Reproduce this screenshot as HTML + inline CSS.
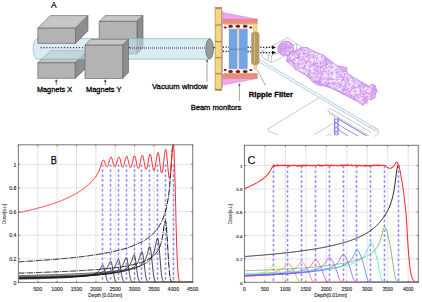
<!DOCTYPE html>
<html><head><meta charset="utf-8"><style>
html,body{margin:0;padding:0;background:#fff;}
body{width:422px;height:302px;overflow:hidden;}
svg{display:block;}
text{font-family:"Liberation Sans",sans-serif;}
</style></head><body>
<svg width="422" height="302" viewBox="0 0 422 302">
<rect x="0" y="0" width="422" height="302" fill="#fff"/>

<line x1="37.8" y1="144.8" x2="37.8" y2="282.4" stroke="#c4c4c4" stroke-width="0.9" stroke-dasharray="1,1"/>
<line x1="57.1" y1="144.8" x2="57.1" y2="282.4" stroke="#c4c4c4" stroke-width="0.9" stroke-dasharray="1,1"/>
<line x1="76.5" y1="144.8" x2="76.5" y2="282.4" stroke="#c4c4c4" stroke-width="0.9" stroke-dasharray="1,1"/>
<line x1="95.9" y1="144.8" x2="95.9" y2="282.4" stroke="#c4c4c4" stroke-width="0.9" stroke-dasharray="1,1"/>
<line x1="115.2" y1="144.8" x2="115.2" y2="282.4" stroke="#c4c4c4" stroke-width="0.9" stroke-dasharray="1,1"/>
<line x1="134.6" y1="144.8" x2="134.6" y2="282.4" stroke="#c4c4c4" stroke-width="0.9" stroke-dasharray="1,1"/>
<line x1="154" y1="144.8" x2="154" y2="282.4" stroke="#c4c4c4" stroke-width="0.9" stroke-dasharray="1,1"/>
<line x1="173.3" y1="144.8" x2="173.3" y2="282.4" stroke="#c4c4c4" stroke-width="0.9" stroke-dasharray="1,1"/>
<line x1="18.4" y1="258.8" x2="192.7" y2="258.8" stroke="#c4c4c4" stroke-width="0.9" stroke-dasharray="1,1"/>
<line x1="18.4" y1="235.2" x2="192.7" y2="235.2" stroke="#c4c4c4" stroke-width="0.9" stroke-dasharray="1,1"/>
<line x1="18.4" y1="211.6" x2="192.7" y2="211.6" stroke="#c4c4c4" stroke-width="0.9" stroke-dasharray="1,1"/>
<line x1="18.4" y1="188" x2="192.7" y2="188" stroke="#c4c4c4" stroke-width="0.9" stroke-dasharray="1,1"/>
<line x1="18.4" y1="164.4" x2="192.7" y2="164.4" stroke="#c4c4c4" stroke-width="0.9" stroke-dasharray="1,1"/>
<line x1="102.5" y1="164.4" x2="102.5" y2="282.4" stroke="#9090fc" stroke-width="1.6" stroke-dasharray="2.7,2.2"/>
<line x1="110.5" y1="164.4" x2="110.5" y2="282.4" stroke="#9090fc" stroke-width="1.6" stroke-dasharray="2.7,2.2"/>
<line x1="118.5" y1="164.4" x2="118.5" y2="282.4" stroke="#9090fc" stroke-width="1.6" stroke-dasharray="2.7,2.2"/>
<line x1="126.5" y1="164.4" x2="126.5" y2="282.4" stroke="#9090fc" stroke-width="1.6" stroke-dasharray="2.7,2.2"/>
<line x1="134.5" y1="164.4" x2="134.5" y2="282.4" stroke="#9090fc" stroke-width="1.6" stroke-dasharray="2.7,2.2"/>
<line x1="141.5" y1="164.4" x2="141.5" y2="282.4" stroke="#9090fc" stroke-width="1.6" stroke-dasharray="2.7,2.2"/>
<line x1="149.5" y1="164.4" x2="149.5" y2="282.4" stroke="#9090fc" stroke-width="1.6" stroke-dasharray="2.7,2.2"/>
<line x1="157.5" y1="164.4" x2="157.5" y2="282.4" stroke="#9090fc" stroke-width="1.6" stroke-dasharray="2.7,2.2"/>
<line x1="165.5" y1="164.4" x2="165.5" y2="282.4" stroke="#9090fc" stroke-width="1.6" stroke-dasharray="2.7,2.2"/>
<line x1="173.5" y1="164.4" x2="173.5" y2="282.4" stroke="#9090fc" stroke-width="1.6" stroke-dasharray="2.7,2.2"/>
<clipPath id="cpB"><rect x="18.4" y="144.8" width="174.3" height="137.6"/></clipPath>
<g clip-path="url(#cpB)" fill="none" stroke-linejoin="round">
<path d="M18.4,279.1 L18.8,279.1 L19.2,279.1 L19.6,279.1 L19.9,279.1 L20.3,279.1 L20.7,279.1 L21.1,279.1 L21.5,279 L21.9,279 L22.3,279 L22.7,279 L23,279 L23.4,279 L23.8,279 L24.2,279 L24.6,279 L25,279 L25.4,279 L25.8,279 L26.1,279 L26.5,279 L26.9,278.9 L27.3,278.9 L27.7,278.9 L28.1,278.9 L28.5,278.9 L28.9,278.9 L29.2,278.9 L29.6,278.9 L30,278.9 L30.4,278.9 L30.8,278.9 L31.2,278.9 L31.6,278.8 L32,278.8 L32.3,278.8 L32.7,278.8 L33.1,278.8 L33.5,278.8 L33.9,278.8 L34.3,278.8 L34.7,278.8 L35.1,278.8 L35.4,278.8 L35.8,278.8 L36.2,278.7 L36.6,278.7 L37,278.7 L37.4,278.7 L37.8,278.7 L38.2,278.7 L38.5,278.7 L38.9,278.7 L39.3,278.7 L39.7,278.7 L40.1,278.7 L40.5,278.6 L40.9,278.6 L41.3,278.6 L41.6,278.6 L42,278.6 L42.4,278.6 L42.8,278.6 L43.2,278.6 L43.6,278.6 L44,278.5 L44.4,278.5 L44.7,278.5 L45.1,278.5 L45.5,278.5 L45.9,278.5 L46.3,278.5 L46.7,278.5 L47.1,278.5 L47.4,278.4 L47.8,278.4 L48.2,278.4 L48.6,278.4 L49,278.4 L49.4,278.4 L49.8,278.4 L50.2,278.4 L50.5,278.3 L50.9,278.3 L51.3,278.3 L51.7,278.3 L52.1,278.3 L52.5,278.3 L52.9,278.3 L53.3,278.3 L53.6,278.2 L54,278.2 L54.4,278.2 L54.8,278.2 L55.2,278.2 L55.6,278.2 L56,278.2 L56.4,278.1 L56.7,278.1 L57.1,278.1 L57.5,278.1 L57.9,278.1 L58.3,278.1 L58.7,278 L59.1,278 L59.5,278 L59.8,278 L60.2,278 L60.6,278 L61,277.9 L61.4,277.9 L61.8,277.9 L62.2,277.9 L62.6,277.9 L62.9,277.9 L63.3,277.8 L63.7,277.8 L64.1,277.8 L64.5,277.8 L64.9,277.8 L65.3,277.7 L65.7,277.7 L66,277.7 L66.4,277.7 L66.8,277.7 L67.2,277.6 L67.6,277.6 L68,277.6 L68.4,277.6 L68.8,277.5 L69.1,277.5 L69.5,277.5 L69.9,277.5 L70.3,277.5 L70.7,277.4 L71.1,277.4 L71.5,277.4 L71.9,277.4 L72.2,277.3 L72.6,277.3 L73,277.3 L73.4,277.2 L73.8,277.2 L74.2,277.2 L74.6,277.2 L75,277.1 L75.3,277.1 L75.7,277.1 L76.1,277 L76.5,277 L76.9,277 L77.3,276.9 L77.7,276.9 L78,276.9 L78.4,276.8 L78.8,276.8 L79.2,276.8 L79.6,276.7 L80,276.7 L80.4,276.6 L80.8,276.6 L81.1,276.5 L81.5,276.5 L81.9,276.5 L82.3,276.4 L82.7,276.4 L83.1,276.3 L83.5,276.3 L83.9,276.2 L84.2,276.2 L84.6,276.1 L85,276.1 L85.4,276 L85.8,275.9 L86.2,275.9 L86.6,275.8 L87,275.8 L87.3,275.7 L87.7,275.6 L88.1,275.5 L88.5,275.5 L88.9,275.4 L89.3,275.3 L89.7,275.2 L90.1,275.2 L90.4,275.1 L90.8,275 L91.2,274.9 L91.6,274.8 L92,274.7 L92.4,274.6 L92.8,274.4 L93.2,274.3 L93.5,274.2 L93.9,274 L94.3,273.9 L94.7,273.7 L95.1,273.6 L95.5,273.4 L95.9,273.2 L96.3,273 L96.6,272.8 L97,272.5 L97.4,272.3 L97.8,272 L98.2,271.6 L98.6,271.3 L99,270.8 L99.4,270.4 L99.7,269.8 L100.1,269.2 L100.5,268.5 L100.9,267.7 L101.3,266.9 L101.7,266.2 L102.1,265.6 L102.5,265.2 L102.8,265.1 L103.2,265.4 L103.6,266.1 L104,267.3 L104.4,268.8 L104.8,270.6 L105.2,272.6 L105.5,274.5 L105.9,276.3 L106.3,277.9 L106.7,279.2 L107.1,280.2 L107.5,281 L107.9,281.5 L108.3,281.9 L108.6,282.1 L109,282.2 L109.4,282.3 L109.8,282.4 L110.2,282.4 L110.6,282.4 L111,282.4 L111.4,282.4 L111.7,282.4 L112.1,282.4 L112.5,282.4 L112.9,282.4 L113.3,282.4 L113.7,282.4 L114.1,282.4 L114.5,282.4 L114.8,282.4 L115.2,282.4 L115.6,282.4 L116,282.4 L116.4,282.4 L116.8,282.4 L117.2,282.4 L117.6,282.4 L117.9,282.4 L118.3,282.4 L118.7,282.4 L119.1,282.4 L119.5,282.4 L119.9,282.4 L120.3,282.4 L120.7,282.4 L121,282.4 L121.4,282.4 L121.8,282.4 L122.2,282.4 L122.6,282.4 L123,282.4 L123.4,282.4 L123.8,282.4 L124.1,282.4 L124.5,282.4 L124.9,282.4 L125.3,282.4 L125.7,282.4 L126.1,282.4 L126.5,282.4 L126.9,282.4 L127.2,282.4 L127.6,282.4 L128,282.4 L128.4,282.4 L128.8,282.4 L129.2,282.4 L129.6,282.4 L130,282.4 L130.3,282.4 L130.7,282.4 L131.1,282.4 L131.5,282.4 L131.9,282.4 L132.3,282.4 L132.7,282.4 L133.1,282.4 L133.4,282.4 L133.8,282.4 L134.2,282.4 L134.6,282.4 L135,282.4 L135.4,282.4 L135.8,282.4 L136.1,282.4 L136.5,282.4 L136.9,282.4 L137.3,282.4 L137.7,282.4 L138.1,282.4 L138.5,282.4 L138.9,282.4 L139.2,282.4 L139.6,282.4 L140,282.4 L140.4,282.4 L140.8,282.4 L141.2,282.4 L141.6,282.4 L142,282.4 L142.3,282.4 L142.7,282.4 L143.1,282.4 L143.5,282.4 L143.9,282.4 L144.3,282.4 L144.7,282.4 L145.1,282.4 L145.4,282.4 L145.8,282.4 L146.2,282.4 L146.6,282.4 L147,282.4 L147.4,282.4 L147.8,282.4 L148.2,282.4 L148.5,282.4 L148.9,282.4 L149.3,282.4 L149.7,282.4 L150.1,282.4 L150.5,282.4 L150.9,282.4 L151.3,282.4 L151.6,282.4 L152,282.4 L152.4,282.4 L152.8,282.4 L153.2,282.4 L153.6,282.4 L154,282.4 L154.4,282.4 L154.7,282.4 L155.1,282.4 L155.5,282.4 L155.9,282.4 L156.3,282.4 L156.7,282.4 L157.1,282.4 L157.5,282.4 L157.8,282.4 L158.2,282.4 L158.6,282.4 L159,282.4 L159.4,282.4 L159.8,282.4 L160.2,282.4 L160.6,282.4 L160.9,282.4 L161.3,282.4 L161.7,282.4 L162.1,282.4 L162.5,282.4 L162.9,282.4 L163.3,282.4 L163.6,282.4 L164,282.4 L164.4,282.4 L164.8,282.4 L165.2,282.4 L165.6,282.4 L166,282.4 L166.4,282.4 L166.7,282.4 L167.1,282.4 L167.5,282.4 L167.9,282.4 L168.3,282.4 L168.7,282.4 L169.1,282.4 L169.5,282.4 L169.8,282.4 L170.2,282.4 L170.6,282.4 L171,282.4 L171.4,282.4 L171.8,282.4 L172.2,282.4 L172.6,282.4 L172.9,282.4 L173.3,282.4 L173.7,282.4 L174.1,282.4 L174.5,282.4 L174.9,282.4 L175.3,282.4 L175.7,282.4 L176,282.4 L176.4,282.4 L176.8,282.4 L177.2,282.4 L177.6,282.4 L178,282.4 L178.4,282.4 L178.8,282.4 L179.1,282.4 L179.5,282.4 L179.9,282.4 L180.3,282.4 L180.7,282.4 L181.1,282.4 L181.5,282.4 L181.9,282.4 L182.2,282.4 L182.6,282.4 L183,282.4 L183.4,282.4 L183.8,282.4 L184.2,282.4 L184.6,282.4 L185,282.4 L185.3,282.4 L185.7,282.4 L186.1,282.4 L186.5,282.4 L186.9,282.4 L187.3,282.4 L187.7,282.4 L188.1,282.4 L188.4,282.4 L188.8,282.4 L189.2,282.4 L189.6,282.4 L190,282.4 L190.4,282.4 L190.8,282.4 L191.2,282.4 L191.5,282.4 L191.9,282.4 L192.3,282.4 L192.7,282.4" stroke="#1a1a1a" stroke-width="0.8" />
<path d="M18.4,278.5 L18.8,278.5 L19.2,278.5 L19.6,278.5 L19.9,278.5 L20.3,278.5 L20.7,278.5 L21.1,278.4 L21.5,278.4 L21.9,278.4 L22.3,278.4 L22.7,278.4 L23,278.4 L23.4,278.4 L23.8,278.4 L24.2,278.4 L24.6,278.4 L25,278.4 L25.4,278.4 L25.8,278.4 L26.1,278.3 L26.5,278.3 L26.9,278.3 L27.3,278.3 L27.7,278.3 L28.1,278.3 L28.5,278.3 L28.9,278.3 L29.2,278.3 L29.6,278.3 L30,278.3 L30.4,278.3 L30.8,278.2 L31.2,278.2 L31.6,278.2 L32,278.2 L32.3,278.2 L32.7,278.2 L33.1,278.2 L33.5,278.2 L33.9,278.2 L34.3,278.2 L34.7,278.2 L35.1,278.2 L35.4,278.1 L35.8,278.1 L36.2,278.1 L36.6,278.1 L37,278.1 L37.4,278.1 L37.8,278.1 L38.2,278.1 L38.5,278.1 L38.9,278.1 L39.3,278 L39.7,278 L40.1,278 L40.5,278 L40.9,278 L41.3,278 L41.6,278 L42,278 L42.4,278 L42.8,278 L43.2,277.9 L43.6,277.9 L44,277.9 L44.4,277.9 L44.7,277.9 L45.1,277.9 L45.5,277.9 L45.9,277.9 L46.3,277.8 L46.7,277.8 L47.1,277.8 L47.4,277.8 L47.8,277.8 L48.2,277.8 L48.6,277.8 L49,277.8 L49.4,277.8 L49.8,277.7 L50.2,277.7 L50.5,277.7 L50.9,277.7 L51.3,277.7 L51.7,277.7 L52.1,277.7 L52.5,277.6 L52.9,277.6 L53.3,277.6 L53.6,277.6 L54,277.6 L54.4,277.6 L54.8,277.6 L55.2,277.6 L55.6,277.5 L56,277.5 L56.4,277.5 L56.7,277.5 L57.1,277.5 L57.5,277.5 L57.9,277.4 L58.3,277.4 L58.7,277.4 L59.1,277.4 L59.5,277.4 L59.8,277.4 L60.2,277.4 L60.6,277.3 L61,277.3 L61.4,277.3 L61.8,277.3 L62.2,277.3 L62.6,277.3 L62.9,277.2 L63.3,277.2 L63.7,277.2 L64.1,277.2 L64.5,277.2 L64.9,277.1 L65.3,277.1 L65.7,277.1 L66,277.1 L66.4,277.1 L66.8,277 L67.2,277 L67.6,277 L68,277 L68.4,277 L68.8,276.9 L69.1,276.9 L69.5,276.9 L69.9,276.9 L70.3,276.9 L70.7,276.8 L71.1,276.8 L71.5,276.8 L71.9,276.8 L72.2,276.7 L72.6,276.7 L73,276.7 L73.4,276.7 L73.8,276.6 L74.2,276.6 L74.6,276.6 L75,276.6 L75.3,276.5 L75.7,276.5 L76.1,276.5 L76.5,276.5 L76.9,276.4 L77.3,276.4 L77.7,276.4 L78,276.3 L78.4,276.3 L78.8,276.3 L79.2,276.2 L79.6,276.2 L80,276.2 L80.4,276.1 L80.8,276.1 L81.1,276.1 L81.5,276 L81.9,276 L82.3,276 L82.7,275.9 L83.1,275.9 L83.5,275.9 L83.9,275.8 L84.2,275.8 L84.6,275.7 L85,275.7 L85.4,275.7 L85.8,275.6 L86.2,275.6 L86.6,275.5 L87,275.5 L87.3,275.4 L87.7,275.4 L88.1,275.3 L88.5,275.3 L88.9,275.2 L89.3,275.2 L89.7,275.1 L90.1,275.1 L90.4,275 L90.8,275 L91.2,274.9 L91.6,274.8 L92,274.8 L92.4,274.7 L92.8,274.6 L93.2,274.6 L93.5,274.5 L93.9,274.4 L94.3,274.3 L94.7,274.3 L95.1,274.2 L95.5,274.1 L95.9,274 L96.3,273.9 L96.6,273.8 L97,273.7 L97.4,273.6 L97.8,273.5 L98.2,273.4 L98.6,273.3 L99,273.2 L99.4,273.1 L99.7,272.9 L100.1,272.8 L100.5,272.7 L100.9,272.5 L101.3,272.3 L101.7,272.2 L102.1,272 L102.5,271.8 L102.8,271.6 L103.2,271.4 L103.6,271.2 L104,270.9 L104.4,270.7 L104.8,270.4 L105.2,270 L105.5,269.7 L105.9,269.3 L106.3,268.8 L106.7,268.3 L107.1,267.7 L107.5,267.1 L107.9,266.3 L108.3,265.5 L108.6,264.6 L109,263.6 L109.4,262.7 L109.8,261.9 L110.2,261.4 L110.6,261.2 L111,261.4 L111.4,262.2 L111.7,263.5 L112.1,265.3 L112.5,267.5 L112.9,269.8 L113.3,272.2 L113.7,274.5 L114.1,276.5 L114.5,278.2 L114.8,279.5 L115.2,280.5 L115.6,281.2 L116,281.7 L116.4,282 L116.8,282.2 L117.2,282.3 L117.6,282.3 L117.9,282.4 L118.3,282.4 L118.7,282.4 L119.1,282.4 L119.5,282.4 L119.9,282.4 L120.3,282.4 L120.7,282.4 L121,282.4 L121.4,282.4 L121.8,282.4 L122.2,282.4 L122.6,282.4 L123,282.4 L123.4,282.4 L123.8,282.4 L124.1,282.4 L124.5,282.4 L124.9,282.4 L125.3,282.4 L125.7,282.4 L126.1,282.4 L126.5,282.4 L126.9,282.4 L127.2,282.4 L127.6,282.4 L128,282.4 L128.4,282.4 L128.8,282.4 L129.2,282.4 L129.6,282.4 L130,282.4 L130.3,282.4 L130.7,282.4 L131.1,282.4 L131.5,282.4 L131.9,282.4 L132.3,282.4 L132.7,282.4 L133.1,282.4 L133.4,282.4 L133.8,282.4 L134.2,282.4 L134.6,282.4 L135,282.4 L135.4,282.4 L135.8,282.4 L136.1,282.4 L136.5,282.4 L136.9,282.4 L137.3,282.4 L137.7,282.4 L138.1,282.4 L138.5,282.4 L138.9,282.4 L139.2,282.4 L139.6,282.4 L140,282.4 L140.4,282.4 L140.8,282.4 L141.2,282.4 L141.6,282.4 L142,282.4 L142.3,282.4 L142.7,282.4 L143.1,282.4 L143.5,282.4 L143.9,282.4 L144.3,282.4 L144.7,282.4 L145.1,282.4 L145.4,282.4 L145.8,282.4 L146.2,282.4 L146.6,282.4 L147,282.4 L147.4,282.4 L147.8,282.4 L148.2,282.4 L148.5,282.4 L148.9,282.4 L149.3,282.4 L149.7,282.4 L150.1,282.4 L150.5,282.4 L150.9,282.4 L151.3,282.4 L151.6,282.4 L152,282.4 L152.4,282.4 L152.8,282.4 L153.2,282.4 L153.6,282.4 L154,282.4 L154.4,282.4 L154.7,282.4 L155.1,282.4 L155.5,282.4 L155.9,282.4 L156.3,282.4 L156.7,282.4 L157.1,282.4 L157.5,282.4 L157.8,282.4 L158.2,282.4 L158.6,282.4 L159,282.4 L159.4,282.4 L159.8,282.4 L160.2,282.4 L160.6,282.4 L160.9,282.4 L161.3,282.4 L161.7,282.4 L162.1,282.4 L162.5,282.4 L162.9,282.4 L163.3,282.4 L163.6,282.4 L164,282.4 L164.4,282.4 L164.8,282.4 L165.2,282.4 L165.6,282.4 L166,282.4 L166.4,282.4 L166.7,282.4 L167.1,282.4 L167.5,282.4 L167.9,282.4 L168.3,282.4 L168.7,282.4 L169.1,282.4 L169.5,282.4 L169.8,282.4 L170.2,282.4 L170.6,282.4 L171,282.4 L171.4,282.4 L171.8,282.4 L172.2,282.4 L172.6,282.4 L172.9,282.4 L173.3,282.4 L173.7,282.4 L174.1,282.4 L174.5,282.4 L174.9,282.4 L175.3,282.4 L175.7,282.4 L176,282.4 L176.4,282.4 L176.8,282.4 L177.2,282.4 L177.6,282.4 L178,282.4 L178.4,282.4 L178.8,282.4 L179.1,282.4 L179.5,282.4 L179.9,282.4 L180.3,282.4 L180.7,282.4 L181.1,282.4 L181.5,282.4 L181.9,282.4 L182.2,282.4 L182.6,282.4 L183,282.4 L183.4,282.4 L183.8,282.4 L184.2,282.4 L184.6,282.4 L185,282.4 L185.3,282.4 L185.7,282.4 L186.1,282.4 L186.5,282.4 L186.9,282.4 L187.3,282.4 L187.7,282.4 L188.1,282.4 L188.4,282.4 L188.8,282.4 L189.2,282.4 L189.6,282.4 L190,282.4 L190.4,282.4 L190.8,282.4 L191.2,282.4 L191.5,282.4 L191.9,282.4 L192.3,282.4 L192.7,282.4" stroke="#1a1a1a" stroke-width="0.8" />
<path d="M18.4,278.4 L18.8,278.4 L19.2,278.4 L19.6,278.4 L19.9,278.3 L20.3,278.3 L20.7,278.3 L21.1,278.3 L21.5,278.3 L21.9,278.3 L22.3,278.3 L22.7,278.3 L23,278.3 L23.4,278.3 L23.8,278.3 L24.2,278.3 L24.6,278.3 L25,278.3 L25.4,278.2 L25.8,278.2 L26.1,278.2 L26.5,278.2 L26.9,278.2 L27.3,278.2 L27.7,278.2 L28.1,278.2 L28.5,278.2 L28.9,278.2 L29.2,278.2 L29.6,278.2 L30,278.2 L30.4,278.1 L30.8,278.1 L31.2,278.1 L31.6,278.1 L32,278.1 L32.3,278.1 L32.7,278.1 L33.1,278.1 L33.5,278.1 L33.9,278.1 L34.3,278.1 L34.7,278.1 L35.1,278 L35.4,278 L35.8,278 L36.2,278 L36.6,278 L37,278 L37.4,278 L37.8,278 L38.2,278 L38.5,278 L38.9,278 L39.3,277.9 L39.7,277.9 L40.1,277.9 L40.5,277.9 L40.9,277.9 L41.3,277.9 L41.6,277.9 L42,277.9 L42.4,277.9 L42.8,277.9 L43.2,277.9 L43.6,277.8 L44,277.8 L44.4,277.8 L44.7,277.8 L45.1,277.8 L45.5,277.8 L45.9,277.8 L46.3,277.8 L46.7,277.8 L47.1,277.7 L47.4,277.7 L47.8,277.7 L48.2,277.7 L48.6,277.7 L49,277.7 L49.4,277.7 L49.8,277.7 L50.2,277.7 L50.5,277.6 L50.9,277.6 L51.3,277.6 L51.7,277.6 L52.1,277.6 L52.5,277.6 L52.9,277.6 L53.3,277.6 L53.6,277.6 L54,277.5 L54.4,277.5 L54.8,277.5 L55.2,277.5 L55.6,277.5 L56,277.5 L56.4,277.5 L56.7,277.4 L57.1,277.4 L57.5,277.4 L57.9,277.4 L58.3,277.4 L58.7,277.4 L59.1,277.4 L59.5,277.4 L59.8,277.3 L60.2,277.3 L60.6,277.3 L61,277.3 L61.4,277.3 L61.8,277.3 L62.2,277.3 L62.6,277.2 L62.9,277.2 L63.3,277.2 L63.7,277.2 L64.1,277.2 L64.5,277.2 L64.9,277.1 L65.3,277.1 L65.7,277.1 L66,277.1 L66.4,277.1 L66.8,277.1 L67.2,277 L67.6,277 L68,277 L68.4,277 L68.8,277 L69.1,277 L69.5,276.9 L69.9,276.9 L70.3,276.9 L70.7,276.9 L71.1,276.9 L71.5,276.8 L71.9,276.8 L72.2,276.8 L72.6,276.8 L73,276.8 L73.4,276.7 L73.8,276.7 L74.2,276.7 L74.6,276.7 L75,276.7 L75.3,276.6 L75.7,276.6 L76.1,276.6 L76.5,276.6 L76.9,276.5 L77.3,276.5 L77.7,276.5 L78,276.5 L78.4,276.5 L78.8,276.4 L79.2,276.4 L79.6,276.4 L80,276.4 L80.4,276.3 L80.8,276.3 L81.1,276.3 L81.5,276.2 L81.9,276.2 L82.3,276.2 L82.7,276.2 L83.1,276.1 L83.5,276.1 L83.9,276.1 L84.2,276 L84.6,276 L85,276 L85.4,276 L85.8,275.9 L86.2,275.9 L86.6,275.9 L87,275.8 L87.3,275.8 L87.7,275.8 L88.1,275.7 L88.5,275.7 L88.9,275.7 L89.3,275.6 L89.7,275.6 L90.1,275.5 L90.4,275.5 L90.8,275.5 L91.2,275.4 L91.6,275.4 L92,275.3 L92.4,275.3 L92.8,275.2 L93.2,275.2 L93.5,275.2 L93.9,275.1 L94.3,275.1 L94.7,275 L95.1,275 L95.5,274.9 L95.9,274.9 L96.3,274.8 L96.6,274.7 L97,274.7 L97.4,274.6 L97.8,274.6 L98.2,274.5 L98.6,274.5 L99,274.4 L99.4,274.3 L99.7,274.3 L100.1,274.2 L100.5,274.1 L100.9,274 L101.3,274 L101.7,273.9 L102.1,273.8 L102.5,273.7 L102.8,273.6 L103.2,273.5 L103.6,273.5 L104,273.4 L104.4,273.3 L104.8,273.2 L105.2,273 L105.5,272.9 L105.9,272.8 L106.3,272.7 L106.7,272.6 L107.1,272.4 L107.5,272.3 L107.9,272.2 L108.3,272 L108.6,271.9 L109,271.7 L109.4,271.5 L109.8,271.3 L110.2,271.1 L110.6,270.9 L111,270.7 L111.4,270.4 L111.7,270.2 L112.1,269.9 L112.5,269.6 L112.9,269.3 L113.3,268.9 L113.7,268.5 L114.1,268 L114.5,267.5 L114.8,266.9 L115.2,266.2 L115.6,265.4 L116,264.5 L116.4,263.5 L116.8,262.5 L117.2,261.5 L117.6,260.7 L117.9,260 L118.3,259.7 L118.7,259.9 L119.1,260.6 L119.5,261.9 L119.9,263.7 L120.3,266 L120.7,268.5 L121,271 L121.4,273.5 L121.8,275.7 L122.2,277.6 L122.6,279.1 L123,280.2 L123.4,281 L123.8,281.6 L124.1,281.9 L124.5,282.1 L124.9,282.3 L125.3,282.3 L125.7,282.4 L126.1,282.4 L126.5,282.4 L126.9,282.4 L127.2,282.4 L127.6,282.4 L128,282.4 L128.4,282.4 L128.8,282.4 L129.2,282.4 L129.6,282.4 L130,282.4 L130.3,282.4 L130.7,282.4 L131.1,282.4 L131.5,282.4 L131.9,282.4 L132.3,282.4 L132.7,282.4 L133.1,282.4 L133.4,282.4 L133.8,282.4 L134.2,282.4 L134.6,282.4 L135,282.4 L135.4,282.4 L135.8,282.4 L136.1,282.4 L136.5,282.4 L136.9,282.4 L137.3,282.4 L137.7,282.4 L138.1,282.4 L138.5,282.4 L138.9,282.4 L139.2,282.4 L139.6,282.4 L140,282.4 L140.4,282.4 L140.8,282.4 L141.2,282.4 L141.6,282.4 L142,282.4 L142.3,282.4 L142.7,282.4 L143.1,282.4 L143.5,282.4 L143.9,282.4 L144.3,282.4 L144.7,282.4 L145.1,282.4 L145.4,282.4 L145.8,282.4 L146.2,282.4 L146.6,282.4 L147,282.4 L147.4,282.4 L147.8,282.4 L148.2,282.4 L148.5,282.4 L148.9,282.4 L149.3,282.4 L149.7,282.4 L150.1,282.4 L150.5,282.4 L150.9,282.4 L151.3,282.4 L151.6,282.4 L152,282.4 L152.4,282.4 L152.8,282.4 L153.2,282.4 L153.6,282.4 L154,282.4 L154.4,282.4 L154.7,282.4 L155.1,282.4 L155.5,282.4 L155.9,282.4 L156.3,282.4 L156.7,282.4 L157.1,282.4 L157.5,282.4 L157.8,282.4 L158.2,282.4 L158.6,282.4 L159,282.4 L159.4,282.4 L159.8,282.4 L160.2,282.4 L160.6,282.4 L160.9,282.4 L161.3,282.4 L161.7,282.4 L162.1,282.4 L162.5,282.4 L162.9,282.4 L163.3,282.4 L163.6,282.4 L164,282.4 L164.4,282.4 L164.8,282.4 L165.2,282.4 L165.6,282.4 L166,282.4 L166.4,282.4 L166.7,282.4 L167.1,282.4 L167.5,282.4 L167.9,282.4 L168.3,282.4 L168.7,282.4 L169.1,282.4 L169.5,282.4 L169.8,282.4 L170.2,282.4 L170.6,282.4 L171,282.4 L171.4,282.4 L171.8,282.4 L172.2,282.4 L172.6,282.4 L172.9,282.4 L173.3,282.4 L173.7,282.4 L174.1,282.4 L174.5,282.4 L174.9,282.4 L175.3,282.4 L175.7,282.4 L176,282.4 L176.4,282.4 L176.8,282.4 L177.2,282.4 L177.6,282.4 L178,282.4 L178.4,282.4 L178.8,282.4 L179.1,282.4 L179.5,282.4 L179.9,282.4 L180.3,282.4 L180.7,282.4 L181.1,282.4 L181.5,282.4 L181.9,282.4 L182.2,282.4 L182.6,282.4 L183,282.4 L183.4,282.4 L183.8,282.4 L184.2,282.4 L184.6,282.4 L185,282.4 L185.3,282.4 L185.7,282.4 L186.1,282.4 L186.5,282.4 L186.9,282.4 L187.3,282.4 L187.7,282.4 L188.1,282.4 L188.4,282.4 L188.8,282.4 L189.2,282.4 L189.6,282.4 L190,282.4 L190.4,282.4 L190.8,282.4 L191.2,282.4 L191.5,282.4 L191.9,282.4 L192.3,282.4 L192.7,282.4" stroke="#1a1a1a" stroke-width="0.8" />
<path d="M18.4,278.1 L18.8,278.1 L19.2,278.1 L19.6,278.1 L19.9,278.1 L20.3,278.1 L20.7,278.1 L21.1,278.1 L21.5,278.1 L21.9,278.1 L22.3,278.1 L22.7,278.1 L23,278.1 L23.4,278.1 L23.8,278.1 L24.2,278 L24.6,278 L25,278 L25.4,278 L25.8,278 L26.1,278 L26.5,278 L26.9,278 L27.3,278 L27.7,278 L28.1,278 L28.5,278 L28.9,278 L29.2,278 L29.6,277.9 L30,277.9 L30.4,277.9 L30.8,277.9 L31.2,277.9 L31.6,277.9 L32,277.9 L32.3,277.9 L32.7,277.9 L33.1,277.9 L33.5,277.9 L33.9,277.9 L34.3,277.8 L34.7,277.8 L35.1,277.8 L35.4,277.8 L35.8,277.8 L36.2,277.8 L36.6,277.8 L37,277.8 L37.4,277.8 L37.8,277.8 L38.2,277.8 L38.5,277.8 L38.9,277.7 L39.3,277.7 L39.7,277.7 L40.1,277.7 L40.5,277.7 L40.9,277.7 L41.3,277.7 L41.6,277.7 L42,277.7 L42.4,277.7 L42.8,277.7 L43.2,277.6 L43.6,277.6 L44,277.6 L44.4,277.6 L44.7,277.6 L45.1,277.6 L45.5,277.6 L45.9,277.6 L46.3,277.6 L46.7,277.6 L47.1,277.5 L47.4,277.5 L47.8,277.5 L48.2,277.5 L48.6,277.5 L49,277.5 L49.4,277.5 L49.8,277.5 L50.2,277.5 L50.5,277.5 L50.9,277.4 L51.3,277.4 L51.7,277.4 L52.1,277.4 L52.5,277.4 L52.9,277.4 L53.3,277.4 L53.6,277.4 L54,277.4 L54.4,277.3 L54.8,277.3 L55.2,277.3 L55.6,277.3 L56,277.3 L56.4,277.3 L56.7,277.3 L57.1,277.3 L57.5,277.2 L57.9,277.2 L58.3,277.2 L58.7,277.2 L59.1,277.2 L59.5,277.2 L59.8,277.2 L60.2,277.2 L60.6,277.1 L61,277.1 L61.4,277.1 L61.8,277.1 L62.2,277.1 L62.6,277.1 L62.9,277.1 L63.3,277 L63.7,277 L64.1,277 L64.5,277 L64.9,277 L65.3,277 L65.7,277 L66,276.9 L66.4,276.9 L66.8,276.9 L67.2,276.9 L67.6,276.9 L68,276.9 L68.4,276.9 L68.8,276.8 L69.1,276.8 L69.5,276.8 L69.9,276.8 L70.3,276.8 L70.7,276.8 L71.1,276.7 L71.5,276.7 L71.9,276.7 L72.2,276.7 L72.6,276.7 L73,276.7 L73.4,276.6 L73.8,276.6 L74.2,276.6 L74.6,276.6 L75,276.6 L75.3,276.5 L75.7,276.5 L76.1,276.5 L76.5,276.5 L76.9,276.5 L77.3,276.4 L77.7,276.4 L78,276.4 L78.4,276.4 L78.8,276.4 L79.2,276.3 L79.6,276.3 L80,276.3 L80.4,276.3 L80.8,276.3 L81.1,276.2 L81.5,276.2 L81.9,276.2 L82.3,276.2 L82.7,276.1 L83.1,276.1 L83.5,276.1 L83.9,276.1 L84.2,276.1 L84.6,276 L85,276 L85.4,276 L85.8,276 L86.2,275.9 L86.6,275.9 L87,275.9 L87.3,275.8 L87.7,275.8 L88.1,275.8 L88.5,275.8 L88.9,275.7 L89.3,275.7 L89.7,275.7 L90.1,275.6 L90.4,275.6 L90.8,275.6 L91.2,275.5 L91.6,275.5 L92,275.5 L92.4,275.5 L92.8,275.4 L93.2,275.4 L93.5,275.4 L93.9,275.3 L94.3,275.3 L94.7,275.2 L95.1,275.2 L95.5,275.2 L95.9,275.1 L96.3,275.1 L96.6,275.1 L97,275 L97.4,275 L97.8,274.9 L98.2,274.9 L98.6,274.8 L99,274.8 L99.4,274.8 L99.7,274.7 L100.1,274.7 L100.5,274.6 L100.9,274.6 L101.3,274.5 L101.7,274.5 L102.1,274.4 L102.5,274.4 L102.8,274.3 L103.2,274.2 L103.6,274.2 L104,274.1 L104.4,274.1 L104.8,274 L105.2,273.9 L105.5,273.9 L105.9,273.8 L106.3,273.8 L106.7,273.7 L107.1,273.6 L107.5,273.5 L107.9,273.5 L108.3,273.4 L108.6,273.3 L109,273.2 L109.4,273.1 L109.8,273 L110.2,273 L110.6,272.9 L111,272.8 L111.4,272.7 L111.7,272.6 L112.1,272.5 L112.5,272.3 L112.9,272.2 L113.3,272.1 L113.7,272 L114.1,271.9 L114.5,271.7 L114.8,271.6 L115.2,271.4 L115.6,271.3 L116,271.1 L116.4,270.9 L116.8,270.8 L117.2,270.6 L117.6,270.4 L117.9,270.2 L118.3,269.9 L118.7,269.7 L119.1,269.4 L119.5,269.1 L119.9,268.8 L120.3,268.5 L120.7,268.2 L121,267.8 L121.4,267.3 L121.8,266.8 L122.2,266.3 L122.6,265.6 L123,264.9 L123.4,264 L123.8,263.1 L124.1,262.1 L124.5,261 L124.9,259.9 L125.3,258.9 L125.7,258.1 L126.1,257.7 L126.5,257.8 L126.9,258.4 L127.2,259.7 L127.6,261.6 L128,264 L128.4,266.7 L128.8,269.4 L129.2,272.2 L129.6,274.6 L130,276.8 L130.3,278.5 L130.7,279.8 L131.1,280.7 L131.5,281.4 L131.9,281.8 L132.3,282.1 L132.7,282.2 L133.1,282.3 L133.4,282.4 L133.8,282.4 L134.2,282.4 L134.6,282.4 L135,282.4 L135.4,282.4 L135.8,282.4 L136.1,282.4 L136.5,282.4 L136.9,282.4 L137.3,282.4 L137.7,282.4 L138.1,282.4 L138.5,282.4 L138.9,282.4 L139.2,282.4 L139.6,282.4 L140,282.4 L140.4,282.4 L140.8,282.4 L141.2,282.4 L141.6,282.4 L142,282.4 L142.3,282.4 L142.7,282.4 L143.1,282.4 L143.5,282.4 L143.9,282.4 L144.3,282.4 L144.7,282.4 L145.1,282.4 L145.4,282.4 L145.8,282.4 L146.2,282.4 L146.6,282.4 L147,282.4 L147.4,282.4 L147.8,282.4 L148.2,282.4 L148.5,282.4 L148.9,282.4 L149.3,282.4 L149.7,282.4 L150.1,282.4 L150.5,282.4 L150.9,282.4 L151.3,282.4 L151.6,282.4 L152,282.4 L152.4,282.4 L152.8,282.4 L153.2,282.4 L153.6,282.4 L154,282.4 L154.4,282.4 L154.7,282.4 L155.1,282.4 L155.5,282.4 L155.9,282.4 L156.3,282.4 L156.7,282.4 L157.1,282.4 L157.5,282.4 L157.8,282.4 L158.2,282.4 L158.6,282.4 L159,282.4 L159.4,282.4 L159.8,282.4 L160.2,282.4 L160.6,282.4 L160.9,282.4 L161.3,282.4 L161.7,282.4 L162.1,282.4 L162.5,282.4 L162.9,282.4 L163.3,282.4 L163.6,282.4 L164,282.4 L164.4,282.4 L164.8,282.4 L165.2,282.4 L165.6,282.4 L166,282.4 L166.4,282.4 L166.7,282.4 L167.1,282.4 L167.5,282.4 L167.9,282.4 L168.3,282.4 L168.7,282.4 L169.1,282.4 L169.5,282.4 L169.8,282.4 L170.2,282.4 L170.6,282.4 L171,282.4 L171.4,282.4 L171.8,282.4 L172.2,282.4 L172.6,282.4 L172.9,282.4 L173.3,282.4 L173.7,282.4 L174.1,282.4 L174.5,282.4 L174.9,282.4 L175.3,282.4 L175.7,282.4 L176,282.4 L176.4,282.4 L176.8,282.4 L177.2,282.4 L177.6,282.4 L178,282.4 L178.4,282.4 L178.8,282.4 L179.1,282.4 L179.5,282.4 L179.9,282.4 L180.3,282.4 L180.7,282.4 L181.1,282.4 L181.5,282.4 L181.9,282.4 L182.2,282.4 L182.6,282.4 L183,282.4 L183.4,282.4 L183.8,282.4 L184.2,282.4 L184.6,282.4 L185,282.4 L185.3,282.4 L185.7,282.4 L186.1,282.4 L186.5,282.4 L186.9,282.4 L187.3,282.4 L187.7,282.4 L188.1,282.4 L188.4,282.4 L188.8,282.4 L189.2,282.4 L189.6,282.4 L190,282.4 L190.4,282.4 L190.8,282.4 L191.2,282.4 L191.5,282.4 L191.9,282.4 L192.3,282.4 L192.7,282.4" stroke="#1a1a1a" stroke-width="0.8" />
<path d="M18.4,277.8 L18.8,277.8 L19.2,277.8 L19.6,277.8 L19.9,277.8 L20.3,277.8 L20.7,277.8 L21.1,277.8 L21.5,277.8 L21.9,277.8 L22.3,277.8 L22.7,277.8 L23,277.8 L23.4,277.8 L23.8,277.7 L24.2,277.7 L24.6,277.7 L25,277.7 L25.4,277.7 L25.8,277.7 L26.1,277.7 L26.5,277.7 L26.9,277.7 L27.3,277.7 L27.7,277.7 L28.1,277.7 L28.5,277.7 L28.9,277.7 L29.2,277.6 L29.6,277.6 L30,277.6 L30.4,277.6 L30.8,277.6 L31.2,277.6 L31.6,277.6 L32,277.6 L32.3,277.6 L32.7,277.6 L33.1,277.6 L33.5,277.6 L33.9,277.6 L34.3,277.5 L34.7,277.5 L35.1,277.5 L35.4,277.5 L35.8,277.5 L36.2,277.5 L36.6,277.5 L37,277.5 L37.4,277.5 L37.8,277.5 L38.2,277.5 L38.5,277.5 L38.9,277.4 L39.3,277.4 L39.7,277.4 L40.1,277.4 L40.5,277.4 L40.9,277.4 L41.3,277.4 L41.6,277.4 L42,277.4 L42.4,277.4 L42.8,277.4 L43.2,277.3 L43.6,277.3 L44,277.3 L44.4,277.3 L44.7,277.3 L45.1,277.3 L45.5,277.3 L45.9,277.3 L46.3,277.3 L46.7,277.3 L47.1,277.3 L47.4,277.2 L47.8,277.2 L48.2,277.2 L48.6,277.2 L49,277.2 L49.4,277.2 L49.8,277.2 L50.2,277.2 L50.5,277.2 L50.9,277.2 L51.3,277.1 L51.7,277.1 L52.1,277.1 L52.5,277.1 L52.9,277.1 L53.3,277.1 L53.6,277.1 L54,277.1 L54.4,277.1 L54.8,277 L55.2,277 L55.6,277 L56,277 L56.4,277 L56.7,277 L57.1,277 L57.5,277 L57.9,277 L58.3,276.9 L58.7,276.9 L59.1,276.9 L59.5,276.9 L59.8,276.9 L60.2,276.9 L60.6,276.9 L61,276.9 L61.4,276.8 L61.8,276.8 L62.2,276.8 L62.6,276.8 L62.9,276.8 L63.3,276.8 L63.7,276.8 L64.1,276.7 L64.5,276.7 L64.9,276.7 L65.3,276.7 L65.7,276.7 L66,276.7 L66.4,276.7 L66.8,276.7 L67.2,276.6 L67.6,276.6 L68,276.6 L68.4,276.6 L68.8,276.6 L69.1,276.6 L69.5,276.6 L69.9,276.5 L70.3,276.5 L70.7,276.5 L71.1,276.5 L71.5,276.5 L71.9,276.5 L72.2,276.4 L72.6,276.4 L73,276.4 L73.4,276.4 L73.8,276.4 L74.2,276.4 L74.6,276.3 L75,276.3 L75.3,276.3 L75.7,276.3 L76.1,276.3 L76.5,276.3 L76.9,276.2 L77.3,276.2 L77.7,276.2 L78,276.2 L78.4,276.2 L78.8,276.2 L79.2,276.1 L79.6,276.1 L80,276.1 L80.4,276.1 L80.8,276.1 L81.1,276 L81.5,276 L81.9,276 L82.3,276 L82.7,276 L83.1,275.9 L83.5,275.9 L83.9,275.9 L84.2,275.9 L84.6,275.9 L85,275.8 L85.4,275.8 L85.8,275.8 L86.2,275.8 L86.6,275.7 L87,275.7 L87.3,275.7 L87.7,275.7 L88.1,275.6 L88.5,275.6 L88.9,275.6 L89.3,275.6 L89.7,275.5 L90.1,275.5 L90.4,275.5 L90.8,275.5 L91.2,275.4 L91.6,275.4 L92,275.4 L92.4,275.4 L92.8,275.3 L93.2,275.3 L93.5,275.3 L93.9,275.3 L94.3,275.2 L94.7,275.2 L95.1,275.2 L95.5,275.1 L95.9,275.1 L96.3,275.1 L96.6,275 L97,275 L97.4,275 L97.8,274.9 L98.2,274.9 L98.6,274.9 L99,274.8 L99.4,274.8 L99.7,274.8 L100.1,274.7 L100.5,274.7 L100.9,274.7 L101.3,274.6 L101.7,274.6 L102.1,274.5 L102.5,274.5 L102.8,274.5 L103.2,274.4 L103.6,274.4 L104,274.3 L104.4,274.3 L104.8,274.2 L105.2,274.2 L105.5,274.2 L105.9,274.1 L106.3,274.1 L106.7,274 L107.1,274 L107.5,273.9 L107.9,273.9 L108.3,273.8 L108.6,273.8 L109,273.7 L109.4,273.6 L109.8,273.6 L110.2,273.5 L110.6,273.5 L111,273.4 L111.4,273.3 L111.7,273.3 L112.1,273.2 L112.5,273.1 L112.9,273.1 L113.3,273 L113.7,272.9 L114.1,272.9 L114.5,272.8 L114.8,272.7 L115.2,272.6 L115.6,272.5 L116,272.5 L116.4,272.4 L116.8,272.3 L117.2,272.2 L117.6,272.1 L117.9,272 L118.3,271.9 L118.7,271.8 L119.1,271.7 L119.5,271.6 L119.9,271.4 L120.3,271.3 L120.7,271.2 L121,271.1 L121.4,270.9 L121.8,270.8 L122.2,270.6 L122.6,270.5 L123,270.3 L123.4,270.1 L123.8,270 L124.1,269.8 L124.5,269.6 L124.9,269.4 L125.3,269.2 L125.7,268.9 L126.1,268.7 L126.5,268.4 L126.9,268.1 L127.2,267.8 L127.6,267.5 L128,267.1 L128.4,266.7 L128.8,266.3 L129.2,265.8 L129.6,265.3 L130,264.7 L130.3,264 L130.7,263.2 L131.1,262.3 L131.5,261.3 L131.9,260.2 L132.3,259 L132.7,257.8 L133.1,256.6 L133.4,255.7 L133.8,255.2 L134.2,255.1 L134.6,255.7 L135,257 L135.4,259 L135.8,261.5 L136.1,264.4 L136.5,267.5 L136.9,270.5 L137.3,273.3 L137.7,275.7 L138.1,277.7 L138.5,279.3 L138.9,280.4 L139.2,281.2 L139.6,281.7 L140,282 L140.4,282.2 L140.8,282.3 L141.2,282.3 L141.6,282.4 L142,282.4 L142.3,282.4 L142.7,282.4 L143.1,282.4 L143.5,282.4 L143.9,282.4 L144.3,282.4 L144.7,282.4 L145.1,282.4 L145.4,282.4 L145.8,282.4 L146.2,282.4 L146.6,282.4 L147,282.4 L147.4,282.4 L147.8,282.4 L148.2,282.4 L148.5,282.4 L148.9,282.4 L149.3,282.4 L149.7,282.4 L150.1,282.4 L150.5,282.4 L150.9,282.4 L151.3,282.4 L151.6,282.4 L152,282.4 L152.4,282.4 L152.8,282.4 L153.2,282.4 L153.6,282.4 L154,282.4 L154.4,282.4 L154.7,282.4 L155.1,282.4 L155.5,282.4 L155.9,282.4 L156.3,282.4 L156.7,282.4 L157.1,282.4 L157.5,282.4 L157.8,282.4 L158.2,282.4 L158.6,282.4 L159,282.4 L159.4,282.4 L159.8,282.4 L160.2,282.4 L160.6,282.4 L160.9,282.4 L161.3,282.4 L161.7,282.4 L162.1,282.4 L162.5,282.4 L162.9,282.4 L163.3,282.4 L163.6,282.4 L164,282.4 L164.4,282.4 L164.8,282.4 L165.2,282.4 L165.6,282.4 L166,282.4 L166.4,282.4 L166.7,282.4 L167.1,282.4 L167.5,282.4 L167.9,282.4 L168.3,282.4 L168.7,282.4 L169.1,282.4 L169.5,282.4 L169.8,282.4 L170.2,282.4 L170.6,282.4 L171,282.4 L171.4,282.4 L171.8,282.4 L172.2,282.4 L172.6,282.4 L172.9,282.4 L173.3,282.4 L173.7,282.4 L174.1,282.4 L174.5,282.4 L174.9,282.4 L175.3,282.4 L175.7,282.4 L176,282.4 L176.4,282.4 L176.8,282.4 L177.2,282.4 L177.6,282.4 L178,282.4 L178.4,282.4 L178.8,282.4 L179.1,282.4 L179.5,282.4 L179.9,282.4 L180.3,282.4 L180.7,282.4 L181.1,282.4 L181.5,282.4 L181.9,282.4 L182.2,282.4 L182.6,282.4 L183,282.4 L183.4,282.4 L183.8,282.4 L184.2,282.4 L184.6,282.4 L185,282.4 L185.3,282.4 L185.7,282.4 L186.1,282.4 L186.5,282.4 L186.9,282.4 L187.3,282.4 L187.7,282.4 L188.1,282.4 L188.4,282.4 L188.8,282.4 L189.2,282.4 L189.6,282.4 L190,282.4 L190.4,282.4 L190.8,282.4 L191.2,282.4 L191.5,282.4 L191.9,282.4 L192.3,282.4 L192.7,282.4" stroke="#1a1a1a" stroke-width="0.8" />
<path d="M18.4,277.4 L18.8,277.4 L19.2,277.4 L19.6,277.4 L19.9,277.4 L20.3,277.4 L20.7,277.4 L21.1,277.4 L21.5,277.3 L21.9,277.3 L22.3,277.3 L22.7,277.3 L23,277.3 L23.4,277.3 L23.8,277.3 L24.2,277.3 L24.6,277.3 L25,277.3 L25.4,277.3 L25.8,277.3 L26.1,277.3 L26.5,277.3 L26.9,277.2 L27.3,277.2 L27.7,277.2 L28.1,277.2 L28.5,277.2 L28.9,277.2 L29.2,277.2 L29.6,277.2 L30,277.2 L30.4,277.2 L30.8,277.2 L31.2,277.2 L31.6,277.2 L32,277.1 L32.3,277.1 L32.7,277.1 L33.1,277.1 L33.5,277.1 L33.9,277.1 L34.3,277.1 L34.7,277.1 L35.1,277.1 L35.4,277.1 L35.8,277.1 L36.2,277.1 L36.6,277 L37,277 L37.4,277 L37.8,277 L38.2,277 L38.5,277 L38.9,277 L39.3,277 L39.7,277 L40.1,277 L40.5,277 L40.9,277 L41.3,276.9 L41.6,276.9 L42,276.9 L42.4,276.9 L42.8,276.9 L43.2,276.9 L43.6,276.9 L44,276.9 L44.4,276.9 L44.7,276.9 L45.1,276.9 L45.5,276.8 L45.9,276.8 L46.3,276.8 L46.7,276.8 L47.1,276.8 L47.4,276.8 L47.8,276.8 L48.2,276.8 L48.6,276.8 L49,276.8 L49.4,276.7 L49.8,276.7 L50.2,276.7 L50.5,276.7 L50.9,276.7 L51.3,276.7 L51.7,276.7 L52.1,276.7 L52.5,276.7 L52.9,276.6 L53.3,276.6 L53.6,276.6 L54,276.6 L54.4,276.6 L54.8,276.6 L55.2,276.6 L55.6,276.6 L56,276.6 L56.4,276.6 L56.7,276.5 L57.1,276.5 L57.5,276.5 L57.9,276.5 L58.3,276.5 L58.7,276.5 L59.1,276.5 L59.5,276.5 L59.8,276.4 L60.2,276.4 L60.6,276.4 L61,276.4 L61.4,276.4 L61.8,276.4 L62.2,276.4 L62.6,276.4 L62.9,276.3 L63.3,276.3 L63.7,276.3 L64.1,276.3 L64.5,276.3 L64.9,276.3 L65.3,276.3 L65.7,276.3 L66,276.2 L66.4,276.2 L66.8,276.2 L67.2,276.2 L67.6,276.2 L68,276.2 L68.4,276.2 L68.8,276.1 L69.1,276.1 L69.5,276.1 L69.9,276.1 L70.3,276.1 L70.7,276.1 L71.1,276.1 L71.5,276 L71.9,276 L72.2,276 L72.6,276 L73,276 L73.4,276 L73.8,276 L74.2,275.9 L74.6,275.9 L75,275.9 L75.3,275.9 L75.7,275.9 L76.1,275.9 L76.5,275.8 L76.9,275.8 L77.3,275.8 L77.7,275.8 L78,275.8 L78.4,275.8 L78.8,275.7 L79.2,275.7 L79.6,275.7 L80,275.7 L80.4,275.7 L80.8,275.7 L81.1,275.6 L81.5,275.6 L81.9,275.6 L82.3,275.6 L82.7,275.6 L83.1,275.5 L83.5,275.5 L83.9,275.5 L84.2,275.5 L84.6,275.5 L85,275.4 L85.4,275.4 L85.8,275.4 L86.2,275.4 L86.6,275.4 L87,275.3 L87.3,275.3 L87.7,275.3 L88.1,275.3 L88.5,275.3 L88.9,275.2 L89.3,275.2 L89.7,275.2 L90.1,275.2 L90.4,275.1 L90.8,275.1 L91.2,275.1 L91.6,275.1 L92,275 L92.4,275 L92.8,275 L93.2,275 L93.5,274.9 L93.9,274.9 L94.3,274.9 L94.7,274.9 L95.1,274.8 L95.5,274.8 L95.9,274.8 L96.3,274.8 L96.6,274.7 L97,274.7 L97.4,274.7 L97.8,274.6 L98.2,274.6 L98.6,274.6 L99,274.6 L99.4,274.5 L99.7,274.5 L100.1,274.5 L100.5,274.4 L100.9,274.4 L101.3,274.4 L101.7,274.3 L102.1,274.3 L102.5,274.3 L102.8,274.2 L103.2,274.2 L103.6,274.2 L104,274.1 L104.4,274.1 L104.8,274.1 L105.2,274 L105.5,274 L105.9,274 L106.3,273.9 L106.7,273.9 L107.1,273.8 L107.5,273.8 L107.9,273.8 L108.3,273.7 L108.6,273.7 L109,273.6 L109.4,273.6 L109.8,273.5 L110.2,273.5 L110.6,273.5 L111,273.4 L111.4,273.4 L111.7,273.3 L112.1,273.3 L112.5,273.2 L112.9,273.2 L113.3,273.1 L113.7,273.1 L114.1,273 L114.5,272.9 L114.8,272.9 L115.2,272.8 L115.6,272.8 L116,272.7 L116.4,272.7 L116.8,272.6 L117.2,272.5 L117.6,272.5 L117.9,272.4 L118.3,272.3 L118.7,272.3 L119.1,272.2 L119.5,272.1 L119.9,272.1 L120.3,272 L120.7,271.9 L121,271.8 L121.4,271.7 L121.8,271.7 L122.2,271.6 L122.6,271.5 L123,271.4 L123.4,271.3 L123.8,271.2 L124.1,271.1 L124.5,271 L124.9,270.9 L125.3,270.8 L125.7,270.7 L126.1,270.6 L126.5,270.4 L126.9,270.3 L127.2,270.2 L127.6,270.1 L128,269.9 L128.4,269.8 L128.8,269.6 L129.2,269.5 L129.6,269.3 L130,269.2 L130.3,269 L130.7,268.8 L131.1,268.6 L131.5,268.4 L131.9,268.2 L132.3,268 L132.7,267.8 L133.1,267.5 L133.4,267.2 L133.8,267 L134.2,266.7 L134.6,266.4 L135,266 L135.4,265.7 L135.8,265.3 L136.1,264.8 L136.5,264.4 L136.9,263.8 L137.3,263.2 L137.7,262.6 L138.1,261.8 L138.5,260.9 L138.9,260 L139.2,258.8 L139.6,257.6 L140,256.2 L140.4,254.9 L140.8,253.6 L141.2,252.5 L141.6,251.8 L142,251.6 L142.3,252.1 L142.7,253.4 L143.1,255.5 L143.5,258.2 L143.9,261.4 L144.3,264.9 L144.7,268.3 L145.1,271.5 L145.4,274.4 L145.8,276.7 L146.2,278.6 L146.6,279.9 L147,280.9 L147.4,281.5 L147.8,281.9 L148.2,282.1 L148.5,282.3 L148.9,282.3 L149.3,282.4 L149.7,282.4 L150.1,282.4 L150.5,282.4 L150.9,282.4 L151.3,282.4 L151.6,282.4 L152,282.4 L152.4,282.4 L152.8,282.4 L153.2,282.4 L153.6,282.4 L154,282.4 L154.4,282.4 L154.7,282.4 L155.1,282.4 L155.5,282.4 L155.9,282.4 L156.3,282.4 L156.7,282.4 L157.1,282.4 L157.5,282.4 L157.8,282.4 L158.2,282.4 L158.6,282.4 L159,282.4 L159.4,282.4 L159.8,282.4 L160.2,282.4 L160.6,282.4 L160.9,282.4 L161.3,282.4 L161.7,282.4 L162.1,282.4 L162.5,282.4 L162.9,282.4 L163.3,282.4 L163.6,282.4 L164,282.4 L164.4,282.4 L164.8,282.4 L165.2,282.4 L165.6,282.4 L166,282.4 L166.4,282.4 L166.7,282.4 L167.1,282.4 L167.5,282.4 L167.9,282.4 L168.3,282.4 L168.7,282.4 L169.1,282.4 L169.5,282.4 L169.8,282.4 L170.2,282.4 L170.6,282.4 L171,282.4 L171.4,282.4 L171.8,282.4 L172.2,282.4 L172.6,282.4 L172.9,282.4 L173.3,282.4 L173.7,282.4 L174.1,282.4 L174.5,282.4 L174.9,282.4 L175.3,282.4 L175.7,282.4 L176,282.4 L176.4,282.4 L176.8,282.4 L177.2,282.4 L177.6,282.4 L178,282.4 L178.4,282.4 L178.8,282.4 L179.1,282.4 L179.5,282.4 L179.9,282.4 L180.3,282.4 L180.7,282.4 L181.1,282.4 L181.5,282.4 L181.9,282.4 L182.2,282.4 L182.6,282.4 L183,282.4 L183.4,282.4 L183.8,282.4 L184.2,282.4 L184.6,282.4 L185,282.4 L185.3,282.4 L185.7,282.4 L186.1,282.4 L186.5,282.4 L186.9,282.4 L187.3,282.4 L187.7,282.4 L188.1,282.4 L188.4,282.4 L188.8,282.4 L189.2,282.4 L189.6,282.4 L190,282.4 L190.4,282.4 L190.8,282.4 L191.2,282.4 L191.5,282.4 L191.9,282.4 L192.3,282.4 L192.7,282.4" stroke="#1a1a1a" stroke-width="0.8" />
<path d="M18.4,276.7 L18.8,276.7 L19.2,276.7 L19.6,276.7 L19.9,276.7 L20.3,276.7 L20.7,276.7 L21.1,276.7 L21.5,276.7 L21.9,276.7 L22.3,276.7 L22.7,276.6 L23,276.6 L23.4,276.6 L23.8,276.6 L24.2,276.6 L24.6,276.6 L25,276.6 L25.4,276.6 L25.8,276.6 L26.1,276.6 L26.5,276.6 L26.9,276.6 L27.3,276.6 L27.7,276.5 L28.1,276.5 L28.5,276.5 L28.9,276.5 L29.2,276.5 L29.6,276.5 L30,276.5 L30.4,276.5 L30.8,276.5 L31.2,276.5 L31.6,276.5 L32,276.5 L32.3,276.5 L32.7,276.4 L33.1,276.4 L33.5,276.4 L33.9,276.4 L34.3,276.4 L34.7,276.4 L35.1,276.4 L35.4,276.4 L35.8,276.4 L36.2,276.4 L36.6,276.4 L37,276.3 L37.4,276.3 L37.8,276.3 L38.2,276.3 L38.5,276.3 L38.9,276.3 L39.3,276.3 L39.7,276.3 L40.1,276.3 L40.5,276.3 L40.9,276.3 L41.3,276.2 L41.6,276.2 L42,276.2 L42.4,276.2 L42.8,276.2 L43.2,276.2 L43.6,276.2 L44,276.2 L44.4,276.2 L44.7,276.2 L45.1,276.1 L45.5,276.1 L45.9,276.1 L46.3,276.1 L46.7,276.1 L47.1,276.1 L47.4,276.1 L47.8,276.1 L48.2,276.1 L48.6,276.1 L49,276 L49.4,276 L49.8,276 L50.2,276 L50.5,276 L50.9,276 L51.3,276 L51.7,276 L52.1,276 L52.5,275.9 L52.9,275.9 L53.3,275.9 L53.6,275.9 L54,275.9 L54.4,275.9 L54.8,275.9 L55.2,275.9 L55.6,275.9 L56,275.8 L56.4,275.8 L56.7,275.8 L57.1,275.8 L57.5,275.8 L57.9,275.8 L58.3,275.8 L58.7,275.8 L59.1,275.8 L59.5,275.7 L59.8,275.7 L60.2,275.7 L60.6,275.7 L61,275.7 L61.4,275.7 L61.8,275.7 L62.2,275.7 L62.6,275.6 L62.9,275.6 L63.3,275.6 L63.7,275.6 L64.1,275.6 L64.5,275.6 L64.9,275.6 L65.3,275.5 L65.7,275.5 L66,275.5 L66.4,275.5 L66.8,275.5 L67.2,275.5 L67.6,275.5 L68,275.5 L68.4,275.4 L68.8,275.4 L69.1,275.4 L69.5,275.4 L69.9,275.4 L70.3,275.4 L70.7,275.4 L71.1,275.3 L71.5,275.3 L71.9,275.3 L72.2,275.3 L72.6,275.3 L73,275.3 L73.4,275.2 L73.8,275.2 L74.2,275.2 L74.6,275.2 L75,275.2 L75.3,275.2 L75.7,275.2 L76.1,275.1 L76.5,275.1 L76.9,275.1 L77.3,275.1 L77.7,275.1 L78,275.1 L78.4,275 L78.8,275 L79.2,275 L79.6,275 L80,275 L80.4,274.9 L80.8,274.9 L81.1,274.9 L81.5,274.9 L81.9,274.9 L82.3,274.9 L82.7,274.8 L83.1,274.8 L83.5,274.8 L83.9,274.8 L84.2,274.8 L84.6,274.7 L85,274.7 L85.4,274.7 L85.8,274.7 L86.2,274.7 L86.6,274.6 L87,274.6 L87.3,274.6 L87.7,274.6 L88.1,274.6 L88.5,274.5 L88.9,274.5 L89.3,274.5 L89.7,274.5 L90.1,274.5 L90.4,274.4 L90.8,274.4 L91.2,274.4 L91.6,274.4 L92,274.3 L92.4,274.3 L92.8,274.3 L93.2,274.3 L93.5,274.2 L93.9,274.2 L94.3,274.2 L94.7,274.2 L95.1,274.2 L95.5,274.1 L95.9,274.1 L96.3,274.1 L96.6,274.1 L97,274 L97.4,274 L97.8,274 L98.2,273.9 L98.6,273.9 L99,273.9 L99.4,273.9 L99.7,273.8 L100.1,273.8 L100.5,273.8 L100.9,273.8 L101.3,273.7 L101.7,273.7 L102.1,273.7 L102.5,273.6 L102.8,273.6 L103.2,273.6 L103.6,273.5 L104,273.5 L104.4,273.5 L104.8,273.4 L105.2,273.4 L105.5,273.4 L105.9,273.3 L106.3,273.3 L106.7,273.3 L107.1,273.2 L107.5,273.2 L107.9,273.2 L108.3,273.1 L108.6,273.1 L109,273.1 L109.4,273 L109.8,273 L110.2,272.9 L110.6,272.9 L111,272.9 L111.4,272.8 L111.7,272.8 L112.1,272.7 L112.5,272.7 L112.9,272.7 L113.3,272.6 L113.7,272.6 L114.1,272.5 L114.5,272.5 L114.8,272.4 L115.2,272.4 L115.6,272.3 L116,272.3 L116.4,272.2 L116.8,272.2 L117.2,272.1 L117.6,272.1 L117.9,272 L118.3,272 L118.7,271.9 L119.1,271.9 L119.5,271.8 L119.9,271.8 L120.3,271.7 L120.7,271.7 L121,271.6 L121.4,271.5 L121.8,271.5 L122.2,271.4 L122.6,271.3 L123,271.3 L123.4,271.2 L123.8,271.1 L124.1,271.1 L124.5,271 L124.9,270.9 L125.3,270.8 L125.7,270.8 L126.1,270.7 L126.5,270.6 L126.9,270.5 L127.2,270.4 L127.6,270.4 L128,270.3 L128.4,270.2 L128.8,270.1 L129.2,270 L129.6,269.9 L130,269.8 L130.3,269.7 L130.7,269.6 L131.1,269.5 L131.5,269.4 L131.9,269.3 L132.3,269.1 L132.7,269 L133.1,268.9 L133.4,268.8 L133.8,268.6 L134.2,268.5 L134.6,268.4 L135,268.2 L135.4,268.1 L135.8,267.9 L136.1,267.7 L136.5,267.6 L136.9,267.4 L137.3,267.2 L137.7,267 L138.1,266.8 L138.5,266.6 L138.9,266.4 L139.2,266.2 L139.6,265.9 L140,265.7 L140.4,265.4 L140.8,265.1 L141.2,264.8 L141.6,264.5 L142,264.2 L142.3,263.8 L142.7,263.4 L143.1,263 L143.5,262.5 L143.9,262 L144.3,261.5 L144.7,260.9 L145.1,260.2 L145.4,259.5 L145.8,258.6 L146.2,257.6 L146.6,256.5 L147,255.2 L147.4,253.8 L147.8,252.2 L148.2,250.6 L148.5,249.1 L148.9,247.8 L149.3,246.8 L149.7,246.5 L150.1,246.9 L150.5,248.3 L150.9,250.5 L151.3,253.5 L151.6,257.2 L152,261.2 L152.4,265.2 L152.8,269 L153.2,272.4 L153.6,275.3 L154,277.5 L154.4,279.2 L154.7,280.4 L155.1,281.2 L155.5,281.7 L155.9,282 L156.3,282.2 L156.7,282.3 L157.1,282.4 L157.5,282.4 L157.8,282.4 L158.2,282.4 L158.6,282.4 L159,282.4 L159.4,282.4 L159.8,282.4 L160.2,282.4 L160.6,282.4 L160.9,282.4 L161.3,282.4 L161.7,282.4 L162.1,282.4 L162.5,282.4 L162.9,282.4 L163.3,282.4 L163.6,282.4 L164,282.4 L164.4,282.4 L164.8,282.4 L165.2,282.4 L165.6,282.4 L166,282.4 L166.4,282.4 L166.7,282.4 L167.1,282.4 L167.5,282.4 L167.9,282.4 L168.3,282.4 L168.7,282.4 L169.1,282.4 L169.5,282.4 L169.8,282.4 L170.2,282.4 L170.6,282.4 L171,282.4 L171.4,282.4 L171.8,282.4 L172.2,282.4 L172.6,282.4 L172.9,282.4 L173.3,282.4 L173.7,282.4 L174.1,282.4 L174.5,282.4 L174.9,282.4 L175.3,282.4 L175.7,282.4 L176,282.4 L176.4,282.4 L176.8,282.4 L177.2,282.4 L177.6,282.4 L178,282.4 L178.4,282.4 L178.8,282.4 L179.1,282.4 L179.5,282.4 L179.9,282.4 L180.3,282.4 L180.7,282.4 L181.1,282.4 L181.5,282.4 L181.9,282.4 L182.2,282.4 L182.6,282.4 L183,282.4 L183.4,282.4 L183.8,282.4 L184.2,282.4 L184.6,282.4 L185,282.4 L185.3,282.4 L185.7,282.4 L186.1,282.4 L186.5,282.4 L186.9,282.4 L187.3,282.4 L187.7,282.4 L188.1,282.4 L188.4,282.4 L188.8,282.4 L189.2,282.4 L189.6,282.4 L190,282.4 L190.4,282.4 L190.8,282.4 L191.2,282.4 L191.5,282.4 L191.9,282.4 L192.3,282.4 L192.7,282.4" stroke="#1a1a1a" stroke-width="0.8" />
<path d="M18.4,275.6 L18.8,275.6 L19.2,275.6 L19.6,275.6 L19.9,275.6 L20.3,275.6 L20.7,275.5 L21.1,275.5 L21.5,275.5 L21.9,275.5 L22.3,275.5 L22.7,275.5 L23,275.5 L23.4,275.5 L23.8,275.5 L24.2,275.5 L24.6,275.5 L25,275.4 L25.4,275.4 L25.8,275.4 L26.1,275.4 L26.5,275.4 L26.9,275.4 L27.3,275.4 L27.7,275.4 L28.1,275.4 L28.5,275.4 L28.9,275.4 L29.2,275.3 L29.6,275.3 L30,275.3 L30.4,275.3 L30.8,275.3 L31.2,275.3 L31.6,275.3 L32,275.3 L32.3,275.3 L32.7,275.3 L33.1,275.3 L33.5,275.2 L33.9,275.2 L34.3,275.2 L34.7,275.2 L35.1,275.2 L35.4,275.2 L35.8,275.2 L36.2,275.2 L36.6,275.2 L37,275.2 L37.4,275.1 L37.8,275.1 L38.2,275.1 L38.5,275.1 L38.9,275.1 L39.3,275.1 L39.7,275.1 L40.1,275.1 L40.5,275.1 L40.9,275.1 L41.3,275 L41.6,275 L42,275 L42.4,275 L42.8,275 L43.2,275 L43.6,275 L44,275 L44.4,275 L44.7,274.9 L45.1,274.9 L45.5,274.9 L45.9,274.9 L46.3,274.9 L46.7,274.9 L47.1,274.9 L47.4,274.9 L47.8,274.9 L48.2,274.8 L48.6,274.8 L49,274.8 L49.4,274.8 L49.8,274.8 L50.2,274.8 L50.5,274.8 L50.9,274.8 L51.3,274.8 L51.7,274.7 L52.1,274.7 L52.5,274.7 L52.9,274.7 L53.3,274.7 L53.6,274.7 L54,274.7 L54.4,274.7 L54.8,274.6 L55.2,274.6 L55.6,274.6 L56,274.6 L56.4,274.6 L56.7,274.6 L57.1,274.6 L57.5,274.6 L57.9,274.5 L58.3,274.5 L58.7,274.5 L59.1,274.5 L59.5,274.5 L59.8,274.5 L60.2,274.5 L60.6,274.4 L61,274.4 L61.4,274.4 L61.8,274.4 L62.2,274.4 L62.6,274.4 L62.9,274.4 L63.3,274.4 L63.7,274.3 L64.1,274.3 L64.5,274.3 L64.9,274.3 L65.3,274.3 L65.7,274.3 L66,274.2 L66.4,274.2 L66.8,274.2 L67.2,274.2 L67.6,274.2 L68,274.2 L68.4,274.2 L68.8,274.1 L69.1,274.1 L69.5,274.1 L69.9,274.1 L70.3,274.1 L70.7,274.1 L71.1,274 L71.5,274 L71.9,274 L72.2,274 L72.6,274 L73,274 L73.4,274 L73.8,273.9 L74.2,273.9 L74.6,273.9 L75,273.9 L75.3,273.9 L75.7,273.8 L76.1,273.8 L76.5,273.8 L76.9,273.8 L77.3,273.8 L77.7,273.8 L78,273.7 L78.4,273.7 L78.8,273.7 L79.2,273.7 L79.6,273.7 L80,273.7 L80.4,273.6 L80.8,273.6 L81.1,273.6 L81.5,273.6 L81.9,273.6 L82.3,273.5 L82.7,273.5 L83.1,273.5 L83.5,273.5 L83.9,273.5 L84.2,273.4 L84.6,273.4 L85,273.4 L85.4,273.4 L85.8,273.4 L86.2,273.3 L86.6,273.3 L87,273.3 L87.3,273.3 L87.7,273.3 L88.1,273.2 L88.5,273.2 L88.9,273.2 L89.3,273.2 L89.7,273.1 L90.1,273.1 L90.4,273.1 L90.8,273.1 L91.2,273 L91.6,273 L92,273 L92.4,273 L92.8,273 L93.2,272.9 L93.5,272.9 L93.9,272.9 L94.3,272.9 L94.7,272.8 L95.1,272.8 L95.5,272.8 L95.9,272.8 L96.3,272.7 L96.6,272.7 L97,272.7 L97.4,272.7 L97.8,272.6 L98.2,272.6 L98.6,272.6 L99,272.5 L99.4,272.5 L99.7,272.5 L100.1,272.5 L100.5,272.4 L100.9,272.4 L101.3,272.4 L101.7,272.3 L102.1,272.3 L102.5,272.3 L102.8,272.3 L103.2,272.2 L103.6,272.2 L104,272.2 L104.4,272.1 L104.8,272.1 L105.2,272.1 L105.5,272 L105.9,272 L106.3,272 L106.7,271.9 L107.1,271.9 L107.5,271.9 L107.9,271.8 L108.3,271.8 L108.6,271.8 L109,271.7 L109.4,271.7 L109.8,271.6 L110.2,271.6 L110.6,271.6 L111,271.5 L111.4,271.5 L111.7,271.5 L112.1,271.4 L112.5,271.4 L112.9,271.3 L113.3,271.3 L113.7,271.3 L114.1,271.2 L114.5,271.2 L114.8,271.1 L115.2,271.1 L115.6,271 L116,271 L116.4,271 L116.8,270.9 L117.2,270.9 L117.6,270.8 L117.9,270.8 L118.3,270.7 L118.7,270.7 L119.1,270.6 L119.5,270.6 L119.9,270.5 L120.3,270.5 L120.7,270.4 L121,270.4 L121.4,270.3 L121.8,270.3 L122.2,270.2 L122.6,270.1 L123,270.1 L123.4,270 L123.8,270 L124.1,269.9 L124.5,269.8 L124.9,269.8 L125.3,269.7 L125.7,269.7 L126.1,269.6 L126.5,269.5 L126.9,269.5 L127.2,269.4 L127.6,269.3 L128,269.3 L128.4,269.2 L128.8,269.1 L129.2,269 L129.6,269 L130,268.9 L130.3,268.8 L130.7,268.7 L131.1,268.6 L131.5,268.6 L131.9,268.5 L132.3,268.4 L132.7,268.3 L133.1,268.2 L133.4,268.1 L133.8,268 L134.2,267.9 L134.6,267.8 L135,267.7 L135.4,267.6 L135.8,267.5 L136.1,267.4 L136.5,267.3 L136.9,267.2 L137.3,267 L137.7,266.9 L138.1,266.8 L138.5,266.7 L138.9,266.5 L139.2,266.4 L139.6,266.3 L140,266.1 L140.4,266 L140.8,265.8 L141.2,265.7 L141.6,265.5 L142,265.3 L142.3,265.1 L142.7,265 L143.1,264.8 L143.5,264.6 L143.9,264.4 L144.3,264.2 L144.7,264 L145.1,263.7 L145.4,263.5 L145.8,263.3 L146.2,263 L146.6,262.7 L147,262.5 L147.4,262.2 L147.8,261.9 L148.2,261.5 L148.5,261.2 L148.9,260.8 L149.3,260.4 L149.7,260 L150.1,259.6 L150.5,259.1 L150.9,258.6 L151.3,258.1 L151.6,257.5 L152,256.8 L152.4,256.1 L152.8,255.3 L153.2,254.4 L153.6,253.3 L154,252.1 L154.4,250.8 L154.7,249.3 L155.1,247.5 L155.5,245.7 L155.9,243.7 L156.3,241.8 L156.7,240.1 L157.1,238.8 L157.5,238.2 L157.8,238.6 L158.2,240 L158.6,242.5 L159,246 L159.4,250.4 L159.8,255.2 L160.2,260.2 L160.6,265 L160.9,269.4 L161.3,273 L161.7,275.9 L162.1,278.1 L162.5,279.7 L162.9,280.8 L163.3,281.5 L163.6,281.9 L164,282.1 L164.4,282.3 L164.8,282.3 L165.2,282.4 L165.6,282.4 L166,282.4 L166.4,282.4 L166.7,282.4 L167.1,282.4 L167.5,282.4 L167.9,282.4 L168.3,282.4 L168.7,282.4 L169.1,282.4 L169.5,282.4 L169.8,282.4 L170.2,282.4 L170.6,282.4 L171,282.4 L171.4,282.4 L171.8,282.4 L172.2,282.4 L172.6,282.4 L172.9,282.4 L173.3,282.4 L173.7,282.4 L174.1,282.4 L174.5,282.4 L174.9,282.4 L175.3,282.4 L175.7,282.4 L176,282.4 L176.4,282.4 L176.8,282.4 L177.2,282.4 L177.6,282.4 L178,282.4 L178.4,282.4 L178.8,282.4 L179.1,282.4 L179.5,282.4 L179.9,282.4 L180.3,282.4 L180.7,282.4 L181.1,282.4 L181.5,282.4 L181.9,282.4 L182.2,282.4 L182.6,282.4 L183,282.4 L183.4,282.4 L183.8,282.4 L184.2,282.4 L184.6,282.4 L185,282.4 L185.3,282.4 L185.7,282.4 L186.1,282.4 L186.5,282.4 L186.9,282.4 L187.3,282.4 L187.7,282.4 L188.1,282.4 L188.4,282.4 L188.8,282.4 L189.2,282.4 L189.6,282.4 L190,282.4 L190.4,282.4 L190.8,282.4 L191.2,282.4 L191.5,282.4 L191.9,282.4 L192.3,282.4 L192.7,282.4" stroke="#1a1a1a" stroke-width="0.8" />
<path d="M18.4,273.1 L18.8,273.1 L19.2,273.1 L19.6,273.1 L19.9,273.1 L20.3,273.1 L20.7,273 L21.1,273 L21.5,273 L21.9,273 L22.3,273 L22.7,273 L23,273 L23.4,273 L23.8,273 L24.2,272.9 L24.6,272.9 L25,272.9 L25.4,272.9 L25.8,272.9 L26.1,272.9 L26.5,272.9 L26.9,272.9 L27.3,272.9 L27.7,272.8 L28.1,272.8 L28.5,272.8 L28.9,272.8 L29.2,272.8 L29.6,272.8 L30,272.8 L30.4,272.8 L30.8,272.7 L31.2,272.7 L31.6,272.7 L32,272.7 L32.3,272.7 L32.7,272.7 L33.1,272.7 L33.5,272.7 L33.9,272.6 L34.3,272.6 L34.7,272.6 L35.1,272.6 L35.4,272.6 L35.8,272.6 L36.2,272.6 L36.6,272.6 L37,272.5 L37.4,272.5 L37.8,272.5 L38.2,272.5 L38.5,272.5 L38.9,272.5 L39.3,272.5 L39.7,272.5 L40.1,272.4 L40.5,272.4 L40.9,272.4 L41.3,272.4 L41.6,272.4 L42,272.4 L42.4,272.4 L42.8,272.3 L43.2,272.3 L43.6,272.3 L44,272.3 L44.4,272.3 L44.7,272.3 L45.1,272.3 L45.5,272.3 L45.9,272.2 L46.3,272.2 L46.7,272.2 L47.1,272.2 L47.4,272.2 L47.8,272.2 L48.2,272.2 L48.6,272.1 L49,272.1 L49.4,272.1 L49.8,272.1 L50.2,272.1 L50.5,272.1 L50.9,272 L51.3,272 L51.7,272 L52.1,272 L52.5,272 L52.9,272 L53.3,272 L53.6,271.9 L54,271.9 L54.4,271.9 L54.8,271.9 L55.2,271.9 L55.6,271.9 L56,271.8 L56.4,271.8 L56.7,271.8 L57.1,271.8 L57.5,271.8 L57.9,271.8 L58.3,271.7 L58.7,271.7 L59.1,271.7 L59.5,271.7 L59.8,271.7 L60.2,271.7 L60.6,271.6 L61,271.6 L61.4,271.6 L61.8,271.6 L62.2,271.6 L62.6,271.6 L62.9,271.5 L63.3,271.5 L63.7,271.5 L64.1,271.5 L64.5,271.5 L64.9,271.5 L65.3,271.4 L65.7,271.4 L66,271.4 L66.4,271.4 L66.8,271.4 L67.2,271.3 L67.6,271.3 L68,271.3 L68.4,271.3 L68.8,271.3 L69.1,271.2 L69.5,271.2 L69.9,271.2 L70.3,271.2 L70.7,271.2 L71.1,271.2 L71.5,271.1 L71.9,271.1 L72.2,271.1 L72.6,271.1 L73,271.1 L73.4,271 L73.8,271 L74.2,271 L74.6,271 L75,270.9 L75.3,270.9 L75.7,270.9 L76.1,270.9 L76.5,270.9 L76.9,270.8 L77.3,270.8 L77.7,270.8 L78,270.8 L78.4,270.8 L78.8,270.7 L79.2,270.7 L79.6,270.7 L80,270.7 L80.4,270.6 L80.8,270.6 L81.1,270.6 L81.5,270.6 L81.9,270.5 L82.3,270.5 L82.7,270.5 L83.1,270.5 L83.5,270.5 L83.9,270.4 L84.2,270.4 L84.6,270.4 L85,270.4 L85.4,270.3 L85.8,270.3 L86.2,270.3 L86.6,270.3 L87,270.2 L87.3,270.2 L87.7,270.2 L88.1,270.2 L88.5,270.1 L88.9,270.1 L89.3,270.1 L89.7,270 L90.1,270 L90.4,270 L90.8,270 L91.2,269.9 L91.6,269.9 L92,269.9 L92.4,269.9 L92.8,269.8 L93.2,269.8 L93.5,269.8 L93.9,269.7 L94.3,269.7 L94.7,269.7 L95.1,269.6 L95.5,269.6 L95.9,269.6 L96.3,269.6 L96.6,269.5 L97,269.5 L97.4,269.5 L97.8,269.4 L98.2,269.4 L98.6,269.4 L99,269.3 L99.4,269.3 L99.7,269.3 L100.1,269.2 L100.5,269.2 L100.9,269.2 L101.3,269.1 L101.7,269.1 L102.1,269.1 L102.5,269 L102.8,269 L103.2,269 L103.6,268.9 L104,268.9 L104.4,268.9 L104.8,268.8 L105.2,268.8 L105.5,268.7 L105.9,268.7 L106.3,268.7 L106.7,268.6 L107.1,268.6 L107.5,268.5 L107.9,268.5 L108.3,268.5 L108.6,268.4 L109,268.4 L109.4,268.3 L109.8,268.3 L110.2,268.3 L110.6,268.2 L111,268.2 L111.4,268.1 L111.7,268.1 L112.1,268 L112.5,268 L112.9,268 L113.3,267.9 L113.7,267.9 L114.1,267.8 L114.5,267.8 L114.8,267.7 L115.2,267.7 L115.6,267.6 L116,267.6 L116.4,267.5 L116.8,267.5 L117.2,267.4 L117.6,267.4 L117.9,267.3 L118.3,267.3 L118.7,267.2 L119.1,267.2 L119.5,267.1 L119.9,267.1 L120.3,267 L120.7,267 L121,266.9 L121.4,266.8 L121.8,266.8 L122.2,266.7 L122.6,266.7 L123,266.6 L123.4,266.5 L123.8,266.5 L124.1,266.4 L124.5,266.4 L124.9,266.3 L125.3,266.2 L125.7,266.2 L126.1,266.1 L126.5,266 L126.9,266 L127.2,265.9 L127.6,265.8 L128,265.7 L128.4,265.7 L128.8,265.6 L129.2,265.5 L129.6,265.4 L130,265.4 L130.3,265.3 L130.7,265.2 L131.1,265.1 L131.5,265 L131.9,265 L132.3,264.9 L132.7,264.8 L133.1,264.7 L133.4,264.6 L133.8,264.5 L134.2,264.4 L134.6,264.3 L135,264.2 L135.4,264.1 L135.8,264 L136.1,263.9 L136.5,263.8 L136.9,263.7 L137.3,263.6 L137.7,263.5 L138.1,263.4 L138.5,263.3 L138.9,263.2 L139.2,263.1 L139.6,262.9 L140,262.8 L140.4,262.7 L140.8,262.6 L141.2,262.4 L141.6,262.3 L142,262.2 L142.3,262 L142.7,261.9 L143.1,261.7 L143.5,261.6 L143.9,261.4 L144.3,261.3 L144.7,261.1 L145.1,261 L145.4,260.8 L145.8,260.6 L146.2,260.4 L146.6,260.3 L147,260.1 L147.4,259.9 L147.8,259.7 L148.2,259.5 L148.5,259.3 L148.9,259 L149.3,258.8 L149.7,258.6 L150.1,258.3 L150.5,258.1 L150.9,257.8 L151.3,257.6 L151.6,257.3 L152,257 L152.4,256.7 L152.8,256.4 L153.2,256.1 L153.6,255.7 L154,255.4 L154.4,255 L154.7,254.6 L155.1,254.2 L155.5,253.8 L155.9,253.3 L156.3,252.8 L156.7,252.3 L157.1,251.8 L157.5,251.2 L157.8,250.6 L158.2,250 L158.6,249.3 L159,248.5 L159.4,247.7 L159.8,246.8 L160.2,245.8 L160.6,244.7 L160.9,243.5 L161.3,242.1 L161.7,240.5 L162.1,238.6 L162.5,236.5 L162.9,234.2 L163.3,231.6 L163.6,228.9 L164,226.1 L164.4,223.7 L164.8,221.7 L165.2,220.7 L165.6,220.9 L166,222.6 L166.4,225.8 L166.7,230.5 L167.1,236.4 L167.5,243.1 L167.9,250 L168.3,256.8 L168.7,263 L169.1,268.3 L169.5,272.6 L169.8,275.9 L170.2,278.3 L170.6,279.9 L171,280.9 L171.4,281.6 L171.8,282 L172.2,282.2 L172.6,282.3 L172.9,282.4 L173.3,282.4 L173.7,282.4 L174.1,282.4 L174.5,282.4 L174.9,282.4 L175.3,282.4 L175.7,282.4 L176,282.4 L176.4,282.4 L176.8,282.4 L177.2,282.4 L177.6,282.4 L178,282.4 L178.4,282.4 L178.8,282.4 L179.1,282.4 L179.5,282.4 L179.9,282.4 L180.3,282.4 L180.7,282.4 L181.1,282.4 L181.5,282.4 L181.9,282.4 L182.2,282.4 L182.6,282.4 L183,282.4 L183.4,282.4 L183.8,282.4 L184.2,282.4 L184.6,282.4 L185,282.4 L185.3,282.4 L185.7,282.4 L186.1,282.4 L186.5,282.4 L186.9,282.4 L187.3,282.4 L187.7,282.4 L188.1,282.4 L188.4,282.4 L188.8,282.4 L189.2,282.4 L189.6,282.4 L190,282.4 L190.4,282.4 L190.8,282.4 L191.2,282.4 L191.5,282.4 L191.9,282.4 L192.3,282.4 L192.7,282.4" stroke="#000" stroke-width="0.95" stroke-dasharray="6,0.9,0.9,0.9"/>
<path d="M18.4,261.8 L18.8,261.8 L19.2,261.8 L19.6,261.8 L19.9,261.8 L20.3,261.7 L20.7,261.7 L21.1,261.7 L21.5,261.7 L21.9,261.6 L22.3,261.6 L22.7,261.6 L23,261.6 L23.4,261.5 L23.8,261.5 L24.2,261.5 L24.6,261.5 L25,261.5 L25.4,261.4 L25.8,261.4 L26.1,261.4 L26.5,261.4 L26.9,261.3 L27.3,261.3 L27.7,261.3 L28.1,261.3 L28.5,261.2 L28.9,261.2 L29.2,261.2 L29.6,261.2 L30,261.1 L30.4,261.1 L30.8,261.1 L31.2,261.1 L31.6,261 L32,261 L32.3,261 L32.7,261 L33.1,260.9 L33.5,260.9 L33.9,260.9 L34.3,260.9 L34.7,260.8 L35.1,260.8 L35.4,260.8 L35.8,260.8 L36.2,260.7 L36.6,260.7 L37,260.7 L37.4,260.7 L37.8,260.6 L38.2,260.6 L38.5,260.6 L38.9,260.5 L39.3,260.5 L39.7,260.5 L40.1,260.5 L40.5,260.4 L40.9,260.4 L41.3,260.4 L41.6,260.4 L42,260.3 L42.4,260.3 L42.8,260.3 L43.2,260.2 L43.6,260.2 L44,260.2 L44.4,260.2 L44.7,260.1 L45.1,260.1 L45.5,260.1 L45.9,260 L46.3,260 L46.7,260 L47.1,259.9 L47.4,259.9 L47.8,259.9 L48.2,259.9 L48.6,259.8 L49,259.8 L49.4,259.8 L49.8,259.7 L50.2,259.7 L50.5,259.7 L50.9,259.6 L51.3,259.6 L51.7,259.6 L52.1,259.6 L52.5,259.5 L52.9,259.5 L53.3,259.5 L53.6,259.4 L54,259.4 L54.4,259.4 L54.8,259.3 L55.2,259.3 L55.6,259.3 L56,259.2 L56.4,259.2 L56.7,259.2 L57.1,259.1 L57.5,259.1 L57.9,259.1 L58.3,259 L58.7,259 L59.1,259 L59.5,258.9 L59.8,258.9 L60.2,258.9 L60.6,258.8 L61,258.8 L61.4,258.8 L61.8,258.7 L62.2,258.7 L62.6,258.6 L62.9,258.6 L63.3,258.6 L63.7,258.5 L64.1,258.5 L64.5,258.5 L64.9,258.4 L65.3,258.4 L65.7,258.4 L66,258.3 L66.4,258.3 L66.8,258.2 L67.2,258.2 L67.6,258.2 L68,258.1 L68.4,258.1 L68.8,258.1 L69.1,258 L69.5,258 L69.9,257.9 L70.3,257.9 L70.7,257.9 L71.1,257.8 L71.5,257.8 L71.9,257.7 L72.2,257.7 L72.6,257.7 L73,257.6 L73.4,257.6 L73.8,257.5 L74.2,257.5 L74.6,257.4 L75,257.4 L75.3,257.4 L75.7,257.3 L76.1,257.3 L76.5,257.2 L76.9,257.2 L77.3,257.1 L77.7,257.1 L78,257.1 L78.4,257 L78.8,257 L79.2,256.9 L79.6,256.9 L80,256.8 L80.4,256.8 L80.8,256.7 L81.1,256.7 L81.5,256.7 L81.9,256.6 L82.3,256.6 L82.7,256.5 L83.1,256.5 L83.5,256.4 L83.9,256.4 L84.2,256.3 L84.6,256.3 L85,256.2 L85.4,256.2 L85.8,256.1 L86.2,256.1 L86.6,256 L87,256 L87.3,255.9 L87.7,255.9 L88.1,255.8 L88.5,255.8 L88.9,255.7 L89.3,255.7 L89.7,255.6 L90.1,255.6 L90.4,255.5 L90.8,255.4 L91.2,255.4 L91.6,255.3 L92,255.3 L92.4,255.2 L92.8,255.2 L93.2,255.1 L93.5,255.1 L93.9,255 L94.3,254.9 L94.7,254.9 L95.1,254.8 L95.5,254.8 L95.9,254.7 L96.3,254.7 L96.6,254.6 L97,254.5 L97.4,254.5 L97.8,254.4 L98.2,254.3 L98.6,254.3 L99,254.2 L99.4,254.2 L99.7,254.1 L100.1,254 L100.5,254 L100.9,253.9 L101.3,253.8 L101.7,253.8 L102.1,253.7 L102.5,253.6 L102.8,253.6 L103.2,253.5 L103.6,253.4 L104,253.4 L104.4,253.3 L104.8,253.2 L105.2,253.2 L105.5,253.1 L105.9,253 L106.3,252.9 L106.7,252.9 L107.1,252.8 L107.5,252.7 L107.9,252.6 L108.3,252.6 L108.6,252.5 L109,252.4 L109.4,252.3 L109.8,252.3 L110.2,252.2 L110.6,252.1 L111,252 L111.4,251.9 L111.7,251.9 L112.1,251.8 L112.5,251.7 L112.9,251.6 L113.3,251.5 L113.7,251.4 L114.1,251.4 L114.5,251.3 L114.8,251.2 L115.2,251.1 L115.6,251 L116,250.9 L116.4,250.8 L116.8,250.7 L117.2,250.6 L117.6,250.5 L117.9,250.5 L118.3,250.4 L118.7,250.3 L119.1,250.2 L119.5,250.1 L119.9,250 L120.3,249.9 L120.7,249.8 L121,249.7 L121.4,249.6 L121.8,249.5 L122.2,249.3 L122.6,249.2 L123,249.1 L123.4,249 L123.8,248.9 L124.1,248.8 L124.5,248.7 L124.9,248.6 L125.3,248.5 L125.7,248.3 L126.1,248.2 L126.5,248.1 L126.9,248 L127.2,247.9 L127.6,247.7 L128,247.6 L128.4,247.5 L128.8,247.4 L129.2,247.2 L129.6,247.1 L130,247 L130.3,246.8 L130.7,246.7 L131.1,246.6 L131.5,246.4 L131.9,246.3 L132.3,246.1 L132.7,246 L133.1,245.8 L133.4,245.7 L133.8,245.5 L134.2,245.4 L134.6,245.2 L135,245.1 L135.4,244.9 L135.8,244.8 L136.1,244.6 L136.5,244.4 L136.9,244.3 L137.3,244.1 L137.7,243.9 L138.1,243.7 L138.5,243.6 L138.9,243.4 L139.2,243.2 L139.6,243 L140,242.8 L140.4,242.6 L140.8,242.4 L141.2,242.2 L141.6,242 L142,241.8 L142.3,241.6 L142.7,241.4 L143.1,241.2 L143.5,240.9 L143.9,240.7 L144.3,240.5 L144.7,240.2 L145.1,240 L145.4,239.8 L145.8,239.5 L146.2,239.2 L146.6,239 L147,238.7 L147.4,238.5 L147.8,238.2 L148.2,237.9 L148.5,237.6 L148.9,237.3 L149.3,237 L149.7,236.7 L150.1,236.4 L150.5,236.1 L150.9,235.8 L151.3,235.4 L151.6,235.1 L152,234.7 L152.4,234.4 L152.8,234 L153.2,233.6 L153.6,233.2 L154,232.8 L154.4,232.4 L154.7,232 L155.1,231.5 L155.5,231.1 L155.9,230.6 L156.3,230.2 L156.7,229.7 L157.1,229.2 L157.5,228.6 L157.8,228.1 L158.2,227.5 L158.6,227 L159,226.4 L159.4,225.7 L159.8,225.1 L160.2,224.4 L160.6,223.7 L160.9,223 L161.3,222.2 L161.7,221.4 L162.1,220.6 L162.5,219.7 L162.9,218.8 L163.3,217.9 L163.6,216.8 L164,215.8 L164.4,214.7 L164.8,213.5 L165.2,212.2 L165.6,210.8 L166,209.4 L166.4,207.8 L166.7,206.1 L167.1,204.3 L167.5,202.3 L167.9,200.1 L168.3,197.7 L168.7,194.9 L169.1,191.8 L169.5,188.3 L169.8,184.3 L170.2,179.7 L170.6,174.5 L171,168.7 L171.4,162.6 L171.8,156.4 L172.2,150.6 L172.6,146 L172.9,143.2 L173.3,143 L173.7,146.1" stroke="#000" stroke-width="1.0" stroke-dasharray="6,0.9,0.9,0.9"/>
<path d="M18.4,212.7 L18.8,212.6 L19.2,212.5 L19.6,212.4 L19.9,212.4 L20.3,212.3 L20.7,212.2 L21.1,212.1 L21.5,212 L21.9,212 L22.3,211.9 L22.7,211.8 L23,211.7 L23.4,211.6 L23.8,211.5 L24.2,211.5 L24.6,211.4 L25,211.3 L25.4,211.2 L25.8,211.1 L26.1,211 L26.5,211 L26.9,210.9 L27.3,210.8 L27.7,210.7 L28.1,210.6 L28.5,210.5 L28.9,210.4 L29.2,210.3 L29.6,210.3 L30,210.2 L30.4,210.1 L30.8,210 L31.2,209.9 L31.6,209.8 L32,209.7 L32.3,209.6 L32.7,209.5 L33.1,209.4 L33.5,209.3 L33.9,209.2 L34.3,209.1 L34.7,209 L35.1,208.9 L35.4,208.8 L35.8,208.7 L36.2,208.6 L36.6,208.5 L37,208.4 L37.4,208.3 L37.8,208.2 L38.2,208.1 L38.5,208 L38.9,207.9 L39.3,207.8 L39.7,207.7 L40.1,207.6 L40.5,207.5 L40.9,207.4 L41.3,207.3 L41.6,207.2 L42,207.1 L42.4,207 L42.8,206.9 L43.2,206.7 L43.6,206.6 L44,206.5 L44.4,206.4 L44.7,206.3 L45.1,206.2 L45.5,206.1 L45.9,206 L46.3,205.8 L46.7,205.7 L47.1,205.6 L47.4,205.5 L47.8,205.4 L48.2,205.2 L48.6,205.1 L49,205 L49.4,204.9 L49.8,204.7 L50.2,204.6 L50.5,204.5 L50.9,204.4 L51.3,204.2 L51.7,204.1 L52.1,204 L52.5,203.9 L52.9,203.7 L53.3,203.6 L53.6,203.5 L54,203.3 L54.4,203.2 L54.8,203.1 L55.2,202.9 L55.6,202.8 L56,202.6 L56.4,202.5 L56.7,202.4 L57.1,202.2 L57.5,202.1 L57.9,201.9 L58.3,201.8 L58.7,201.6 L59.1,201.5 L59.5,201.3 L59.8,201.2 L60.2,201 L60.6,200.9 L61,200.7 L61.4,200.6 L61.8,200.4 L62.2,200.3 L62.6,200.1 L62.9,199.9 L63.3,199.8 L63.7,199.6 L64.1,199.5 L64.5,199.3 L64.9,199.1 L65.3,199 L65.7,198.8 L66,198.6 L66.4,198.4 L66.8,198.3 L67.2,198.1 L67.6,197.9 L68,197.7 L68.4,197.6 L68.8,197.4 L69.1,197.2 L69.5,197 L69.9,196.8 L70.3,196.6 L70.7,196.4 L71.1,196.2 L71.5,196 L71.9,195.8 L72.2,195.6 L72.6,195.4 L73,195.2 L73.4,195 L73.8,194.8 L74.2,194.6 L74.6,194.4 L75,194.2 L75.3,194 L75.7,193.8 L76.1,193.5 L76.5,193.3 L76.9,193.1 L77.3,192.9 L77.7,192.6 L78,192.4 L78.4,192.2 L78.8,191.9 L79.2,191.7 L79.6,191.4 L80,191.2 L80.4,190.9 L80.8,190.7 L81.1,190.4 L81.5,190.1 L81.9,189.9 L82.3,189.6 L82.7,189.3 L83.1,189.1 L83.5,188.8 L83.9,188.5 L84.2,188.2 L84.6,187.9 L85,187.6 L85.4,187.3 L85.8,187 L86.2,186.7 L86.6,186.4 L87,186.1 L87.3,185.7 L87.7,185.4 L88.1,185.1 L88.5,184.7 L88.9,184.4 L89.3,184 L89.7,183.6 L90.1,183.3 L90.4,182.9 L90.8,182.5 L91.2,182.1 L91.6,181.7 L92,181.3 L92.4,180.9 L92.8,180.4 L93.2,180 L93.5,179.5 L93.9,179 L94.3,178.6 L94.7,178.1 L95.1,177.5 L95.5,177 L95.9,176.5 L96.3,175.9 L96.6,175.3 L97,174.6 L97.4,174 L97.8,173.3 L98.2,172.5 L98.6,171.8 L99,170.9 L99.4,170 L99.7,169 L100.1,167.9 L100.5,166.7 L100.9,165.5 L101.3,164.2 L101.7,162.9 L102.1,161.8 L102.5,160.9 L102.8,160.2 L103.2,159.9 L103.6,160 L104,160.5 L104.4,161.3 L104.8,162.4 L105.2,163.6 L105.5,164.8 L105.9,165.8 L106.3,166.5 L106.7,166.8 L107.1,166.8 L107.5,166.4 L107.9,165.7 L108.3,164.7 L108.6,163.4 L109,162.1 L109.4,160.7 L109.8,159.4 L110.2,158.3 L110.6,157.5 L111,157.1 L111.4,157.2 L111.7,157.9 L112.1,159 L112.5,160.4 L112.9,161.9 L113.3,163.5 L113.7,164.9 L114.1,166 L114.5,166.6 L114.8,166.9 L115.2,166.7 L115.6,166 L116,165.1 L116.4,163.9 L116.8,162.5 L117.2,161 L117.6,159.6 L117.9,158.3 L118.3,157.4 L118.7,156.9 L119.1,156.9 L119.5,157.5 L119.9,158.6 L120.3,160 L120.7,161.7 L121,163.4 L121.4,164.9 L121.8,166.1 L122.2,166.9 L122.6,167.2 L123,167.1 L123.4,166.5 L123.8,165.5 L124.1,164.3 L124.5,162.8 L124.9,161.2 L125.3,159.6 L125.7,158.2 L126.1,157.1 L126.5,156.5 L126.9,156.4 L127.2,156.9 L127.6,158 L128,159.5 L128.4,161.3 L128.8,163.2 L129.2,164.9 L129.6,166.3 L130,167.2 L130.3,167.7 L130.7,167.6 L131.1,167.1 L131.5,166.1 L131.9,164.8 L132.3,163.2 L132.7,161.4 L133.1,159.7 L133.4,158.1 L133.8,156.8 L134.2,156 L134.6,155.8 L135,156.3 L135.4,157.3 L135.8,158.9 L136.1,160.9 L136.5,162.9 L136.9,164.9 L137.3,166.5 L137.7,167.7 L138.1,168.3 L138.5,168.3 L138.9,167.8 L139.2,166.8 L139.6,165.4 L140,163.6 L140.4,161.7 L140.8,159.8 L141.2,157.9 L141.6,156.4 L142,155.4 L142.3,155.1 L142.7,155.5 L143.1,156.5 L143.5,158.2 L143.9,160.4 L144.3,162.7 L144.7,164.9 L145.1,166.9 L145.4,168.3 L145.8,169.1 L146.2,169.3 L146.6,168.8 L147,167.7 L147.4,166.2 L147.8,164.2 L148.2,162.1 L148.5,159.8 L148.9,157.7 L149.3,155.9 L149.7,154.6 L150.1,154.1 L150.5,154.3 L150.9,155.5 L151.3,157.3 L151.6,159.8 L152,162.5 L152.4,165.1 L152.8,167.5 L153.2,169.3 L153.6,170.4 L154,170.7 L154.4,170.2 L154.7,169.1 L155.1,167.3 L155.5,165.1 L155.9,162.5 L156.3,159.8 L156.7,157.2 L157.1,154.9 L157.5,153.3 L157.8,152.5 L158.2,152.7 L158.6,153.9 L159,156.1 L159.4,159 L159.8,162.3 L160.2,165.7 L160.6,168.7 L160.9,171 L161.3,172.5 L161.7,173 L162.1,172.6 L162.5,171.2 L162.9,169 L163.3,166.1 L163.6,162.8 L164,159.2 L164.4,155.8 L164.8,152.7 L165.2,150.5 L165.6,149.3 L166,149.5 L166.4,151.2 L166.7,154.2 L167.1,158.3 L167.5,163 L167.9,167.8 L168.3,172.1 L168.7,175.6 L169.1,177.8 L169.5,178.5 L169.8,177.8 L170.2,175.5 L170.6,172 L171,167.3 L171.4,161.8 L171.8,155.9 L172.2,150.4 L172.6,145.9 L172.9,143.1 L173.3,143 L173.7,146 L174.1,152.6 L174.5,162.6 L174.9,175.4 L175.3,190.3 L175.7,206.1 L176,221.6 L176.4,235.9 L176.8,248.4 L177.2,258.5 L177.6,266.4 L178,272.1 L178.4,276.1 L178.8,278.7 L179.1,280.3 L179.5,281.3 L179.9,281.8 L180.3,282.1 L180.7,282.3 L181.1,282.3 L181.5,282.4 L181.9,282.4 L182.2,282.4 L182.6,282.4 L183,282.4 L183.4,282.4 L183.8,282.4 L184.2,282.4 L184.6,282.4 L185,282.4 L185.3,282.4 L185.7,282.4 L186.1,282.4 L186.5,282.4 L186.9,282.4 L187.3,282.4 L187.7,282.4 L188.1,282.4 L188.4,282.4 L188.8,282.4 L189.2,282.4 L189.6,282.4 L190,282.4 L190.4,282.4 L190.8,282.4 L191.2,282.4 L191.5,282.4 L191.9,282.4 L192.3,282.4 L192.7,282.4" stroke="#ff2a2a" stroke-width="1.0" />
</g>
<rect x="18.4" y="144.8" width="174.3" height="137.6" fill="none" stroke="#777" stroke-width="1"/>
<line x1="18.4" y1="282.4" x2="18.4" y2="280.8" stroke="#555" stroke-width="0.7"/>
<line x1="18.4" y1="144.8" x2="18.4" y2="146.4" stroke="#555" stroke-width="0.7"/>
<line x1="37.8" y1="282.4" x2="37.8" y2="280.8" stroke="#555" stroke-width="0.7"/>
<line x1="37.8" y1="144.8" x2="37.8" y2="146.4" stroke="#555" stroke-width="0.7"/>
<line x1="57.1" y1="282.4" x2="57.1" y2="280.8" stroke="#555" stroke-width="0.7"/>
<line x1="57.1" y1="144.8" x2="57.1" y2="146.4" stroke="#555" stroke-width="0.7"/>
<line x1="76.5" y1="282.4" x2="76.5" y2="280.8" stroke="#555" stroke-width="0.7"/>
<line x1="76.5" y1="144.8" x2="76.5" y2="146.4" stroke="#555" stroke-width="0.7"/>
<line x1="95.9" y1="282.4" x2="95.9" y2="280.8" stroke="#555" stroke-width="0.7"/>
<line x1="95.9" y1="144.8" x2="95.9" y2="146.4" stroke="#555" stroke-width="0.7"/>
<line x1="115.2" y1="282.4" x2="115.2" y2="280.8" stroke="#555" stroke-width="0.7"/>
<line x1="115.2" y1="144.8" x2="115.2" y2="146.4" stroke="#555" stroke-width="0.7"/>
<line x1="134.6" y1="282.4" x2="134.6" y2="280.8" stroke="#555" stroke-width="0.7"/>
<line x1="134.6" y1="144.8" x2="134.6" y2="146.4" stroke="#555" stroke-width="0.7"/>
<line x1="154" y1="282.4" x2="154" y2="280.8" stroke="#555" stroke-width="0.7"/>
<line x1="154" y1="144.8" x2="154" y2="146.4" stroke="#555" stroke-width="0.7"/>
<line x1="173.3" y1="282.4" x2="173.3" y2="280.8" stroke="#555" stroke-width="0.7"/>
<line x1="173.3" y1="144.8" x2="173.3" y2="146.4" stroke="#555" stroke-width="0.7"/>
<line x1="192.7" y1="282.4" x2="192.7" y2="280.8" stroke="#555" stroke-width="0.7"/>
<line x1="192.7" y1="144.8" x2="192.7" y2="146.4" stroke="#555" stroke-width="0.7"/>
<line x1="18.4" y1="282.4" x2="20" y2="282.4" stroke="#555" stroke-width="0.7"/>
<line x1="192.7" y1="282.4" x2="191.1" y2="282.4" stroke="#555" stroke-width="0.7"/>
<line x1="18.4" y1="258.8" x2="20" y2="258.8" stroke="#555" stroke-width="0.7"/>
<line x1="192.7" y1="258.8" x2="191.1" y2="258.8" stroke="#555" stroke-width="0.7"/>
<line x1="18.4" y1="235.2" x2="20" y2="235.2" stroke="#555" stroke-width="0.7"/>
<line x1="192.7" y1="235.2" x2="191.1" y2="235.2" stroke="#555" stroke-width="0.7"/>
<line x1="18.4" y1="211.6" x2="20" y2="211.6" stroke="#555" stroke-width="0.7"/>
<line x1="192.7" y1="211.6" x2="191.1" y2="211.6" stroke="#555" stroke-width="0.7"/>
<line x1="18.4" y1="188" x2="20" y2="188" stroke="#555" stroke-width="0.7"/>
<line x1="192.7" y1="188" x2="191.1" y2="188" stroke="#555" stroke-width="0.7"/>
<line x1="18.4" y1="164.4" x2="20" y2="164.4" stroke="#555" stroke-width="0.7"/>
<line x1="192.7" y1="164.4" x2="191.1" y2="164.4" stroke="#555" stroke-width="0.7"/>
<text x="37.8" y="290.6" font-size="5.2" text-anchor="middle" fill="#222" stroke="#222" stroke-width="0.12">500</text>
<text x="57.1" y="290.6" font-size="5.2" text-anchor="middle" fill="#222" stroke="#222" stroke-width="0.12">1000</text>
<text x="76.5" y="290.6" font-size="5.2" text-anchor="middle" fill="#222" stroke="#222" stroke-width="0.12">1500</text>
<text x="95.9" y="290.6" font-size="5.2" text-anchor="middle" fill="#222" stroke="#222" stroke-width="0.12">2000</text>
<text x="115.2" y="290.6" font-size="5.2" text-anchor="middle" fill="#222" stroke="#222" stroke-width="0.12">2500</text>
<text x="134.6" y="290.6" font-size="5.2" text-anchor="middle" fill="#222" stroke="#222" stroke-width="0.12">3000</text>
<text x="154" y="290.6" font-size="5.2" text-anchor="middle" fill="#222" stroke="#222" stroke-width="0.12">3500</text>
<text x="173.3" y="290.6" font-size="5.2" text-anchor="middle" fill="#222" stroke="#222" stroke-width="0.12">4000</text>
<text x="192.7" y="290.6" font-size="5.2" text-anchor="middle" fill="#222" stroke="#222" stroke-width="0.12">4500</text>
<text x="16.4" y="284.6" font-size="5.2" text-anchor="end" fill="#222" stroke="#222" stroke-width="0.12">0</text>
<text x="16.4" y="261" font-size="5.2" text-anchor="end" fill="#222" stroke="#222" stroke-width="0.12">0.2</text>
<text x="16.4" y="237.4" font-size="5.2" text-anchor="end" fill="#222" stroke="#222" stroke-width="0.12">0.4</text>
<text x="16.4" y="213.8" font-size="5.2" text-anchor="end" fill="#222" stroke="#222" stroke-width="0.12">0.6</text>
<text x="16.4" y="190.2" font-size="5.2" text-anchor="end" fill="#222" stroke="#222" stroke-width="0.12">0.8</text>
<text x="16.4" y="166.6" font-size="5.2" text-anchor="end" fill="#222" stroke="#222" stroke-width="0.12">1</text>
<text x="105.2" y="297.3" font-size="5.2" text-anchor="middle" fill="#222" stroke="#222" stroke-width="0.1" textLength="33.7" lengthAdjust="spacingAndGlyphs">Depth [0.01mm]</text>
<text transform="translate(5.9,214) rotate(-90)" font-size="5.2" text-anchor="middle" fill="#222" textLength="20.6" lengthAdjust="spacingAndGlyphs">Dose[a.u]</text>
<text x="50.8" y="164.3" font-size="11" fill="#000" stroke="#000" stroke-width="0.25" textLength="6.1" lengthAdjust="spacingAndGlyphs">B</text>
<line x1="264.9" y1="145.3" x2="264.9" y2="282.3" stroke="#c4c4c4" stroke-width="0.9" stroke-dasharray="1,1"/>
<line x1="285.4" y1="145.3" x2="285.4" y2="282.3" stroke="#c4c4c4" stroke-width="0.9" stroke-dasharray="1,1"/>
<line x1="305.8" y1="145.3" x2="305.8" y2="282.3" stroke="#c4c4c4" stroke-width="0.9" stroke-dasharray="1,1"/>
<line x1="326.3" y1="145.3" x2="326.3" y2="282.3" stroke="#c4c4c4" stroke-width="0.9" stroke-dasharray="1,1"/>
<line x1="346.8" y1="145.3" x2="346.8" y2="282.3" stroke="#c4c4c4" stroke-width="0.9" stroke-dasharray="1,1"/>
<line x1="367.2" y1="145.3" x2="367.2" y2="282.3" stroke="#c4c4c4" stroke-width="0.9" stroke-dasharray="1,1"/>
<line x1="387.7" y1="145.3" x2="387.7" y2="282.3" stroke="#c4c4c4" stroke-width="0.9" stroke-dasharray="1,1"/>
<line x1="408.2" y1="145.3" x2="408.2" y2="282.3" stroke="#c4c4c4" stroke-width="0.9" stroke-dasharray="1,1"/>
<line x1="244.4" y1="258.9" x2="418.3" y2="258.9" stroke="#c4c4c4" stroke-width="0.9" stroke-dasharray="1,1"/>
<line x1="244.4" y1="235.6" x2="418.3" y2="235.6" stroke="#c4c4c4" stroke-width="0.9" stroke-dasharray="1,1"/>
<line x1="244.4" y1="212.2" x2="418.3" y2="212.2" stroke="#c4c4c4" stroke-width="0.9" stroke-dasharray="1,1"/>
<line x1="244.4" y1="188.9" x2="418.3" y2="188.9" stroke="#c4c4c4" stroke-width="0.9" stroke-dasharray="1,1"/>
<line x1="244.4" y1="165.5" x2="418.3" y2="165.5" stroke="#c4c4c4" stroke-width="0.9" stroke-dasharray="1,1"/>
<line x1="273.5" y1="165.5" x2="273.5" y2="282.3" stroke="#9090fc" stroke-width="1.6" stroke-dasharray="2.7,2.2"/>
<line x1="287.5" y1="165.5" x2="287.5" y2="282.3" stroke="#9090fc" stroke-width="1.6" stroke-dasharray="2.7,2.2"/>
<line x1="301.5" y1="165.5" x2="301.5" y2="282.3" stroke="#9090fc" stroke-width="1.6" stroke-dasharray="2.7,2.2"/>
<line x1="315.5" y1="165.5" x2="315.5" y2="282.3" stroke="#9090fc" stroke-width="1.6" stroke-dasharray="2.7,2.2"/>
<line x1="329.5" y1="165.5" x2="329.5" y2="282.3" stroke="#9090fc" stroke-width="1.6" stroke-dasharray="2.7,2.2"/>
<line x1="343.5" y1="165.5" x2="343.5" y2="282.3" stroke="#9090fc" stroke-width="1.6" stroke-dasharray="2.7,2.2"/>
<line x1="356.5" y1="165.5" x2="356.5" y2="282.3" stroke="#9090fc" stroke-width="1.6" stroke-dasharray="2.7,2.2"/>
<line x1="370.5" y1="165.5" x2="370.5" y2="282.3" stroke="#9090fc" stroke-width="1.6" stroke-dasharray="2.7,2.2"/>
<line x1="384.5" y1="165.5" x2="384.5" y2="282.3" stroke="#9090fc" stroke-width="1.6" stroke-dasharray="2.7,2.2"/>
<line x1="398.5" y1="165.5" x2="398.5" y2="282.3" stroke="#9090fc" stroke-width="1.6" stroke-dasharray="2.7,2.2"/>
<clipPath id="cpC"><rect x="244.4" y="145.3" width="173.9" height="137"/></clipPath>
<g clip-path="url(#cpC)" fill="none" stroke-linejoin="round">
<path d="M244.4,275.7 L244.8,275.7 L245.2,275.6 L245.6,275.6 L246,275.6 L246.4,275.5 L246.9,275.5 L247.3,275.4 L247.7,275.4 L248.1,275.4 L248.5,275.3 L248.9,275.3 L249.3,275.2 L249.7,275.2 L250.1,275.1 L250.5,275.1 L251,275 L251.4,275 L251.8,274.9 L252.2,274.9 L252.6,274.8 L253,274.8 L253.4,274.7 L253.8,274.7 L254.2,274.6 L254.6,274.6 L255,274.5 L255.5,274.4 L255.9,274.4 L256.3,274.3 L256.7,274.2 L257.1,274.2 L257.5,274.1 L257.9,274 L258.3,273.9 L258.7,273.9 L259.1,273.8 L259.6,273.7 L260,273.6 L260.4,273.5 L260.8,273.4 L261.2,273.3 L261.6,273.2 L262,273.1 L262.4,273 L262.8,272.9 L263.2,272.8 L263.6,272.6 L264.1,272.5 L264.5,272.4 L264.9,272.2 L265.3,272.1 L265.7,271.9 L266.1,271.7 L266.5,271.5 L266.9,271.3 L267.3,271.1 L267.7,270.9 L268.2,270.6 L268.6,270.4 L269,270 L269.4,269.7 L269.8,269.3 L270.2,268.9 L270.6,268.5 L271,268 L271.4,267.5 L271.8,267 L272.2,266.6 L272.7,266.2 L273.1,265.9 L273.5,265.6 L273.9,265.5 L274.3,265.6 L274.7,265.7 L275.1,265.9 L275.5,266.2 L275.9,266.6 L276.3,267 L276.8,267.5 L277.2,268 L277.6,268.5 L278,269.1 L278.4,269.6 L278.8,270.2 L279.2,270.9 L279.6,271.5 L280,272.2 L280.4,273 L280.8,273.7 L281.3,274.6 L281.7,275.4 L282.1,276.3 L282.5,277.2 L282.9,278 L283.3,278.8 L283.7,279.6 L284.1,280.2 L284.5,280.8 L284.9,281.2 L285.4,281.6 L285.8,281.8 L286.2,282 L286.6,282.1 L287,282.2 L287.4,282.2 L287.8,282.3 L288.2,282.3 L288.6,282.3 L289,282.3 L289.4,282.3 L289.9,282.3 L290.3,282.3 L290.7,282.3 L291.1,282.3 L291.5,282.3 L291.9,282.3 L292.3,282.3 L292.7,282.3 L293.1,282.3 L293.5,282.3 L293.9,282.3 L294.4,282.3 L294.8,282.3 L295.2,282.3 L295.6,282.3 L296,282.3 L296.4,282.3 L296.8,282.3 L297.2,282.3 L297.6,282.3 L298,282.3 L298.5,282.3 L298.9,282.3 L299.3,282.3 L299.7,282.3 L300.1,282.3 L300.5,282.3 L300.9,282.3 L301.3,282.3 L301.7,282.3 L302.1,282.3 L302.5,282.3 L303,282.3 L303.4,282.3 L303.8,282.3 L304.2,282.3 L304.6,282.3 L305,282.3 L305.4,282.3 L305.8,282.3 L306.2,282.3 L306.6,282.3 L307.1,282.3 L307.5,282.3 L307.9,282.3 L308.3,282.3 L308.7,282.3 L309.1,282.3 L309.5,282.3 L309.9,282.3 L310.3,282.3 L310.7,282.3 L311.1,282.3 L311.6,282.3 L312,282.3 L312.4,282.3 L312.8,282.3 L313.2,282.3 L313.6,282.3 L314,282.3 L314.4,282.3 L314.8,282.3 L315.2,282.3 L315.7,282.3 L316.1,282.3 L316.5,282.3 L316.9,282.3 L317.3,282.3 L317.7,282.3 L318.1,282.3 L318.5,282.3 L318.9,282.3 L319.3,282.3 L319.7,282.3 L320.2,282.3 L320.6,282.3 L321,282.3 L321.4,282.3 L321.8,282.3 L322.2,282.3 L322.6,282.3 L323,282.3 L323.4,282.3 L323.8,282.3 L324.3,282.3 L324.7,282.3 L325.1,282.3 L325.5,282.3 L325.9,282.3 L326.3,282.3 L326.7,282.3 L327.1,282.3 L327.5,282.3 L327.9,282.3 L328.3,282.3 L328.8,282.3 L329.2,282.3 L329.6,282.3 L330,282.3 L330.4,282.3 L330.8,282.3 L331.2,282.3 L331.6,282.3 L332,282.3 L332.4,282.3 L332.9,282.3 L333.3,282.3 L333.7,282.3 L334.1,282.3 L334.5,282.3 L334.9,282.3 L335.3,282.3 L335.7,282.3 L336.1,282.3 L336.5,282.3 L336.9,282.3 L337.4,282.3 L337.8,282.3 L338.2,282.3 L338.6,282.3 L339,282.3 L339.4,282.3 L339.8,282.3 L340.2,282.3 L340.6,282.3 L341,282.3 L341.5,282.3 L341.9,282.3 L342.3,282.3 L342.7,282.3 L343.1,282.3 L343.5,282.3 L343.9,282.3 L344.3,282.3 L344.7,282.3 L345.1,282.3 L345.5,282.3 L346,282.3 L346.4,282.3 L346.8,282.3 L347.2,282.3 L347.6,282.3 L348,282.3 L348.4,282.3 L348.8,282.3 L349.2,282.3 L349.6,282.3 L350.1,282.3 L350.5,282.3 L350.9,282.3 L351.3,282.3 L351.7,282.3 L352.1,282.3 L352.5,282.3 L352.9,282.3 L353.3,282.3 L353.7,282.3 L354.1,282.3 L354.6,282.3 L355,282.3 L355.4,282.3 L355.8,282.3 L356.2,282.3 L356.6,282.3 L357,282.3 L357.4,282.3 L357.8,282.3 L358.2,282.3 L358.7,282.3 L359.1,282.3 L359.5,282.3 L359.9,282.3 L360.3,282.3 L360.7,282.3 L361.1,282.3 L361.5,282.3 L361.9,282.3 L362.3,282.3 L362.7,282.3 L363.2,282.3 L363.6,282.3 L364,282.3 L364.4,282.3 L364.8,282.3 L365.2,282.3 L365.6,282.3 L366,282.3 L366.4,282.3 L366.8,282.3 L367.2,282.3 L367.7,282.3 L368.1,282.3 L368.5,282.3 L368.9,282.3 L369.3,282.3 L369.7,282.3 L370.1,282.3 L370.5,282.3 L370.9,282.3 L371.3,282.3 L371.8,282.3 L372.2,282.3 L372.6,282.3 L373,282.3 L373.4,282.3 L373.8,282.3 L374.2,282.3 L374.6,282.3 L375,282.3 L375.4,282.3 L375.8,282.3 L376.3,282.3 L376.7,282.3 L377.1,282.3 L377.5,282.3 L377.9,282.3 L378.3,282.3 L378.7,282.3 L379.1,282.3 L379.5,282.3 L379.9,282.3 L380.4,282.3 L380.8,282.3 L381.2,282.3 L381.6,282.3 L382,282.3 L382.4,282.3 L382.8,282.3 L383.2,282.3 L383.6,282.3 L384,282.3 L384.4,282.3 L384.9,282.3 L385.3,282.3 L385.7,282.3 L386.1,282.3 L386.5,282.3 L386.9,282.3 L387.3,282.3 L387.7,282.3 L388.1,282.3 L388.5,282.3 L389,282.3 L389.4,282.3 L389.8,282.3 L390.2,282.3 L390.6,282.3 L391,282.3 L391.4,282.3 L391.8,282.3 L392.2,282.3 L392.6,282.3 L393,282.3 L393.5,282.3 L393.9,282.3 L394.3,282.3 L394.7,282.3 L395.1,282.3 L395.5,282.3 L395.9,282.3 L396.3,282.3 L396.7,282.3 L397.1,282.3 L397.6,282.3 L398,282.3 L398.4,282.3 L398.8,282.3 L399.2,282.3 L399.6,282.3 L400,282.3 L400.4,282.3 L400.8,282.3 L401.2,282.3 L401.6,282.3 L402.1,282.3 L402.5,282.3 L402.9,282.3 L403.3,282.3 L403.7,282.3 L404.1,282.3 L404.5,282.3 L404.9,282.3 L405.3,282.3 L405.7,282.3 L406.2,282.3 L406.6,282.3 L407,282.3 L407.4,282.3 L407.8,282.3 L408.2,282.3 L408.6,282.3 L409,282.3 L409.4,282.3 L409.8,282.3 L410.2,282.3 L410.7,282.3 L411.1,282.3 L411.5,282.3 L411.9,282.3 L412.3,282.3 L412.7,282.3 L413.1,282.3 L413.5,282.3 L413.9,282.3 L414.3,282.3 L414.8,282.3 L415.2,282.3 L415.6,282.3 L416,282.3 L416.4,282.3 L416.8,282.3 L417.2,282.3 L417.6,282.3 L418,282.3 L418.4,282.3" stroke="#e8d020" stroke-width="0.8" />
<path d="M244.4,275.8 L244.8,275.8 L245.2,275.7 L245.6,275.7 L246,275.7 L246.4,275.7 L246.9,275.6 L247.3,275.6 L247.7,275.6 L248.1,275.6 L248.5,275.5 L248.9,275.5 L249.3,275.5 L249.7,275.4 L250.1,275.4 L250.5,275.4 L251,275.4 L251.4,275.3 L251.8,275.3 L252.2,275.3 L252.6,275.2 L253,275.2 L253.4,275.2 L253.8,275.1 L254.2,275.1 L254.6,275.1 L255,275 L255.5,275 L255.9,275 L256.3,274.9 L256.7,274.9 L257.1,274.8 L257.5,274.8 L257.9,274.8 L258.3,274.7 L258.7,274.7 L259.1,274.6 L259.6,274.6 L260,274.6 L260.4,274.5 L260.8,274.5 L261.2,274.4 L261.6,274.4 L262,274.3 L262.4,274.3 L262.8,274.2 L263.2,274.2 L263.6,274.1 L264.1,274.1 L264.5,274 L264.9,274 L265.3,273.9 L265.7,273.8 L266.1,273.8 L266.5,273.7 L266.9,273.7 L267.3,273.6 L267.7,273.5 L268.2,273.5 L268.6,273.4 L269,273.3 L269.4,273.3 L269.8,273.2 L270.2,273.1 L270.6,273 L271,272.9 L271.4,272.9 L271.8,272.8 L272.2,272.7 L272.7,272.6 L273.1,272.5 L273.5,272.4 L273.9,272.3 L274.3,272.2 L274.7,272.1 L275.1,272 L275.5,271.9 L275.9,271.7 L276.3,271.6 L276.8,271.5 L277.2,271.3 L277.6,271.2 L278,271 L278.4,270.9 L278.8,270.7 L279.2,270.5 L279.6,270.3 L280,270.1 L280.4,269.9 L280.8,269.7 L281.3,269.4 L281.7,269.2 L282.1,268.9 L282.5,268.5 L282.9,268.2 L283.3,267.8 L283.7,267.3 L284.1,266.8 L284.5,266.3 L284.9,265.7 L285.4,265.2 L285.8,264.6 L286.2,264.1 L286.6,263.7 L287,263.4 L287.4,263.2 L287.8,263.1 L288.2,263.1 L288.6,263.3 L289,263.6 L289.4,263.9 L289.9,264.4 L290.3,264.9 L290.7,265.4 L291.1,266 L291.5,266.6 L291.9,267.2 L292.3,267.9 L292.7,268.6 L293.1,269.3 L293.5,270.1 L293.9,270.9 L294.4,271.8 L294.8,272.7 L295.2,273.6 L295.6,274.6 L296,275.6 L296.4,276.6 L296.8,277.6 L297.2,278.5 L297.6,279.4 L298,280.1 L298.5,280.7 L298.9,281.2 L299.3,281.5 L299.7,281.8 L300.1,282 L300.5,282.1 L300.9,282.2 L301.3,282.2 L301.7,282.3 L302.1,282.3 L302.5,282.3 L303,282.3 L303.4,282.3 L303.8,282.3 L304.2,282.3 L304.6,282.3 L305,282.3 L305.4,282.3 L305.8,282.3 L306.2,282.3 L306.6,282.3 L307.1,282.3 L307.5,282.3 L307.9,282.3 L308.3,282.3 L308.7,282.3 L309.1,282.3 L309.5,282.3 L309.9,282.3 L310.3,282.3 L310.7,282.3 L311.1,282.3 L311.6,282.3 L312,282.3 L312.4,282.3 L312.8,282.3 L313.2,282.3 L313.6,282.3 L314,282.3 L314.4,282.3 L314.8,282.3 L315.2,282.3 L315.7,282.3 L316.1,282.3 L316.5,282.3 L316.9,282.3 L317.3,282.3 L317.7,282.3 L318.1,282.3 L318.5,282.3 L318.9,282.3 L319.3,282.3 L319.7,282.3 L320.2,282.3 L320.6,282.3 L321,282.3 L321.4,282.3 L321.8,282.3 L322.2,282.3 L322.6,282.3 L323,282.3 L323.4,282.3 L323.8,282.3 L324.3,282.3 L324.7,282.3 L325.1,282.3 L325.5,282.3 L325.9,282.3 L326.3,282.3 L326.7,282.3 L327.1,282.3 L327.5,282.3 L327.9,282.3 L328.3,282.3 L328.8,282.3 L329.2,282.3 L329.6,282.3 L330,282.3 L330.4,282.3 L330.8,282.3 L331.2,282.3 L331.6,282.3 L332,282.3 L332.4,282.3 L332.9,282.3 L333.3,282.3 L333.7,282.3 L334.1,282.3 L334.5,282.3 L334.9,282.3 L335.3,282.3 L335.7,282.3 L336.1,282.3 L336.5,282.3 L336.9,282.3 L337.4,282.3 L337.8,282.3 L338.2,282.3 L338.6,282.3 L339,282.3 L339.4,282.3 L339.8,282.3 L340.2,282.3 L340.6,282.3 L341,282.3 L341.5,282.3 L341.9,282.3 L342.3,282.3 L342.7,282.3 L343.1,282.3 L343.5,282.3 L343.9,282.3 L344.3,282.3 L344.7,282.3 L345.1,282.3 L345.5,282.3 L346,282.3 L346.4,282.3 L346.8,282.3 L347.2,282.3 L347.6,282.3 L348,282.3 L348.4,282.3 L348.8,282.3 L349.2,282.3 L349.6,282.3 L350.1,282.3 L350.5,282.3 L350.9,282.3 L351.3,282.3 L351.7,282.3 L352.1,282.3 L352.5,282.3 L352.9,282.3 L353.3,282.3 L353.7,282.3 L354.1,282.3 L354.6,282.3 L355,282.3 L355.4,282.3 L355.8,282.3 L356.2,282.3 L356.6,282.3 L357,282.3 L357.4,282.3 L357.8,282.3 L358.2,282.3 L358.7,282.3 L359.1,282.3 L359.5,282.3 L359.9,282.3 L360.3,282.3 L360.7,282.3 L361.1,282.3 L361.5,282.3 L361.9,282.3 L362.3,282.3 L362.7,282.3 L363.2,282.3 L363.6,282.3 L364,282.3 L364.4,282.3 L364.8,282.3 L365.2,282.3 L365.6,282.3 L366,282.3 L366.4,282.3 L366.8,282.3 L367.2,282.3 L367.7,282.3 L368.1,282.3 L368.5,282.3 L368.9,282.3 L369.3,282.3 L369.7,282.3 L370.1,282.3 L370.5,282.3 L370.9,282.3 L371.3,282.3 L371.8,282.3 L372.2,282.3 L372.6,282.3 L373,282.3 L373.4,282.3 L373.8,282.3 L374.2,282.3 L374.6,282.3 L375,282.3 L375.4,282.3 L375.8,282.3 L376.3,282.3 L376.7,282.3 L377.1,282.3 L377.5,282.3 L377.9,282.3 L378.3,282.3 L378.7,282.3 L379.1,282.3 L379.5,282.3 L379.9,282.3 L380.4,282.3 L380.8,282.3 L381.2,282.3 L381.6,282.3 L382,282.3 L382.4,282.3 L382.8,282.3 L383.2,282.3 L383.6,282.3 L384,282.3 L384.4,282.3 L384.9,282.3 L385.3,282.3 L385.7,282.3 L386.1,282.3 L386.5,282.3 L386.9,282.3 L387.3,282.3 L387.7,282.3 L388.1,282.3 L388.5,282.3 L389,282.3 L389.4,282.3 L389.8,282.3 L390.2,282.3 L390.6,282.3 L391,282.3 L391.4,282.3 L391.8,282.3 L392.2,282.3 L392.6,282.3 L393,282.3 L393.5,282.3 L393.9,282.3 L394.3,282.3 L394.7,282.3 L395.1,282.3 L395.5,282.3 L395.9,282.3 L396.3,282.3 L396.7,282.3 L397.1,282.3 L397.6,282.3 L398,282.3 L398.4,282.3 L398.8,282.3 L399.2,282.3 L399.6,282.3 L400,282.3 L400.4,282.3 L400.8,282.3 L401.2,282.3 L401.6,282.3 L402.1,282.3 L402.5,282.3 L402.9,282.3 L403.3,282.3 L403.7,282.3 L404.1,282.3 L404.5,282.3 L404.9,282.3 L405.3,282.3 L405.7,282.3 L406.2,282.3 L406.6,282.3 L407,282.3 L407.4,282.3 L407.8,282.3 L408.2,282.3 L408.6,282.3 L409,282.3 L409.4,282.3 L409.8,282.3 L410.2,282.3 L410.7,282.3 L411.1,282.3 L411.5,282.3 L411.9,282.3 L412.3,282.3 L412.7,282.3 L413.1,282.3 L413.5,282.3 L413.9,282.3 L414.3,282.3 L414.8,282.3 L415.2,282.3 L415.6,282.3 L416,282.3 L416.4,282.3 L416.8,282.3 L417.2,282.3 L417.6,282.3 L418,282.3 L418.4,282.3" stroke="#f09030" stroke-width="0.8" />
<path d="M244.4,276.1 L244.8,276.1 L245.2,276 L245.6,276 L246,276 L246.4,276 L246.9,276 L247.3,276 L247.7,275.9 L248.1,275.9 L248.5,275.9 L248.9,275.9 L249.3,275.9 L249.7,275.8 L250.1,275.8 L250.5,275.8 L251,275.8 L251.4,275.7 L251.8,275.7 L252.2,275.7 L252.6,275.7 L253,275.7 L253.4,275.6 L253.8,275.6 L254.2,275.6 L254.6,275.6 L255,275.5 L255.5,275.5 L255.9,275.5 L256.3,275.5 L256.7,275.4 L257.1,275.4 L257.5,275.4 L257.9,275.4 L258.3,275.3 L258.7,275.3 L259.1,275.3 L259.6,275.3 L260,275.2 L260.4,275.2 L260.8,275.2 L261.2,275.2 L261.6,275.1 L262,275.1 L262.4,275.1 L262.8,275 L263.2,275 L263.6,275 L264.1,274.9 L264.5,274.9 L264.9,274.9 L265.3,274.8 L265.7,274.8 L266.1,274.8 L266.5,274.7 L266.9,274.7 L267.3,274.7 L267.7,274.6 L268.2,274.6 L268.6,274.6 L269,274.5 L269.4,274.5 L269.8,274.4 L270.2,274.4 L270.6,274.4 L271,274.3 L271.4,274.3 L271.8,274.2 L272.2,274.2 L272.7,274.2 L273.1,274.1 L273.5,274.1 L273.9,274 L274.3,274 L274.7,273.9 L275.1,273.9 L275.5,273.8 L275.9,273.8 L276.3,273.7 L276.8,273.7 L277.2,273.6 L277.6,273.6 L278,273.5 L278.4,273.4 L278.8,273.4 L279.2,273.3 L279.6,273.3 L280,273.2 L280.4,273.1 L280.8,273.1 L281.3,273 L281.7,272.9 L282.1,272.9 L282.5,272.8 L282.9,272.7 L283.3,272.6 L283.7,272.6 L284.1,272.5 L284.5,272.4 L284.9,272.3 L285.4,272.2 L285.8,272.1 L286.2,272 L286.6,271.9 L287,271.8 L287.4,271.7 L287.8,271.6 L288.2,271.5 L288.6,271.4 L289,271.3 L289.4,271.1 L289.9,271 L290.3,270.9 L290.7,270.7 L291.1,270.6 L291.5,270.4 L291.9,270.2 L292.3,270.1 L292.7,269.9 L293.1,269.7 L293.5,269.5 L293.9,269.3 L294.4,269 L294.8,268.8 L295.2,268.5 L295.6,268.2 L296,267.9 L296.4,267.5 L296.8,267.1 L297.2,266.7 L297.6,266.2 L298,265.7 L298.5,265.1 L298.9,264.5 L299.3,263.9 L299.7,263.3 L300.1,262.8 L300.5,262.4 L300.9,262 L301.3,261.8 L301.7,261.8 L302.1,261.9 L302.5,262.1 L303,262.4 L303.4,262.8 L303.8,263.3 L304.2,263.8 L304.6,264.4 L305,265 L305.4,265.7 L305.8,266.4 L306.2,267.1 L306.6,267.8 L307.1,268.6 L307.5,269.4 L307.9,270.3 L308.3,271.2 L308.7,272.2 L309.1,273.2 L309.5,274.3 L309.9,275.4 L310.3,276.4 L310.7,277.5 L311.1,278.4 L311.6,279.3 L312,280.1 L312.4,280.7 L312.8,281.2 L313.2,281.6 L313.6,281.8 L314,282 L314.4,282.1 L314.8,282.2 L315.2,282.3 L315.7,282.3 L316.1,282.3 L316.5,282.3 L316.9,282.3 L317.3,282.3 L317.7,282.3 L318.1,282.3 L318.5,282.3 L318.9,282.3 L319.3,282.3 L319.7,282.3 L320.2,282.3 L320.6,282.3 L321,282.3 L321.4,282.3 L321.8,282.3 L322.2,282.3 L322.6,282.3 L323,282.3 L323.4,282.3 L323.8,282.3 L324.3,282.3 L324.7,282.3 L325.1,282.3 L325.5,282.3 L325.9,282.3 L326.3,282.3 L326.7,282.3 L327.1,282.3 L327.5,282.3 L327.9,282.3 L328.3,282.3 L328.8,282.3 L329.2,282.3 L329.6,282.3 L330,282.3 L330.4,282.3 L330.8,282.3 L331.2,282.3 L331.6,282.3 L332,282.3 L332.4,282.3 L332.9,282.3 L333.3,282.3 L333.7,282.3 L334.1,282.3 L334.5,282.3 L334.9,282.3 L335.3,282.3 L335.7,282.3 L336.1,282.3 L336.5,282.3 L336.9,282.3 L337.4,282.3 L337.8,282.3 L338.2,282.3 L338.6,282.3 L339,282.3 L339.4,282.3 L339.8,282.3 L340.2,282.3 L340.6,282.3 L341,282.3 L341.5,282.3 L341.9,282.3 L342.3,282.3 L342.7,282.3 L343.1,282.3 L343.5,282.3 L343.9,282.3 L344.3,282.3 L344.7,282.3 L345.1,282.3 L345.5,282.3 L346,282.3 L346.4,282.3 L346.8,282.3 L347.2,282.3 L347.6,282.3 L348,282.3 L348.4,282.3 L348.8,282.3 L349.2,282.3 L349.6,282.3 L350.1,282.3 L350.5,282.3 L350.9,282.3 L351.3,282.3 L351.7,282.3 L352.1,282.3 L352.5,282.3 L352.9,282.3 L353.3,282.3 L353.7,282.3 L354.1,282.3 L354.6,282.3 L355,282.3 L355.4,282.3 L355.8,282.3 L356.2,282.3 L356.6,282.3 L357,282.3 L357.4,282.3 L357.8,282.3 L358.2,282.3 L358.7,282.3 L359.1,282.3 L359.5,282.3 L359.9,282.3 L360.3,282.3 L360.7,282.3 L361.1,282.3 L361.5,282.3 L361.9,282.3 L362.3,282.3 L362.7,282.3 L363.2,282.3 L363.6,282.3 L364,282.3 L364.4,282.3 L364.8,282.3 L365.2,282.3 L365.6,282.3 L366,282.3 L366.4,282.3 L366.8,282.3 L367.2,282.3 L367.7,282.3 L368.1,282.3 L368.5,282.3 L368.9,282.3 L369.3,282.3 L369.7,282.3 L370.1,282.3 L370.5,282.3 L370.9,282.3 L371.3,282.3 L371.8,282.3 L372.2,282.3 L372.6,282.3 L373,282.3 L373.4,282.3 L373.8,282.3 L374.2,282.3 L374.6,282.3 L375,282.3 L375.4,282.3 L375.8,282.3 L376.3,282.3 L376.7,282.3 L377.1,282.3 L377.5,282.3 L377.9,282.3 L378.3,282.3 L378.7,282.3 L379.1,282.3 L379.5,282.3 L379.9,282.3 L380.4,282.3 L380.8,282.3 L381.2,282.3 L381.6,282.3 L382,282.3 L382.4,282.3 L382.8,282.3 L383.2,282.3 L383.6,282.3 L384,282.3 L384.4,282.3 L384.9,282.3 L385.3,282.3 L385.7,282.3 L386.1,282.3 L386.5,282.3 L386.9,282.3 L387.3,282.3 L387.7,282.3 L388.1,282.3 L388.5,282.3 L389,282.3 L389.4,282.3 L389.8,282.3 L390.2,282.3 L390.6,282.3 L391,282.3 L391.4,282.3 L391.8,282.3 L392.2,282.3 L392.6,282.3 L393,282.3 L393.5,282.3 L393.9,282.3 L394.3,282.3 L394.7,282.3 L395.1,282.3 L395.5,282.3 L395.9,282.3 L396.3,282.3 L396.7,282.3 L397.1,282.3 L397.6,282.3 L398,282.3 L398.4,282.3 L398.8,282.3 L399.2,282.3 L399.6,282.3 L400,282.3 L400.4,282.3 L400.8,282.3 L401.2,282.3 L401.6,282.3 L402.1,282.3 L402.5,282.3 L402.9,282.3 L403.3,282.3 L403.7,282.3 L404.1,282.3 L404.5,282.3 L404.9,282.3 L405.3,282.3 L405.7,282.3 L406.2,282.3 L406.6,282.3 L407,282.3 L407.4,282.3 L407.8,282.3 L408.2,282.3 L408.6,282.3 L409,282.3 L409.4,282.3 L409.8,282.3 L410.2,282.3 L410.7,282.3 L411.1,282.3 L411.5,282.3 L411.9,282.3 L412.3,282.3 L412.7,282.3 L413.1,282.3 L413.5,282.3 L413.9,282.3 L414.3,282.3 L414.8,282.3 L415.2,282.3 L415.6,282.3 L416,282.3 L416.4,282.3 L416.8,282.3 L417.2,282.3 L417.6,282.3 L418,282.3 L418.4,282.3" stroke="#f060a0" stroke-width="0.8" />
<path d="M244.4,276.1 L244.8,276.1 L245.2,276.1 L245.6,276.1 L246,276 L246.4,276 L246.9,276 L247.3,276 L247.7,276 L248.1,276 L248.5,275.9 L248.9,275.9 L249.3,275.9 L249.7,275.9 L250.1,275.9 L250.5,275.9 L251,275.9 L251.4,275.8 L251.8,275.8 L252.2,275.8 L252.6,275.8 L253,275.8 L253.4,275.7 L253.8,275.7 L254.2,275.7 L254.6,275.7 L255,275.7 L255.5,275.7 L255.9,275.6 L256.3,275.6 L256.7,275.6 L257.1,275.6 L257.5,275.6 L257.9,275.5 L258.3,275.5 L258.7,275.5 L259.1,275.5 L259.6,275.5 L260,275.4 L260.4,275.4 L260.8,275.4 L261.2,275.4 L261.6,275.4 L262,275.3 L262.4,275.3 L262.8,275.3 L263.2,275.3 L263.6,275.3 L264.1,275.2 L264.5,275.2 L264.9,275.2 L265.3,275.2 L265.7,275.1 L266.1,275.1 L266.5,275.1 L266.9,275.1 L267.3,275 L267.7,275 L268.2,275 L268.6,275 L269,274.9 L269.4,274.9 L269.8,274.9 L270.2,274.9 L270.6,274.8 L271,274.8 L271.4,274.8 L271.8,274.7 L272.2,274.7 L272.7,274.7 L273.1,274.7 L273.5,274.6 L273.9,274.6 L274.3,274.6 L274.7,274.5 L275.1,274.5 L275.5,274.5 L275.9,274.4 L276.3,274.4 L276.8,274.4 L277.2,274.3 L277.6,274.3 L278,274.3 L278.4,274.2 L278.8,274.2 L279.2,274.2 L279.6,274.1 L280,274.1 L280.4,274.1 L280.8,274 L281.3,274 L281.7,273.9 L282.1,273.9 L282.5,273.9 L282.9,273.8 L283.3,273.8 L283.7,273.7 L284.1,273.7 L284.5,273.7 L284.9,273.6 L285.4,273.6 L285.8,273.5 L286.2,273.5 L286.6,273.4 L287,273.4 L287.4,273.3 L287.8,273.3 L288.2,273.2 L288.6,273.2 L289,273.1 L289.4,273.1 L289.9,273 L290.3,272.9 L290.7,272.9 L291.1,272.8 L291.5,272.8 L291.9,272.7 L292.3,272.6 L292.7,272.6 L293.1,272.5 L293.5,272.4 L293.9,272.4 L294.4,272.3 L294.8,272.2 L295.2,272.2 L295.6,272.1 L296,272 L296.4,271.9 L296.8,271.8 L297.2,271.8 L297.6,271.7 L298,271.6 L298.5,271.5 L298.9,271.4 L299.3,271.3 L299.7,271.2 L300.1,271.1 L300.5,271 L300.9,270.9 L301.3,270.7 L301.7,270.6 L302.1,270.5 L302.5,270.4 L303,270.2 L303.4,270.1 L303.8,270 L304.2,269.8 L304.6,269.6 L305,269.5 L305.4,269.3 L305.8,269.1 L306.2,268.9 L306.6,268.7 L307.1,268.5 L307.5,268.3 L307.9,268 L308.3,267.8 L308.7,267.5 L309.1,267.2 L309.5,266.9 L309.9,266.5 L310.3,266.1 L310.7,265.7 L311.1,265.2 L311.6,264.7 L312,264.1 L312.4,263.4 L312.8,262.8 L313.2,262.1 L313.6,261.5 L314,261 L314.4,260.5 L314.8,260.2 L315.2,260 L315.7,260 L316.1,260.1 L316.5,260.3 L316.9,260.7 L317.3,261.2 L317.7,261.7 L318.1,262.3 L318.5,262.9 L318.9,263.6 L319.3,264.3 L319.7,265.1 L320.2,265.9 L320.6,266.7 L321,267.6 L321.4,268.5 L321.8,269.4 L322.2,270.5 L322.6,271.5 L323,272.7 L323.4,273.8 L323.8,275 L324.3,276.2 L324.7,277.3 L325.1,278.3 L325.5,279.2 L325.9,280 L326.3,280.7 L326.7,281.2 L327.1,281.6 L327.5,281.8 L327.9,282 L328.3,282.1 L328.8,282.2 L329.2,282.3 L329.6,282.3 L330,282.3 L330.4,282.3 L330.8,282.3 L331.2,282.3 L331.6,282.3 L332,282.3 L332.4,282.3 L332.9,282.3 L333.3,282.3 L333.7,282.3 L334.1,282.3 L334.5,282.3 L334.9,282.3 L335.3,282.3 L335.7,282.3 L336.1,282.3 L336.5,282.3 L336.9,282.3 L337.4,282.3 L337.8,282.3 L338.2,282.3 L338.6,282.3 L339,282.3 L339.4,282.3 L339.8,282.3 L340.2,282.3 L340.6,282.3 L341,282.3 L341.5,282.3 L341.9,282.3 L342.3,282.3 L342.7,282.3 L343.1,282.3 L343.5,282.3 L343.9,282.3 L344.3,282.3 L344.7,282.3 L345.1,282.3 L345.5,282.3 L346,282.3 L346.4,282.3 L346.8,282.3 L347.2,282.3 L347.6,282.3 L348,282.3 L348.4,282.3 L348.8,282.3 L349.2,282.3 L349.6,282.3 L350.1,282.3 L350.5,282.3 L350.9,282.3 L351.3,282.3 L351.7,282.3 L352.1,282.3 L352.5,282.3 L352.9,282.3 L353.3,282.3 L353.7,282.3 L354.1,282.3 L354.6,282.3 L355,282.3 L355.4,282.3 L355.8,282.3 L356.2,282.3 L356.6,282.3 L357,282.3 L357.4,282.3 L357.8,282.3 L358.2,282.3 L358.7,282.3 L359.1,282.3 L359.5,282.3 L359.9,282.3 L360.3,282.3 L360.7,282.3 L361.1,282.3 L361.5,282.3 L361.9,282.3 L362.3,282.3 L362.7,282.3 L363.2,282.3 L363.6,282.3 L364,282.3 L364.4,282.3 L364.8,282.3 L365.2,282.3 L365.6,282.3 L366,282.3 L366.4,282.3 L366.8,282.3 L367.2,282.3 L367.7,282.3 L368.1,282.3 L368.5,282.3 L368.9,282.3 L369.3,282.3 L369.7,282.3 L370.1,282.3 L370.5,282.3 L370.9,282.3 L371.3,282.3 L371.8,282.3 L372.2,282.3 L372.6,282.3 L373,282.3 L373.4,282.3 L373.8,282.3 L374.2,282.3 L374.6,282.3 L375,282.3 L375.4,282.3 L375.8,282.3 L376.3,282.3 L376.7,282.3 L377.1,282.3 L377.5,282.3 L377.9,282.3 L378.3,282.3 L378.7,282.3 L379.1,282.3 L379.5,282.3 L379.9,282.3 L380.4,282.3 L380.8,282.3 L381.2,282.3 L381.6,282.3 L382,282.3 L382.4,282.3 L382.8,282.3 L383.2,282.3 L383.6,282.3 L384,282.3 L384.4,282.3 L384.9,282.3 L385.3,282.3 L385.7,282.3 L386.1,282.3 L386.5,282.3 L386.9,282.3 L387.3,282.3 L387.7,282.3 L388.1,282.3 L388.5,282.3 L389,282.3 L389.4,282.3 L389.8,282.3 L390.2,282.3 L390.6,282.3 L391,282.3 L391.4,282.3 L391.8,282.3 L392.2,282.3 L392.6,282.3 L393,282.3 L393.5,282.3 L393.9,282.3 L394.3,282.3 L394.7,282.3 L395.1,282.3 L395.5,282.3 L395.9,282.3 L396.3,282.3 L396.7,282.3 L397.1,282.3 L397.6,282.3 L398,282.3 L398.4,282.3 L398.8,282.3 L399.2,282.3 L399.6,282.3 L400,282.3 L400.4,282.3 L400.8,282.3 L401.2,282.3 L401.6,282.3 L402.1,282.3 L402.5,282.3 L402.9,282.3 L403.3,282.3 L403.7,282.3 L404.1,282.3 L404.5,282.3 L404.9,282.3 L405.3,282.3 L405.7,282.3 L406.2,282.3 L406.6,282.3 L407,282.3 L407.4,282.3 L407.8,282.3 L408.2,282.3 L408.6,282.3 L409,282.3 L409.4,282.3 L409.8,282.3 L410.2,282.3 L410.7,282.3 L411.1,282.3 L411.5,282.3 L411.9,282.3 L412.3,282.3 L412.7,282.3 L413.1,282.3 L413.5,282.3 L413.9,282.3 L414.3,282.3 L414.8,282.3 L415.2,282.3 L415.6,282.3 L416,282.3 L416.4,282.3 L416.8,282.3 L417.2,282.3 L417.6,282.3 L418,282.3 L418.4,282.3" stroke="#e040e0" stroke-width="0.8" />
<path d="M244.4,275.9 L244.8,275.9 L245.2,275.9 L245.6,275.9 L246,275.9 L246.4,275.9 L246.9,275.9 L247.3,275.9 L247.7,275.8 L248.1,275.8 L248.5,275.8 L248.9,275.8 L249.3,275.8 L249.7,275.8 L250.1,275.8 L250.5,275.7 L251,275.7 L251.4,275.7 L251.8,275.7 L252.2,275.7 L252.6,275.7 L253,275.7 L253.4,275.6 L253.8,275.6 L254.2,275.6 L254.6,275.6 L255,275.6 L255.5,275.6 L255.9,275.6 L256.3,275.5 L256.7,275.5 L257.1,275.5 L257.5,275.5 L257.9,275.5 L258.3,275.5 L258.7,275.4 L259.1,275.4 L259.6,275.4 L260,275.4 L260.4,275.4 L260.8,275.4 L261.2,275.3 L261.6,275.3 L262,275.3 L262.4,275.3 L262.8,275.3 L263.2,275.3 L263.6,275.2 L264.1,275.2 L264.5,275.2 L264.9,275.2 L265.3,275.2 L265.7,275.1 L266.1,275.1 L266.5,275.1 L266.9,275.1 L267.3,275.1 L267.7,275 L268.2,275 L268.6,275 L269,275 L269.4,275 L269.8,274.9 L270.2,274.9 L270.6,274.9 L271,274.9 L271.4,274.9 L271.8,274.8 L272.2,274.8 L272.7,274.8 L273.1,274.8 L273.5,274.8 L273.9,274.7 L274.3,274.7 L274.7,274.7 L275.1,274.7 L275.5,274.6 L275.9,274.6 L276.3,274.6 L276.8,274.6 L277.2,274.5 L277.6,274.5 L278,274.5 L278.4,274.5 L278.8,274.4 L279.2,274.4 L279.6,274.4 L280,274.4 L280.4,274.3 L280.8,274.3 L281.3,274.3 L281.7,274.3 L282.1,274.2 L282.5,274.2 L282.9,274.2 L283.3,274.1 L283.7,274.1 L284.1,274.1 L284.5,274 L284.9,274 L285.4,274 L285.8,274 L286.2,273.9 L286.6,273.9 L287,273.9 L287.4,273.8 L287.8,273.8 L288.2,273.8 L288.6,273.7 L289,273.7 L289.4,273.7 L289.9,273.6 L290.3,273.6 L290.7,273.6 L291.1,273.5 L291.5,273.5 L291.9,273.4 L292.3,273.4 L292.7,273.4 L293.1,273.3 L293.5,273.3 L293.9,273.2 L294.4,273.2 L294.8,273.2 L295.2,273.1 L295.6,273.1 L296,273 L296.4,273 L296.8,272.9 L297.2,272.9 L297.6,272.8 L298,272.8 L298.5,272.7 L298.9,272.7 L299.3,272.6 L299.7,272.6 L300.1,272.5 L300.5,272.5 L300.9,272.4 L301.3,272.4 L301.7,272.3 L302.1,272.3 L302.5,272.2 L303,272.2 L303.4,272.1 L303.8,272 L304.2,272 L304.6,271.9 L305,271.8 L305.4,271.8 L305.8,271.7 L306.2,271.6 L306.6,271.6 L307.1,271.5 L307.5,271.4 L307.9,271.3 L308.3,271.3 L308.7,271.2 L309.1,271.1 L309.5,271 L309.9,270.9 L310.3,270.8 L310.7,270.7 L311.1,270.6 L311.6,270.5 L312,270.4 L312.4,270.3 L312.8,270.2 L313.2,270.1 L313.6,270 L314,269.9 L314.4,269.8 L314.8,269.7 L315.2,269.5 L315.7,269.4 L316.1,269.3 L316.5,269.1 L316.9,269 L317.3,268.8 L317.7,268.6 L318.1,268.5 L318.5,268.3 L318.9,268.1 L319.3,267.9 L319.7,267.7 L320.2,267.5 L320.6,267.3 L321,267 L321.4,266.8 L321.8,266.5 L322.2,266.2 L322.6,265.9 L323,265.6 L323.4,265.2 L323.8,264.8 L324.3,264.3 L324.7,263.9 L325.1,263.3 L325.5,262.7 L325.9,262 L326.3,261.3 L326.7,260.6 L327.1,259.9 L327.5,259.2 L327.9,258.6 L328.3,258.2 L328.8,257.8 L329.2,257.6 L329.6,257.6 L330,257.8 L330.4,258.1 L330.8,258.5 L331.2,259.1 L331.6,259.7 L332,260.4 L332.4,261.1 L332.9,261.8 L333.3,262.6 L333.7,263.5 L334.1,264.4 L334.5,265.3 L334.9,266.2 L335.3,267.2 L335.7,268.3 L336.1,269.5 L336.5,270.7 L336.9,271.9 L337.4,273.2 L337.8,274.5 L338.2,275.8 L338.6,277 L339,278.1 L339.4,279.1 L339.8,279.9 L340.2,280.6 L340.6,281.2 L341,281.6 L341.5,281.8 L341.9,282 L342.3,282.1 L342.7,282.2 L343.1,282.3 L343.5,282.3 L343.9,282.3 L344.3,282.3 L344.7,282.3 L345.1,282.3 L345.5,282.3 L346,282.3 L346.4,282.3 L346.8,282.3 L347.2,282.3 L347.6,282.3 L348,282.3 L348.4,282.3 L348.8,282.3 L349.2,282.3 L349.6,282.3 L350.1,282.3 L350.5,282.3 L350.9,282.3 L351.3,282.3 L351.7,282.3 L352.1,282.3 L352.5,282.3 L352.9,282.3 L353.3,282.3 L353.7,282.3 L354.1,282.3 L354.6,282.3 L355,282.3 L355.4,282.3 L355.8,282.3 L356.2,282.3 L356.6,282.3 L357,282.3 L357.4,282.3 L357.8,282.3 L358.2,282.3 L358.7,282.3 L359.1,282.3 L359.5,282.3 L359.9,282.3 L360.3,282.3 L360.7,282.3 L361.1,282.3 L361.5,282.3 L361.9,282.3 L362.3,282.3 L362.7,282.3 L363.2,282.3 L363.6,282.3 L364,282.3 L364.4,282.3 L364.8,282.3 L365.2,282.3 L365.6,282.3 L366,282.3 L366.4,282.3 L366.8,282.3 L367.2,282.3 L367.7,282.3 L368.1,282.3 L368.5,282.3 L368.9,282.3 L369.3,282.3 L369.7,282.3 L370.1,282.3 L370.5,282.3 L370.9,282.3 L371.3,282.3 L371.8,282.3 L372.2,282.3 L372.6,282.3 L373,282.3 L373.4,282.3 L373.8,282.3 L374.2,282.3 L374.6,282.3 L375,282.3 L375.4,282.3 L375.8,282.3 L376.3,282.3 L376.7,282.3 L377.1,282.3 L377.5,282.3 L377.9,282.3 L378.3,282.3 L378.7,282.3 L379.1,282.3 L379.5,282.3 L379.9,282.3 L380.4,282.3 L380.8,282.3 L381.2,282.3 L381.6,282.3 L382,282.3 L382.4,282.3 L382.8,282.3 L383.2,282.3 L383.6,282.3 L384,282.3 L384.4,282.3 L384.9,282.3 L385.3,282.3 L385.7,282.3 L386.1,282.3 L386.5,282.3 L386.9,282.3 L387.3,282.3 L387.7,282.3 L388.1,282.3 L388.5,282.3 L389,282.3 L389.4,282.3 L389.8,282.3 L390.2,282.3 L390.6,282.3 L391,282.3 L391.4,282.3 L391.8,282.3 L392.2,282.3 L392.6,282.3 L393,282.3 L393.5,282.3 L393.9,282.3 L394.3,282.3 L394.7,282.3 L395.1,282.3 L395.5,282.3 L395.9,282.3 L396.3,282.3 L396.7,282.3 L397.1,282.3 L397.6,282.3 L398,282.3 L398.4,282.3 L398.8,282.3 L399.2,282.3 L399.6,282.3 L400,282.3 L400.4,282.3 L400.8,282.3 L401.2,282.3 L401.6,282.3 L402.1,282.3 L402.5,282.3 L402.9,282.3 L403.3,282.3 L403.7,282.3 L404.1,282.3 L404.5,282.3 L404.9,282.3 L405.3,282.3 L405.7,282.3 L406.2,282.3 L406.6,282.3 L407,282.3 L407.4,282.3 L407.8,282.3 L408.2,282.3 L408.6,282.3 L409,282.3 L409.4,282.3 L409.8,282.3 L410.2,282.3 L410.7,282.3 L411.1,282.3 L411.5,282.3 L411.9,282.3 L412.3,282.3 L412.7,282.3 L413.1,282.3 L413.5,282.3 L413.9,282.3 L414.3,282.3 L414.8,282.3 L415.2,282.3 L415.6,282.3 L416,282.3 L416.4,282.3 L416.8,282.3 L417.2,282.3 L417.6,282.3 L418,282.3 L418.4,282.3" stroke="#b040f0" stroke-width="0.8" />
<path d="M244.4,275.6 L244.8,275.6 L245.2,275.5 L245.6,275.5 L246,275.5 L246.4,275.5 L246.9,275.5 L247.3,275.5 L247.7,275.5 L248.1,275.5 L248.5,275.5 L248.9,275.4 L249.3,275.4 L249.7,275.4 L250.1,275.4 L250.5,275.4 L251,275.4 L251.4,275.4 L251.8,275.4 L252.2,275.3 L252.6,275.3 L253,275.3 L253.4,275.3 L253.8,275.3 L254.2,275.3 L254.6,275.3 L255,275.2 L255.5,275.2 L255.9,275.2 L256.3,275.2 L256.7,275.2 L257.1,275.2 L257.5,275.2 L257.9,275.1 L258.3,275.1 L258.7,275.1 L259.1,275.1 L259.6,275.1 L260,275.1 L260.4,275.1 L260.8,275 L261.2,275 L261.6,275 L262,275 L262.4,275 L262.8,275 L263.2,275 L263.6,274.9 L264.1,274.9 L264.5,274.9 L264.9,274.9 L265.3,274.9 L265.7,274.9 L266.1,274.8 L266.5,274.8 L266.9,274.8 L267.3,274.8 L267.7,274.8 L268.2,274.8 L268.6,274.7 L269,274.7 L269.4,274.7 L269.8,274.7 L270.2,274.7 L270.6,274.7 L271,274.6 L271.4,274.6 L271.8,274.6 L272.2,274.6 L272.7,274.6 L273.1,274.5 L273.5,274.5 L273.9,274.5 L274.3,274.5 L274.7,274.5 L275.1,274.4 L275.5,274.4 L275.9,274.4 L276.3,274.4 L276.8,274.4 L277.2,274.4 L277.6,274.3 L278,274.3 L278.4,274.3 L278.8,274.3 L279.2,274.2 L279.6,274.2 L280,274.2 L280.4,274.2 L280.8,274.2 L281.3,274.1 L281.7,274.1 L282.1,274.1 L282.5,274.1 L282.9,274 L283.3,274 L283.7,274 L284.1,274 L284.5,274 L284.9,273.9 L285.4,273.9 L285.8,273.9 L286.2,273.9 L286.6,273.8 L287,273.8 L287.4,273.8 L287.8,273.8 L288.2,273.7 L288.6,273.7 L289,273.7 L289.4,273.7 L289.9,273.6 L290.3,273.6 L290.7,273.6 L291.1,273.5 L291.5,273.5 L291.9,273.5 L292.3,273.5 L292.7,273.4 L293.1,273.4 L293.5,273.4 L293.9,273.3 L294.4,273.3 L294.8,273.3 L295.2,273.3 L295.6,273.2 L296,273.2 L296.4,273.2 L296.8,273.1 L297.2,273.1 L297.6,273.1 L298,273 L298.5,273 L298.9,273 L299.3,272.9 L299.7,272.9 L300.1,272.9 L300.5,272.8 L300.9,272.8 L301.3,272.7 L301.7,272.7 L302.1,272.7 L302.5,272.6 L303,272.6 L303.4,272.6 L303.8,272.5 L304.2,272.5 L304.6,272.4 L305,272.4 L305.4,272.3 L305.8,272.3 L306.2,272.3 L306.6,272.2 L307.1,272.2 L307.5,272.1 L307.9,272.1 L308.3,272 L308.7,272 L309.1,271.9 L309.5,271.9 L309.9,271.8 L310.3,271.8 L310.7,271.7 L311.1,271.7 L311.6,271.6 L312,271.6 L312.4,271.5 L312.8,271.5 L313.2,271.4 L313.6,271.4 L314,271.3 L314.4,271.2 L314.8,271.2 L315.2,271.1 L315.7,271 L316.1,271 L316.5,270.9 L316.9,270.8 L317.3,270.8 L317.7,270.7 L318.1,270.6 L318.5,270.6 L318.9,270.5 L319.3,270.4 L319.7,270.3 L320.2,270.3 L320.6,270.2 L321,270.1 L321.4,270 L321.8,269.9 L322.2,269.8 L322.6,269.7 L323,269.6 L323.4,269.5 L323.8,269.4 L324.3,269.3 L324.7,269.2 L325.1,269.1 L325.5,269 L325.9,268.9 L326.3,268.8 L326.7,268.7 L327.1,268.6 L327.5,268.4 L327.9,268.3 L328.3,268.2 L328.8,268 L329.2,267.9 L329.6,267.7 L330,267.6 L330.4,267.4 L330.8,267.2 L331.2,267.1 L331.6,266.9 L332,266.7 L332.4,266.5 L332.9,266.3 L333.3,266 L333.7,265.8 L334.1,265.6 L334.5,265.3 L334.9,265 L335.3,264.8 L335.7,264.4 L336.1,264.1 L336.5,263.8 L336.9,263.4 L337.4,262.9 L337.8,262.5 L338.2,262 L338.6,261.4 L339,260.8 L339.4,260.1 L339.8,259.3 L340.2,258.5 L340.6,257.7 L341,256.9 L341.5,256.2 L341.9,255.5 L342.3,255 L342.7,254.7 L343.1,254.5 L343.5,254.5 L343.9,254.7 L344.3,255.1 L344.7,255.6 L345.1,256.2 L345.5,257 L346,257.7 L346.4,258.6 L346.8,259.4 L347.2,260.3 L347.6,261.3 L348,262.3 L348.4,263.3 L348.8,264.4 L349.2,265.6 L349.6,266.8 L350.1,268.1 L350.5,269.5 L350.9,270.9 L351.3,272.3 L351.7,273.8 L352.1,275.2 L352.5,276.6 L352.9,277.8 L353.3,278.9 L353.7,279.8 L354.1,280.5 L354.6,281.1 L355,281.5 L355.4,281.8 L355.8,282 L356.2,282.1 L356.6,282.2 L357,282.3 L357.4,282.3 L357.8,282.3 L358.2,282.3 L358.7,282.3 L359.1,282.3 L359.5,282.3 L359.9,282.3 L360.3,282.3 L360.7,282.3 L361.1,282.3 L361.5,282.3 L361.9,282.3 L362.3,282.3 L362.7,282.3 L363.2,282.3 L363.6,282.3 L364,282.3 L364.4,282.3 L364.8,282.3 L365.2,282.3 L365.6,282.3 L366,282.3 L366.4,282.3 L366.8,282.3 L367.2,282.3 L367.7,282.3 L368.1,282.3 L368.5,282.3 L368.9,282.3 L369.3,282.3 L369.7,282.3 L370.1,282.3 L370.5,282.3 L370.9,282.3 L371.3,282.3 L371.8,282.3 L372.2,282.3 L372.6,282.3 L373,282.3 L373.4,282.3 L373.8,282.3 L374.2,282.3 L374.6,282.3 L375,282.3 L375.4,282.3 L375.8,282.3 L376.3,282.3 L376.7,282.3 L377.1,282.3 L377.5,282.3 L377.9,282.3 L378.3,282.3 L378.7,282.3 L379.1,282.3 L379.5,282.3 L379.9,282.3 L380.4,282.3 L380.8,282.3 L381.2,282.3 L381.6,282.3 L382,282.3 L382.4,282.3 L382.8,282.3 L383.2,282.3 L383.6,282.3 L384,282.3 L384.4,282.3 L384.9,282.3 L385.3,282.3 L385.7,282.3 L386.1,282.3 L386.5,282.3 L386.9,282.3 L387.3,282.3 L387.7,282.3 L388.1,282.3 L388.5,282.3 L389,282.3 L389.4,282.3 L389.8,282.3 L390.2,282.3 L390.6,282.3 L391,282.3 L391.4,282.3 L391.8,282.3 L392.2,282.3 L392.6,282.3 L393,282.3 L393.5,282.3 L393.9,282.3 L394.3,282.3 L394.7,282.3 L395.1,282.3 L395.5,282.3 L395.9,282.3 L396.3,282.3 L396.7,282.3 L397.1,282.3 L397.6,282.3 L398,282.3 L398.4,282.3 L398.8,282.3 L399.2,282.3 L399.6,282.3 L400,282.3 L400.4,282.3 L400.8,282.3 L401.2,282.3 L401.6,282.3 L402.1,282.3 L402.5,282.3 L402.9,282.3 L403.3,282.3 L403.7,282.3 L404.1,282.3 L404.5,282.3 L404.9,282.3 L405.3,282.3 L405.7,282.3 L406.2,282.3 L406.6,282.3 L407,282.3 L407.4,282.3 L407.8,282.3 L408.2,282.3 L408.6,282.3 L409,282.3 L409.4,282.3 L409.8,282.3 L410.2,282.3 L410.7,282.3 L411.1,282.3 L411.5,282.3 L411.9,282.3 L412.3,282.3 L412.7,282.3 L413.1,282.3 L413.5,282.3 L413.9,282.3 L414.3,282.3 L414.8,282.3 L415.2,282.3 L415.6,282.3 L416,282.3 L416.4,282.3 L416.8,282.3 L417.2,282.3 L417.6,282.3 L418,282.3 L418.4,282.3" stroke="#8050f0" stroke-width="0.8" />
<path d="M244.4,274.9 L244.8,274.9 L245.2,274.9 L245.6,274.9 L246,274.8 L246.4,274.8 L246.9,274.8 L247.3,274.8 L247.7,274.8 L248.1,274.8 L248.5,274.8 L248.9,274.8 L249.3,274.7 L249.7,274.7 L250.1,274.7 L250.5,274.7 L251,274.7 L251.4,274.7 L251.8,274.7 L252.2,274.7 L252.6,274.6 L253,274.6 L253.4,274.6 L253.8,274.6 L254.2,274.6 L254.6,274.6 L255,274.6 L255.5,274.6 L255.9,274.5 L256.3,274.5 L256.7,274.5 L257.1,274.5 L257.5,274.5 L257.9,274.5 L258.3,274.5 L258.7,274.5 L259.1,274.4 L259.6,274.4 L260,274.4 L260.4,274.4 L260.8,274.4 L261.2,274.4 L261.6,274.4 L262,274.3 L262.4,274.3 L262.8,274.3 L263.2,274.3 L263.6,274.3 L264.1,274.3 L264.5,274.3 L264.9,274.2 L265.3,274.2 L265.7,274.2 L266.1,274.2 L266.5,274.2 L266.9,274.2 L267.3,274.1 L267.7,274.1 L268.2,274.1 L268.6,274.1 L269,274.1 L269.4,274.1 L269.8,274.1 L270.2,274 L270.6,274 L271,274 L271.4,274 L271.8,274 L272.2,274 L272.7,273.9 L273.1,273.9 L273.5,273.9 L273.9,273.9 L274.3,273.9 L274.7,273.9 L275.1,273.8 L275.5,273.8 L275.9,273.8 L276.3,273.8 L276.8,273.8 L277.2,273.7 L277.6,273.7 L278,273.7 L278.4,273.7 L278.8,273.7 L279.2,273.7 L279.6,273.6 L280,273.6 L280.4,273.6 L280.8,273.6 L281.3,273.6 L281.7,273.5 L282.1,273.5 L282.5,273.5 L282.9,273.5 L283.3,273.5 L283.7,273.4 L284.1,273.4 L284.5,273.4 L284.9,273.4 L285.4,273.4 L285.8,273.3 L286.2,273.3 L286.6,273.3 L287,273.3 L287.4,273.2 L287.8,273.2 L288.2,273.2 L288.6,273.2 L289,273.2 L289.4,273.1 L289.9,273.1 L290.3,273.1 L290.7,273.1 L291.1,273 L291.5,273 L291.9,273 L292.3,273 L292.7,272.9 L293.1,272.9 L293.5,272.9 L293.9,272.9 L294.4,272.8 L294.8,272.8 L295.2,272.8 L295.6,272.8 L296,272.7 L296.4,272.7 L296.8,272.7 L297.2,272.7 L297.6,272.6 L298,272.6 L298.5,272.6 L298.9,272.6 L299.3,272.5 L299.7,272.5 L300.1,272.5 L300.5,272.4 L300.9,272.4 L301.3,272.4 L301.7,272.4 L302.1,272.3 L302.5,272.3 L303,272.3 L303.4,272.2 L303.8,272.2 L304.2,272.2 L304.6,272.1 L305,272.1 L305.4,272.1 L305.8,272 L306.2,272 L306.6,272 L307.1,271.9 L307.5,271.9 L307.9,271.9 L308.3,271.8 L308.7,271.8 L309.1,271.8 L309.5,271.7 L309.9,271.7 L310.3,271.7 L310.7,271.6 L311.1,271.6 L311.6,271.5 L312,271.5 L312.4,271.5 L312.8,271.4 L313.2,271.4 L313.6,271.3 L314,271.3 L314.4,271.3 L314.8,271.2 L315.2,271.2 L315.7,271.1 L316.1,271.1 L316.5,271 L316.9,271 L317.3,270.9 L317.7,270.9 L318.1,270.9 L318.5,270.8 L318.9,270.8 L319.3,270.7 L319.7,270.7 L320.2,270.6 L320.6,270.6 L321,270.5 L321.4,270.4 L321.8,270.4 L322.2,270.3 L322.6,270.3 L323,270.2 L323.4,270.2 L323.8,270.1 L324.3,270.1 L324.7,270 L325.1,269.9 L325.5,269.9 L325.9,269.8 L326.3,269.7 L326.7,269.7 L327.1,269.6 L327.5,269.5 L327.9,269.5 L328.3,269.4 L328.8,269.3 L329.2,269.3 L329.6,269.2 L330,269.1 L330.4,269 L330.8,269 L331.2,268.9 L331.6,268.8 L332,268.7 L332.4,268.6 L332.9,268.5 L333.3,268.4 L333.7,268.4 L334.1,268.3 L334.5,268.2 L334.9,268.1 L335.3,268 L335.7,267.9 L336.1,267.8 L336.5,267.7 L336.9,267.5 L337.4,267.4 L337.8,267.3 L338.2,267.2 L338.6,267.1 L339,267 L339.4,266.8 L339.8,266.7 L340.2,266.6 L340.6,266.4 L341,266.3 L341.5,266.1 L341.9,266 L342.3,265.8 L342.7,265.6 L343.1,265.5 L343.5,265.3 L343.9,265.1 L344.3,264.9 L344.7,264.7 L345.1,264.5 L345.5,264.3 L346,264.1 L346.4,263.8 L346.8,263.6 L347.2,263.3 L347.6,263.1 L348,262.8 L348.4,262.5 L348.8,262.1 L349.2,261.8 L349.6,261.4 L350.1,261 L350.5,260.6 L350.9,260.2 L351.3,259.7 L351.7,259.1 L352.1,258.5 L352.5,257.8 L352.9,257.1 L353.3,256.3 L353.7,255.4 L354.1,254.4 L354.6,253.5 L355,252.6 L355.4,251.7 L355.8,251 L356.2,250.4 L356.6,250.1 L357,249.9 L357.4,250 L357.8,250.3 L358.2,250.8 L358.7,251.4 L359.1,252.1 L359.5,253 L359.9,253.9 L360.3,254.9 L360.7,255.9 L361.1,257 L361.5,258.1 L361.9,259.2 L362.3,260.5 L362.7,261.7 L363.2,263.1 L363.6,264.6 L364,266.1 L364.4,267.7 L364.8,269.3 L365.2,271 L365.6,272.7 L366,274.4 L366.4,275.9 L366.8,277.3 L367.2,278.6 L367.7,279.6 L368.1,280.4 L368.5,281 L368.9,281.5 L369.3,281.8 L369.7,282 L370.1,282.1 L370.5,282.2 L370.9,282.3 L371.3,282.3 L371.8,282.3 L372.2,282.3 L372.6,282.3 L373,282.3 L373.4,282.3 L373.8,282.3 L374.2,282.3 L374.6,282.3 L375,282.3 L375.4,282.3 L375.8,282.3 L376.3,282.3 L376.7,282.3 L377.1,282.3 L377.5,282.3 L377.9,282.3 L378.3,282.3 L378.7,282.3 L379.1,282.3 L379.5,282.3 L379.9,282.3 L380.4,282.3 L380.8,282.3 L381.2,282.3 L381.6,282.3 L382,282.3 L382.4,282.3 L382.8,282.3 L383.2,282.3 L383.6,282.3 L384,282.3 L384.4,282.3 L384.9,282.3 L385.3,282.3 L385.7,282.3 L386.1,282.3 L386.5,282.3 L386.9,282.3 L387.3,282.3 L387.7,282.3 L388.1,282.3 L388.5,282.3 L389,282.3 L389.4,282.3 L389.8,282.3 L390.2,282.3 L390.6,282.3 L391,282.3 L391.4,282.3 L391.8,282.3 L392.2,282.3 L392.6,282.3 L393,282.3 L393.5,282.3 L393.9,282.3 L394.3,282.3 L394.7,282.3 L395.1,282.3 L395.5,282.3 L395.9,282.3 L396.3,282.3 L396.7,282.3 L397.1,282.3 L397.6,282.3 L398,282.3 L398.4,282.3 L398.8,282.3 L399.2,282.3 L399.6,282.3 L400,282.3 L400.4,282.3 L400.8,282.3 L401.2,282.3 L401.6,282.3 L402.1,282.3 L402.5,282.3 L402.9,282.3 L403.3,282.3 L403.7,282.3 L404.1,282.3 L404.5,282.3 L404.9,282.3 L405.3,282.3 L405.7,282.3 L406.2,282.3 L406.6,282.3 L407,282.3 L407.4,282.3 L407.8,282.3 L408.2,282.3 L408.6,282.3 L409,282.3 L409.4,282.3 L409.8,282.3 L410.2,282.3 L410.7,282.3 L411.1,282.3 L411.5,282.3 L411.9,282.3 L412.3,282.3 L412.7,282.3 L413.1,282.3 L413.5,282.3 L413.9,282.3 L414.3,282.3 L414.8,282.3 L415.2,282.3 L415.6,282.3 L416,282.3 L416.4,282.3 L416.8,282.3 L417.2,282.3 L417.6,282.3 L418,282.3 L418.4,282.3" stroke="#4080f0" stroke-width="0.8" />
<path d="M244.4,273.6 L244.8,273.6 L245.2,273.6 L245.6,273.6 L246,273.6 L246.4,273.5 L246.9,273.5 L247.3,273.5 L247.7,273.5 L248.1,273.5 L248.5,273.5 L248.9,273.5 L249.3,273.5 L249.7,273.4 L250.1,273.4 L250.5,273.4 L251,273.4 L251.4,273.4 L251.8,273.4 L252.2,273.4 L252.6,273.4 L253,273.3 L253.4,273.3 L253.8,273.3 L254.2,273.3 L254.6,273.3 L255,273.3 L255.5,273.3 L255.9,273.3 L256.3,273.2 L256.7,273.2 L257.1,273.2 L257.5,273.2 L257.9,273.2 L258.3,273.2 L258.7,273.2 L259.1,273.1 L259.6,273.1 L260,273.1 L260.4,273.1 L260.8,273.1 L261.2,273.1 L261.6,273.1 L262,273 L262.4,273 L262.8,273 L263.2,273 L263.6,273 L264.1,273 L264.5,273 L264.9,272.9 L265.3,272.9 L265.7,272.9 L266.1,272.9 L266.5,272.9 L266.9,272.9 L267.3,272.8 L267.7,272.8 L268.2,272.8 L268.6,272.8 L269,272.8 L269.4,272.8 L269.8,272.8 L270.2,272.7 L270.6,272.7 L271,272.7 L271.4,272.7 L271.8,272.7 L272.2,272.7 L272.7,272.6 L273.1,272.6 L273.5,272.6 L273.9,272.6 L274.3,272.6 L274.7,272.6 L275.1,272.5 L275.5,272.5 L275.9,272.5 L276.3,272.5 L276.8,272.5 L277.2,272.4 L277.6,272.4 L278,272.4 L278.4,272.4 L278.8,272.4 L279.2,272.4 L279.6,272.3 L280,272.3 L280.4,272.3 L280.8,272.3 L281.3,272.3 L281.7,272.2 L282.1,272.2 L282.5,272.2 L282.9,272.2 L283.3,272.2 L283.7,272.1 L284.1,272.1 L284.5,272.1 L284.9,272.1 L285.4,272.1 L285.8,272 L286.2,272 L286.6,272 L287,272 L287.4,272 L287.8,271.9 L288.2,271.9 L288.6,271.9 L289,271.9 L289.4,271.9 L289.9,271.8 L290.3,271.8 L290.7,271.8 L291.1,271.8 L291.5,271.7 L291.9,271.7 L292.3,271.7 L292.7,271.7 L293.1,271.7 L293.5,271.6 L293.9,271.6 L294.4,271.6 L294.8,271.6 L295.2,271.5 L295.6,271.5 L296,271.5 L296.4,271.5 L296.8,271.4 L297.2,271.4 L297.6,271.4 L298,271.4 L298.5,271.3 L298.9,271.3 L299.3,271.3 L299.7,271.3 L300.1,271.2 L300.5,271.2 L300.9,271.2 L301.3,271.2 L301.7,271.1 L302.1,271.1 L302.5,271.1 L303,271 L303.4,271 L303.8,271 L304.2,271 L304.6,270.9 L305,270.9 L305.4,270.9 L305.8,270.8 L306.2,270.8 L306.6,270.8 L307.1,270.8 L307.5,270.7 L307.9,270.7 L308.3,270.7 L308.7,270.6 L309.1,270.6 L309.5,270.6 L309.9,270.5 L310.3,270.5 L310.7,270.5 L311.1,270.4 L311.6,270.4 L312,270.4 L312.4,270.3 L312.8,270.3 L313.2,270.3 L313.6,270.2 L314,270.2 L314.4,270.2 L314.8,270.1 L315.2,270.1 L315.7,270 L316.1,270 L316.5,270 L316.9,269.9 L317.3,269.9 L317.7,269.9 L318.1,269.8 L318.5,269.8 L318.9,269.7 L319.3,269.7 L319.7,269.7 L320.2,269.6 L320.6,269.6 L321,269.5 L321.4,269.5 L321.8,269.5 L322.2,269.4 L322.6,269.4 L323,269.3 L323.4,269.3 L323.8,269.2 L324.3,269.2 L324.7,269.1 L325.1,269.1 L325.5,269 L325.9,269 L326.3,268.9 L326.7,268.9 L327.1,268.8 L327.5,268.8 L327.9,268.7 L328.3,268.7 L328.8,268.6 L329.2,268.6 L329.6,268.5 L330,268.5 L330.4,268.4 L330.8,268.4 L331.2,268.3 L331.6,268.3 L332,268.2 L332.4,268.1 L332.9,268.1 L333.3,268 L333.7,268 L334.1,267.9 L334.5,267.8 L334.9,267.8 L335.3,267.7 L335.7,267.6 L336.1,267.6 L336.5,267.5 L336.9,267.4 L337.4,267.4 L337.8,267.3 L338.2,267.2 L338.6,267.1 L339,267.1 L339.4,267 L339.8,266.9 L340.2,266.8 L340.6,266.7 L341,266.7 L341.5,266.6 L341.9,266.5 L342.3,266.4 L342.7,266.3 L343.1,266.2 L343.5,266.1 L343.9,266 L344.3,265.9 L344.7,265.9 L345.1,265.8 L345.5,265.7 L346,265.5 L346.4,265.4 L346.8,265.3 L347.2,265.2 L347.6,265.1 L348,265 L348.4,264.9 L348.8,264.8 L349.2,264.6 L349.6,264.5 L350.1,264.4 L350.5,264.2 L350.9,264.1 L351.3,264 L351.7,263.8 L352.1,263.7 L352.5,263.5 L352.9,263.4 L353.3,263.2 L353.7,263.1 L354.1,262.9 L354.6,262.7 L355,262.5 L355.4,262.3 L355.8,262.2 L356.2,262 L356.6,261.8 L357,261.5 L357.4,261.3 L357.8,261.1 L358.2,260.9 L358.7,260.6 L359.1,260.4 L359.5,260.1 L359.9,259.8 L360.3,259.5 L360.7,259.2 L361.1,258.9 L361.5,258.5 L361.9,258.2 L362.3,257.8 L362.7,257.4 L363.2,257 L363.6,256.5 L364,256 L364.4,255.5 L364.8,254.9 L365.2,254.3 L365.6,253.6 L366,252.8 L366.4,252 L366.8,251 L367.2,250 L367.7,248.9 L368.1,247.8 L368.5,246.6 L368.9,245.5 L369.3,244.5 L369.7,243.6 L370.1,243 L370.5,242.6 L370.9,242.5 L371.3,242.6 L371.8,243 L372.2,243.6 L372.6,244.4 L373,245.4 L373.4,246.4 L373.8,247.6 L374.2,248.8 L374.6,250 L375,251.4 L375.4,252.7 L375.8,254.2 L376.3,255.7 L376.7,257.3 L377.1,259 L377.5,260.8 L377.9,262.7 L378.3,264.7 L378.7,266.8 L379.1,268.9 L379.5,270.9 L379.9,272.9 L380.4,274.8 L380.8,276.5 L381.2,278 L381.6,279.2 L382,280.1 L382.4,280.9 L382.8,281.4 L383.2,281.7 L383.6,282 L384,282.1 L384.4,282.2 L384.9,282.3 L385.3,282.3 L385.7,282.3 L386.1,282.3 L386.5,282.3 L386.9,282.3 L387.3,282.3 L387.7,282.3 L388.1,282.3 L388.5,282.3 L389,282.3 L389.4,282.3 L389.8,282.3 L390.2,282.3 L390.6,282.3 L391,282.3 L391.4,282.3 L391.8,282.3 L392.2,282.3 L392.6,282.3 L393,282.3 L393.5,282.3 L393.9,282.3 L394.3,282.3 L394.7,282.3 L395.1,282.3 L395.5,282.3 L395.9,282.3 L396.3,282.3 L396.7,282.3 L397.1,282.3 L397.6,282.3 L398,282.3 L398.4,282.3 L398.8,282.3 L399.2,282.3 L399.6,282.3 L400,282.3 L400.4,282.3 L400.8,282.3 L401.2,282.3 L401.6,282.3 L402.1,282.3 L402.5,282.3 L402.9,282.3 L403.3,282.3 L403.7,282.3 L404.1,282.3 L404.5,282.3 L404.9,282.3 L405.3,282.3 L405.7,282.3 L406.2,282.3 L406.6,282.3 L407,282.3 L407.4,282.3 L407.8,282.3 L408.2,282.3 L408.6,282.3 L409,282.3 L409.4,282.3 L409.8,282.3 L410.2,282.3 L410.7,282.3 L411.1,282.3 L411.5,282.3 L411.9,282.3 L412.3,282.3 L412.7,282.3 L413.1,282.3 L413.5,282.3 L413.9,282.3 L414.3,282.3 L414.8,282.3 L415.2,282.3 L415.6,282.3 L416,282.3 L416.4,282.3 L416.8,282.3 L417.2,282.3 L417.6,282.3 L418,282.3 L418.4,282.3" stroke="#40e0d0" stroke-width="0.8" />
<path d="M244.4,270.8 L244.8,270.8 L245.2,270.8 L245.6,270.7 L246,270.7 L246.4,270.7 L246.9,270.7 L247.3,270.7 L247.7,270.7 L248.1,270.7 L248.5,270.6 L248.9,270.6 L249.3,270.6 L249.7,270.6 L250.1,270.6 L250.5,270.6 L251,270.5 L251.4,270.5 L251.8,270.5 L252.2,270.5 L252.6,270.5 L253,270.5 L253.4,270.5 L253.8,270.4 L254.2,270.4 L254.6,270.4 L255,270.4 L255.5,270.4 L255.9,270.4 L256.3,270.3 L256.7,270.3 L257.1,270.3 L257.5,270.3 L257.9,270.3 L258.3,270.3 L258.7,270.2 L259.1,270.2 L259.6,270.2 L260,270.2 L260.4,270.2 L260.8,270.2 L261.2,270.1 L261.6,270.1 L262,270.1 L262.4,270.1 L262.8,270.1 L263.2,270.1 L263.6,270 L264.1,270 L264.5,270 L264.9,270 L265.3,270 L265.7,270 L266.1,269.9 L266.5,269.9 L266.9,269.9 L267.3,269.9 L267.7,269.9 L268.2,269.8 L268.6,269.8 L269,269.8 L269.4,269.8 L269.8,269.8 L270.2,269.8 L270.6,269.7 L271,269.7 L271.4,269.7 L271.8,269.7 L272.2,269.7 L272.7,269.6 L273.1,269.6 L273.5,269.6 L273.9,269.6 L274.3,269.6 L274.7,269.5 L275.1,269.5 L275.5,269.5 L275.9,269.5 L276.3,269.5 L276.8,269.4 L277.2,269.4 L277.6,269.4 L278,269.4 L278.4,269.4 L278.8,269.3 L279.2,269.3 L279.6,269.3 L280,269.3 L280.4,269.3 L280.8,269.2 L281.3,269.2 L281.7,269.2 L282.1,269.2 L282.5,269.1 L282.9,269.1 L283.3,269.1 L283.7,269.1 L284.1,269.1 L284.5,269 L284.9,269 L285.4,269 L285.8,269 L286.2,268.9 L286.6,268.9 L287,268.9 L287.4,268.9 L287.8,268.8 L288.2,268.8 L288.6,268.8 L289,268.8 L289.4,268.8 L289.9,268.7 L290.3,268.7 L290.7,268.7 L291.1,268.7 L291.5,268.6 L291.9,268.6 L292.3,268.6 L292.7,268.6 L293.1,268.5 L293.5,268.5 L293.9,268.5 L294.4,268.4 L294.8,268.4 L295.2,268.4 L295.6,268.4 L296,268.3 L296.4,268.3 L296.8,268.3 L297.2,268.3 L297.6,268.2 L298,268.2 L298.5,268.2 L298.9,268.2 L299.3,268.1 L299.7,268.1 L300.1,268.1 L300.5,268 L300.9,268 L301.3,268 L301.7,268 L302.1,267.9 L302.5,267.9 L303,267.9 L303.4,267.8 L303.8,267.8 L304.2,267.8 L304.6,267.7 L305,267.7 L305.4,267.7 L305.8,267.6 L306.2,267.6 L306.6,267.6 L307.1,267.6 L307.5,267.5 L307.9,267.5 L308.3,267.5 L308.7,267.4 L309.1,267.4 L309.5,267.4 L309.9,267.3 L310.3,267.3 L310.7,267.3 L311.1,267.2 L311.6,267.2 L312,267.1 L312.4,267.1 L312.8,267.1 L313.2,267 L313.6,267 L314,267 L314.4,266.9 L314.8,266.9 L315.2,266.9 L315.7,266.8 L316.1,266.8 L316.5,266.7 L316.9,266.7 L317.3,266.7 L317.7,266.6 L318.1,266.6 L318.5,266.5 L318.9,266.5 L319.3,266.5 L319.7,266.4 L320.2,266.4 L320.6,266.3 L321,266.3 L321.4,266.3 L321.8,266.2 L322.2,266.2 L322.6,266.1 L323,266.1 L323.4,266 L323.8,266 L324.3,266 L324.7,265.9 L325.1,265.9 L325.5,265.8 L325.9,265.8 L326.3,265.7 L326.7,265.7 L327.1,265.6 L327.5,265.6 L327.9,265.5 L328.3,265.5 L328.8,265.4 L329.2,265.4 L329.6,265.3 L330,265.3 L330.4,265.2 L330.8,265.2 L331.2,265.1 L331.6,265.1 L332,265 L332.4,265 L332.9,264.9 L333.3,264.8 L333.7,264.8 L334.1,264.7 L334.5,264.7 L334.9,264.6 L335.3,264.6 L335.7,264.5 L336.1,264.4 L336.5,264.4 L336.9,264.3 L337.4,264.3 L337.8,264.2 L338.2,264.1 L338.6,264.1 L339,264 L339.4,263.9 L339.8,263.9 L340.2,263.8 L340.6,263.7 L341,263.7 L341.5,263.6 L341.9,263.5 L342.3,263.4 L342.7,263.4 L343.1,263.3 L343.5,263.2 L343.9,263.2 L344.3,263.1 L344.7,263 L345.1,262.9 L345.5,262.8 L346,262.8 L346.4,262.7 L346.8,262.6 L347.2,262.5 L347.6,262.4 L348,262.3 L348.4,262.2 L348.8,262.2 L349.2,262.1 L349.6,262 L350.1,261.9 L350.5,261.8 L350.9,261.7 L351.3,261.6 L351.7,261.5 L352.1,261.4 L352.5,261.3 L352.9,261.2 L353.3,261.1 L353.7,261 L354.1,260.9 L354.6,260.7 L355,260.6 L355.4,260.5 L355.8,260.4 L356.2,260.3 L356.6,260.2 L357,260 L357.4,259.9 L357.8,259.8 L358.2,259.6 L358.7,259.5 L359.1,259.4 L359.5,259.2 L359.9,259.1 L360.3,258.9 L360.7,258.8 L361.1,258.6 L361.5,258.5 L361.9,258.3 L362.3,258.2 L362.7,258 L363.2,257.8 L363.6,257.6 L364,257.5 L364.4,257.3 L364.8,257.1 L365.2,256.9 L365.6,256.7 L366,256.5 L366.4,256.3 L366.8,256.1 L367.2,255.8 L367.7,255.6 L368.1,255.4 L368.5,255.1 L368.9,254.9 L369.3,254.6 L369.7,254.4 L370.1,254.1 L370.5,253.8 L370.9,253.5 L371.3,253.2 L371.8,252.9 L372.2,252.5 L372.6,252.2 L373,251.8 L373.4,251.5 L373.8,251.1 L374.2,250.7 L374.6,250.2 L375,249.8 L375.4,249.3 L375.8,248.8 L376.3,248.3 L376.7,247.7 L377.1,247.1 L377.5,246.5 L377.9,245.8 L378.3,245.1 L378.7,244.2 L379.1,243.4 L379.5,242.4 L379.9,241.3 L380.4,240.1 L380.8,238.8 L381.2,237.3 L381.6,235.8 L382,234.2 L382.4,232.6 L382.8,231 L383.2,229.7 L383.6,228.5 L384,227.7 L384.4,227.2 L384.9,227.2 L385.3,227.4 L385.7,228.1 L386.1,229 L386.5,230.1 L386.9,231.5 L387.3,232.9 L387.7,234.5 L388.1,236.2 L388.5,238 L389,239.8 L389.4,241.8 L389.8,243.8 L390.2,245.9 L390.6,248.2 L391,250.6 L391.4,253.1 L391.8,255.7 L392.2,258.5 L392.6,261.4 L393,264.3 L393.5,267.1 L393.9,269.9 L394.3,272.4 L394.7,274.7 L395.1,276.7 L395.5,278.3 L395.9,279.5 L396.3,280.5 L396.7,281.2 L397.1,281.6 L397.6,281.9 L398,282.1 L398.4,282.2 L398.8,282.2 L399.2,282.3 L399.6,282.3 L400,282.3 L400.4,282.3 L400.8,282.3 L401.2,282.3 L401.6,282.3 L402.1,282.3 L402.5,282.3 L402.9,282.3 L403.3,282.3 L403.7,282.3 L404.1,282.3 L404.5,282.3 L404.9,282.3 L405.3,282.3 L405.7,282.3 L406.2,282.3 L406.6,282.3 L407,282.3 L407.4,282.3 L407.8,282.3 L408.2,282.3 L408.6,282.3 L409,282.3 L409.4,282.3 L409.8,282.3 L410.2,282.3 L410.7,282.3 L411.1,282.3 L411.5,282.3 L411.9,282.3 L412.3,282.3 L412.7,282.3 L413.1,282.3 L413.5,282.3 L413.9,282.3 L414.3,282.3 L414.8,282.3 L415.2,282.3 L415.6,282.3 L416,282.3 L416.4,282.3 L416.8,282.3 L417.2,282.3 L417.6,282.3 L418,282.3 L418.4,282.3" stroke="#60b050" stroke-width="0.8" />
<path d="M244.4,256.5 L244.8,256.5 L245.2,256.4 L245.6,256.4 L246,256.4 L246.4,256.4 L246.9,256.3 L247.3,256.3 L247.7,256.3 L248.1,256.2 L248.5,256.2 L248.9,256.2 L249.3,256.1 L249.7,256.1 L250.1,256.1 L250.5,256.1 L251,256 L251.4,256 L251.8,256 L252.2,255.9 L252.6,255.9 L253,255.9 L253.4,255.8 L253.8,255.8 L254.2,255.8 L254.6,255.7 L255,255.7 L255.5,255.7 L255.9,255.6 L256.3,255.6 L256.7,255.6 L257.1,255.5 L257.5,255.5 L257.9,255.5 L258.3,255.4 L258.7,255.4 L259.1,255.4 L259.6,255.3 L260,255.3 L260.4,255.3 L260.8,255.2 L261.2,255.2 L261.6,255.2 L262,255.1 L262.4,255.1 L262.8,255.1 L263.2,255 L263.6,255 L264.1,255 L264.5,254.9 L264.9,254.9 L265.3,254.9 L265.7,254.8 L266.1,254.8 L266.5,254.8 L266.9,254.7 L267.3,254.7 L267.7,254.6 L268.2,254.6 L268.6,254.6 L269,254.5 L269.4,254.5 L269.8,254.5 L270.2,254.4 L270.6,254.4 L271,254.3 L271.4,254.3 L271.8,254.3 L272.2,254.2 L272.7,254.2 L273.1,254.2 L273.5,254.1 L273.9,254.1 L274.3,254 L274.7,254 L275.1,254 L275.5,253.9 L275.9,253.9 L276.3,253.8 L276.8,253.8 L277.2,253.8 L277.6,253.7 L278,253.7 L278.4,253.6 L278.8,253.6 L279.2,253.6 L279.6,253.5 L280,253.5 L280.4,253.4 L280.8,253.4 L281.3,253.3 L281.7,253.3 L282.1,253.3 L282.5,253.2 L282.9,253.2 L283.3,253.1 L283.7,253.1 L284.1,253 L284.5,253 L284.9,253 L285.4,252.9 L285.8,252.9 L286.2,252.8 L286.6,252.8 L287,252.7 L287.4,252.7 L287.8,252.6 L288.2,252.6 L288.6,252.5 L289,252.5 L289.4,252.5 L289.9,252.4 L290.3,252.4 L290.7,252.3 L291.1,252.3 L291.5,252.2 L291.9,252.2 L292.3,252.1 L292.7,252.1 L293.1,252 L293.5,252 L293.9,251.9 L294.4,251.9 L294.8,251.8 L295.2,251.8 L295.6,251.7 L296,251.7 L296.4,251.6 L296.8,251.6 L297.2,251.5 L297.6,251.5 L298,251.4 L298.5,251.4 L298.9,251.3 L299.3,251.3 L299.7,251.2 L300.1,251.1 L300.5,251.1 L300.9,251 L301.3,251 L301.7,250.9 L302.1,250.9 L302.5,250.8 L303,250.8 L303.4,250.7 L303.8,250.6 L304.2,250.6 L304.6,250.5 L305,250.5 L305.4,250.4 L305.8,250.4 L306.2,250.3 L306.6,250.2 L307.1,250.2 L307.5,250.1 L307.9,250.1 L308.3,250 L308.7,249.9 L309.1,249.9 L309.5,249.8 L309.9,249.7 L310.3,249.7 L310.7,249.6 L311.1,249.6 L311.6,249.5 L312,249.4 L312.4,249.4 L312.8,249.3 L313.2,249.2 L313.6,249.2 L314,249.1 L314.4,249 L314.8,249 L315.2,248.9 L315.7,248.8 L316.1,248.8 L316.5,248.7 L316.9,248.6 L317.3,248.6 L317.7,248.5 L318.1,248.4 L318.5,248.3 L318.9,248.3 L319.3,248.2 L319.7,248.1 L320.2,248 L320.6,248 L321,247.9 L321.4,247.8 L321.8,247.7 L322.2,247.7 L322.6,247.6 L323,247.5 L323.4,247.4 L323.8,247.4 L324.3,247.3 L324.7,247.2 L325.1,247.1 L325.5,247 L325.9,247 L326.3,246.9 L326.7,246.8 L327.1,246.7 L327.5,246.6 L327.9,246.5 L328.3,246.5 L328.8,246.4 L329.2,246.3 L329.6,246.2 L330,246.1 L330.4,246 L330.8,245.9 L331.2,245.8 L331.6,245.7 L332,245.7 L332.4,245.6 L332.9,245.5 L333.3,245.4 L333.7,245.3 L334.1,245.2 L334.5,245.1 L334.9,245 L335.3,244.9 L335.7,244.8 L336.1,244.7 L336.5,244.6 L336.9,244.5 L337.4,244.4 L337.8,244.3 L338.2,244.2 L338.6,244.1 L339,244 L339.4,243.9 L339.8,243.7 L340.2,243.6 L340.6,243.5 L341,243.4 L341.5,243.3 L341.9,243.2 L342.3,243.1 L342.7,243 L343.1,242.8 L343.5,242.7 L343.9,242.6 L344.3,242.5 L344.7,242.4 L345.1,242.2 L345.5,242.1 L346,242 L346.4,241.8 L346.8,241.7 L347.2,241.6 L347.6,241.5 L348,241.3 L348.4,241.2 L348.8,241.1 L349.2,240.9 L349.6,240.8 L350.1,240.6 L350.5,240.5 L350.9,240.4 L351.3,240.2 L351.7,240.1 L352.1,239.9 L352.5,239.8 L352.9,239.6 L353.3,239.5 L353.7,239.3 L354.1,239.1 L354.6,239 L355,238.8 L355.4,238.7 L355.8,238.5 L356.2,238.3 L356.6,238.1 L357,238 L357.4,237.8 L357.8,237.6 L358.2,237.4 L358.7,237.3 L359.1,237.1 L359.5,236.9 L359.9,236.7 L360.3,236.5 L360.7,236.3 L361.1,236.1 L361.5,235.9 L361.9,235.7 L362.3,235.5 L362.7,235.3 L363.2,235.1 L363.6,234.9 L364,234.6 L364.4,234.4 L364.8,234.2 L365.2,234 L365.6,233.7 L366,233.5 L366.4,233.3 L366.8,233 L367.2,232.8 L367.7,232.5 L368.1,232.3 L368.5,232 L368.9,231.7 L369.3,231.5 L369.7,231.2 L370.1,230.9 L370.5,230.6 L370.9,230.3 L371.3,230 L371.8,229.7 L372.2,229.4 L372.6,229.1 L373,228.8 L373.4,228.4 L373.8,228.1 L374.2,227.8 L374.6,227.4 L375,227 L375.4,226.7 L375.8,226.3 L376.3,225.9 L376.7,225.5 L377.1,225.1 L377.5,224.7 L377.9,224.3 L378.3,223.9 L378.7,223.4 L379.1,223 L379.5,222.5 L379.9,222 L380.4,221.5 L380.8,221 L381.2,220.5 L381.6,220 L382,219.5 L382.4,219 L382.8,218.4 L383.2,217.9 L383.6,217.3 L384,216.7 L384.4,216.1 L384.9,215.5 L385.3,214.8 L385.7,214.2 L386.1,213.5 L386.5,212.8 L386.9,212.1 L387.3,211.3 L387.7,210.5 L388.1,209.7 L388.5,208.8 L389,207.9 L389.4,207 L389.8,206 L390.2,205 L390.6,203.9 L391,202.7 L391.4,201.4 L391.8,200 L392.2,198.6 L392.6,196.9 L393,195.2 L393.5,193.2 L393.9,191 L394.3,188.6 L394.7,185.9 L395.1,183 L395.5,179.9 L395.9,176.8 L396.3,173.7 L396.7,170.9 L397.1,168.4 L397.6,166.5 L398,165.4 L398.4,165 L398.8,165.5 L399.2,166.3" stroke="#000" stroke-width="0.85" />
<path d="M244.4,188.6 L244.8,188.5 L245.2,188.3 L245.6,188.1 L246,188 L246.4,187.8 L246.9,187.6 L247.3,187.5 L247.7,187.3 L248.1,187.1 L248.5,186.9 L248.9,186.8 L249.3,186.6 L249.7,186.4 L250.1,186.2 L250.5,186 L251,185.8 L251.4,185.6 L251.8,185.4 L252.2,185.2 L252.6,185 L253,184.8 L253.4,184.6 L253.8,184.4 L254.2,184.2 L254.6,184 L255,183.8 L255.5,183.6 L255.9,183.3 L256.3,183.1 L256.7,182.9 L257.1,182.6 L257.5,182.4 L257.9,182.2 L258.3,181.9 L258.7,181.7 L259.1,181.4 L259.6,181.1 L260,180.9 L260.4,180.6 L260.8,180.3 L261.2,180 L261.6,179.8 L262,179.5 L262.4,179.2 L262.8,178.8 L263.2,178.5 L263.6,178.2 L264.1,177.9 L264.5,177.5 L264.9,177.2 L265.3,176.8 L265.7,176.4 L266.1,176.1 L266.5,175.7 L266.9,175.2 L267.3,174.8 L267.7,174.3 L268.2,173.9 L268.6,173.3 L269,172.8 L269.4,172.2 L269.8,171.6 L270.2,170.9 L270.6,170.2 L271,169.5 L271.4,168.7 L271.8,168 L272.2,167.3 L272.7,166.6 L273.1,166 L273.5,165.5 L273.9,164.8 L274.3,166.4 L274.7,165.4 L275.1,165.7 L275.5,165.7 L275.9,165.6 L276.3,166.2 L276.8,165.6 L277.2,165.8 L277.6,164.3 L278,165.4 L278.4,165.6 L278.8,165.6 L279.2,165.7 L279.6,165.9 L280,165.6 L280.4,165.3 L280.8,165.6 L281.3,165.2 L281.7,165.6 L282.1,165.5 L282.5,165 L282.9,165.3 L283.3,165.7 L283.7,165.6 L284.1,165.3 L284.5,164.8 L284.9,165.6 L285.4,165.6 L285.8,165.2 L286.2,165.8 L286.6,165.6 L287,165.2 L287.4,165.3 L287.8,165.5 L288.2,165.3 L288.6,166.5 L289,165.1 L289.4,165.8 L289.9,166.1 L290.3,165.4 L290.7,165.3 L291.1,165.7 L291.5,165.9 L291.9,165.5 L292.3,165.5 L292.7,165 L293.1,165.2 L293.5,165.4 L293.9,165.1 L294.4,165.6 L294.8,165.8 L295.2,165.3 L295.6,165.3 L296,165.6 L296.4,165.8 L296.8,165.4 L297.2,166.4 L297.6,165.3 L298,165.3 L298.5,166.1 L298.9,165.5 L299.3,165.8 L299.7,165.2 L300.1,166.2 L300.5,165.8 L300.9,165.3 L301.3,165.1 L301.7,166.3 L302.1,165.7 L302.5,165.4 L303,165.7 L303.4,164.9 L303.8,165.9 L304.2,165.4 L304.6,165.9 L305,165 L305.4,165.5 L305.8,165.6 L306.2,166.1 L306.6,164.9 L307.1,165.2 L307.5,165.2 L307.9,165.1 L308.3,165.4 L308.7,165.7 L309.1,165.8 L309.5,165.8 L309.9,165 L310.3,166 L310.7,165.7 L311.1,165.6 L311.6,165.4 L312,165.3 L312.4,165.9 L312.8,166.1 L313.2,165.5 L313.6,165.1 L314,165.2 L314.4,165.4 L314.8,165.6 L315.2,165.4 L315.7,165.6 L316.1,165.2 L316.5,165.8 L316.9,165.5 L317.3,165.5 L317.7,165.3 L318.1,165.4 L318.5,164.6 L318.9,165 L319.3,165 L319.7,166.2 L320.2,165.6 L320.6,165.7 L321,165.3 L321.4,166.3 L321.8,165.1 L322.2,165.1 L322.6,166 L323,165.8 L323.4,165.8 L323.8,165.5 L324.3,165.3 L324.7,164.8 L325.1,165.6 L325.5,165.2 L325.9,165.5 L326.3,164.9 L326.7,165.2 L327.1,165 L327.5,165.9 L327.9,165.6 L328.3,165.8 L328.8,165 L329.2,165.3 L329.6,165.6 L330,165.7 L330.4,165.3 L330.8,165.8 L331.2,165.8 L331.6,165.3 L332,164.6 L332.4,165.6 L332.9,165.7 L333.3,165.9 L333.7,166 L334.1,165.3 L334.5,165.2 L334.9,165.5 L335.3,165.4 L335.7,165.5 L336.1,165.5 L336.5,166 L336.9,165.7 L337.4,165.5 L337.8,165.8 L338.2,165.7 L338.6,165.8 L339,165.6 L339.4,165.2 L339.8,165.6 L340.2,165.6 L340.6,165.2 L341,165.3 L341.5,164.9 L341.9,166.2 L342.3,165.2 L342.7,165.7 L343.1,165.5 L343.5,165.2 L343.9,165.1 L344.3,165.1 L344.7,165.5 L345.1,164.9 L345.5,165.6 L346,165.6 L346.4,165.2 L346.8,165.7 L347.2,164.7 L347.6,165.1 L348,164.7 L348.4,165.5 L348.8,165.6 L349.2,165.4 L349.6,165.2 L350.1,165.7 L350.5,165.4 L350.9,165.5 L351.3,164.9 L351.7,165.7 L352.1,165.1 L352.5,165.7 L352.9,165.8 L353.3,165.8 L353.7,165.9 L354.1,165.5 L354.6,165.1 L355,165.4 L355.4,165.3 L355.8,164.9 L356.2,165.4 L356.6,165.4 L357,165.6 L357.4,166.1 L357.8,165.2 L358.2,166.1 L358.7,165.3 L359.1,165.5 L359.5,165.1 L359.9,165.5 L360.3,165.8 L360.7,165.4 L361.1,165.7 L361.5,165.6 L361.9,165.5 L362.3,165.6 L362.7,165.6 L363.2,165.8 L363.6,165.6 L364,166.3 L364.4,165.6 L364.8,165.9 L365.2,165.1 L365.6,165.1 L366,166.2 L366.4,165.5 L366.8,165.5 L367.2,165.9 L367.7,165.3 L368.1,165.7 L368.5,166.1 L368.9,165.6 L369.3,165.6 L369.7,165.5 L370.1,165.9 L370.5,165.3 L370.9,165.2 L371.3,165.9 L371.8,165.7 L372.2,165.5 L372.6,165.7 L373,164.9 L373.4,165.4 L373.8,165.9 L374.2,165.8 L374.6,165.5 L375,164.7 L375.4,165.6 L375.8,165.5 L376.3,165.3 L376.7,165.5 L377.1,164.7 L377.5,165.7 L377.9,165.2 L378.3,165.4 L378.7,165.3 L379.1,165.9 L379.5,164.9 L379.9,165.5 L380.4,165.5 L380.8,165.8 L381.2,165.8 L381.6,165.3 L382,165.2 L382.4,165.2 L382.8,165.1 L383.2,165.3 L383.6,165.5 L384,165.2 L384.4,165.3 L384.9,165.5 L385.3,165.5 L385.7,166 L386.1,166.4 L386.5,166.8 L386.9,167.1 L387.3,167.4 L387.7,167.7 L388.1,167.9 L388.5,168 L389,168.1 L389.4,168.2 L389.8,168.3 L390.2,168.3 L390.6,168.3 L391,168.2 L391.4,168 L391.8,167.8 L392.2,167.5 L392.6,167.1 L393,166.7 L393.5,166.3 L393.9,165.9 L394.3,165.5 L394.7,165 L395.1,164.3 L395.5,163.6 L395.9,162.9 L396.3,162.4 L396.7,162.2 L397.1,162.5 L397.6,163.1 L398,164 L398.4,165 L398.8,166 L399.2,167.3 L399.6,168.9 L400,170.7 L400.4,172.7 L400.8,174.8 L401.2,177.1 L401.6,179.4 L402.1,181.9 L402.5,184.4 L402.9,187 L403.3,189.8 L403.7,192.8 L404.1,196.1 L404.5,199.5 L404.9,203.1 L405.3,207.1 L405.7,211.3 L406.2,215.7 L406.6,221.3 L407,228.3 L407.4,235.7 L407.8,242.7 L408.2,248.4 L408.6,253.1 L409,257.7 L409.4,262.1 L409.8,266 L410.2,269.5 L410.7,272.4 L411.1,274.5 L411.5,275.9 L411.9,277.1 L412.3,278.1 L412.7,279 L413.1,279.7 L413.5,280.3 L413.9,280.8 L414.3,281.1 L414.8,281.4 L415.2,281.6 L415.6,281.9 L416,282 L416.4,282.2 L416.8,282.3 L417.2,282.3 L417.6,282.3 L418,282.3 L418.4,282.3" stroke="#ff2a2a" stroke-width="1.05" />
</g>
<rect x="244.4" y="145.3" width="173.9" height="137" fill="none" stroke="#777" stroke-width="1"/>
<line x1="244.4" y1="282.3" x2="244.4" y2="280.7" stroke="#555" stroke-width="0.7"/>
<line x1="244.4" y1="145.3" x2="244.4" y2="146.9" stroke="#555" stroke-width="0.7"/>
<line x1="264.9" y1="282.3" x2="264.9" y2="280.7" stroke="#555" stroke-width="0.7"/>
<line x1="264.9" y1="145.3" x2="264.9" y2="146.9" stroke="#555" stroke-width="0.7"/>
<line x1="285.4" y1="282.3" x2="285.4" y2="280.7" stroke="#555" stroke-width="0.7"/>
<line x1="285.4" y1="145.3" x2="285.4" y2="146.9" stroke="#555" stroke-width="0.7"/>
<line x1="305.8" y1="282.3" x2="305.8" y2="280.7" stroke="#555" stroke-width="0.7"/>
<line x1="305.8" y1="145.3" x2="305.8" y2="146.9" stroke="#555" stroke-width="0.7"/>
<line x1="326.3" y1="282.3" x2="326.3" y2="280.7" stroke="#555" stroke-width="0.7"/>
<line x1="326.3" y1="145.3" x2="326.3" y2="146.9" stroke="#555" stroke-width="0.7"/>
<line x1="346.8" y1="282.3" x2="346.8" y2="280.7" stroke="#555" stroke-width="0.7"/>
<line x1="346.8" y1="145.3" x2="346.8" y2="146.9" stroke="#555" stroke-width="0.7"/>
<line x1="367.2" y1="282.3" x2="367.2" y2="280.7" stroke="#555" stroke-width="0.7"/>
<line x1="367.2" y1="145.3" x2="367.2" y2="146.9" stroke="#555" stroke-width="0.7"/>
<line x1="387.7" y1="282.3" x2="387.7" y2="280.7" stroke="#555" stroke-width="0.7"/>
<line x1="387.7" y1="145.3" x2="387.7" y2="146.9" stroke="#555" stroke-width="0.7"/>
<line x1="408.2" y1="282.3" x2="408.2" y2="280.7" stroke="#555" stroke-width="0.7"/>
<line x1="408.2" y1="145.3" x2="408.2" y2="146.9" stroke="#555" stroke-width="0.7"/>
<line x1="244.4" y1="282.3" x2="246" y2="282.3" stroke="#555" stroke-width="0.7"/>
<line x1="418.3" y1="282.3" x2="416.7" y2="282.3" stroke="#555" stroke-width="0.7"/>
<line x1="244.4" y1="258.9" x2="246" y2="258.9" stroke="#555" stroke-width="0.7"/>
<line x1="418.3" y1="258.9" x2="416.7" y2="258.9" stroke="#555" stroke-width="0.7"/>
<line x1="244.4" y1="235.6" x2="246" y2="235.6" stroke="#555" stroke-width="0.7"/>
<line x1="418.3" y1="235.6" x2="416.7" y2="235.6" stroke="#555" stroke-width="0.7"/>
<line x1="244.4" y1="212.2" x2="246" y2="212.2" stroke="#555" stroke-width="0.7"/>
<line x1="418.3" y1="212.2" x2="416.7" y2="212.2" stroke="#555" stroke-width="0.7"/>
<line x1="244.4" y1="188.9" x2="246" y2="188.9" stroke="#555" stroke-width="0.7"/>
<line x1="418.3" y1="188.9" x2="416.7" y2="188.9" stroke="#555" stroke-width="0.7"/>
<line x1="244.4" y1="165.5" x2="246" y2="165.5" stroke="#555" stroke-width="0.7"/>
<line x1="418.3" y1="165.5" x2="416.7" y2="165.5" stroke="#555" stroke-width="0.7"/>
<text x="244.4" y="290.5" font-size="4.75" text-anchor="middle" fill="#222" stroke="#222" stroke-width="0.12">0</text>
<text x="264.9" y="290.5" font-size="4.75" text-anchor="middle" fill="#222" stroke="#222" stroke-width="0.12">500</text>
<text x="285.4" y="290.5" font-size="4.75" text-anchor="middle" fill="#222" stroke="#222" stroke-width="0.12">1000</text>
<text x="305.8" y="290.5" font-size="4.75" text-anchor="middle" fill="#222" stroke="#222" stroke-width="0.12">1500</text>
<text x="326.3" y="290.5" font-size="4.75" text-anchor="middle" fill="#222" stroke="#222" stroke-width="0.12">2000</text>
<text x="346.8" y="290.5" font-size="4.75" text-anchor="middle" fill="#222" stroke="#222" stroke-width="0.12">2500</text>
<text x="367.2" y="290.5" font-size="4.75" text-anchor="middle" fill="#222" stroke="#222" stroke-width="0.12">3000</text>
<text x="387.7" y="290.5" font-size="4.75" text-anchor="middle" fill="#222" stroke="#222" stroke-width="0.12">3500</text>
<text x="408.2" y="290.5" font-size="4.75" text-anchor="middle" fill="#222" stroke="#222" stroke-width="0.12">4000</text>
<text x="242.4" y="284.5" font-size="4.4" text-anchor="end" fill="#222" stroke="#222" stroke-width="0.12">0</text>
<text x="242.4" y="261.1" font-size="4.4" text-anchor="end" fill="#222" stroke="#222" stroke-width="0.12">0.2</text>
<text x="242.4" y="237.8" font-size="4.4" text-anchor="end" fill="#222" stroke="#222" stroke-width="0.12">0.4</text>
<text x="242.4" y="214.4" font-size="4.4" text-anchor="end" fill="#222" stroke="#222" stroke-width="0.12">0.6</text>
<text x="242.4" y="191.1" font-size="4.4" text-anchor="end" fill="#222" stroke="#222" stroke-width="0.12">0.8</text>
<text x="242.4" y="167.7" font-size="4.4" text-anchor="end" fill="#222" stroke="#222" stroke-width="0.12">1</text>
<text x="330.6" y="297.3" font-size="4.75" text-anchor="middle" fill="#222" stroke="#222" stroke-width="0.1" textLength="32.7" lengthAdjust="spacingAndGlyphs">Depth[0.01mm]</text>
<text transform="translate(231.8,214.3) rotate(-90)" font-size="4.75" text-anchor="middle" fill="#222" textLength="20.6" lengthAdjust="spacingAndGlyphs">Dose[a.u]</text>
<text x="247.6" y="164.3" font-size="11" fill="#000" stroke="#000" stroke-width="0.08">C</text>
<g id="partA">
<!-- label A -->
<text x="51" y="7.6" font-size="8.4" fill="#000" stroke="#000" stroke-width="0.2">A</text>
<!-- back Y magnet (upper) -->
<g stroke="#5a5a5a" stroke-width="0.6" stroke-linejoin="round">
  <polygon points="99.2,21.4 105.2,15.6 143,15.6 137,21.4" fill="#c6c6c6"/>
  <polygon points="137,21.4 143,15.6 143,48 137,54" fill="#8e8e8e"/>
  <rect x="99.2" y="21.4" width="37.8" height="32.6" fill="#b3b3b3"/>
</g>
<!-- bottom X magnet -->
<g stroke="#5a5a5a" stroke-width="0.6" stroke-linejoin="round">
  <polygon points="37.8,62.8 50.8,50.5 88.2,50.5 75.2,62.8" fill="#c4c4c4"/>
  <polygon points="75.2,62.8 88.2,50.5 88.2,66.1 75.2,78.4" fill="#8e8e8e"/>
  <rect x="37.8" y="62.8" width="37.4" height="15.6" fill="#b3b3b3"/>
</g>
<!-- cylinder -->
<path d="M38,38.6 L209.6,38.6 L209.6,59.2 L38,59.2 A5,10.3 0 0 1 38,38.6 Z" fill="rgba(190,226,234,0.62)" stroke="#7fa6ae" stroke-width="0.6"/>
<!-- beam dotted line -->
<line x1="40.5" y1="47.6" x2="130" y2="47.6" stroke="#3a3a3a" stroke-width="1.25" stroke-dasharray="1.1,1.85" stroke-linecap="butt"/>
<line x1="130" y1="48" x2="205" y2="48" stroke="#3a3a3a" stroke-width="1.5" stroke-dasharray="1,1" stroke-linecap="butt" opacity="0.7"/>
<!-- upper X magnet -->
<g stroke="#5a5a5a" stroke-width="0.6" stroke-linejoin="round">
  <polygon points="37.8,28.2 50.3,15.6 88,15.6 75.5,28.2" fill="#c6c6c6"/>
  <polygon points="75.5,28.2 88,15.6 88,30.8 75.5,43.4" fill="#8e8e8e"/>
  <rect x="37.8" y="28.2" width="37.7" height="15.2" fill="#b3b3b3"/>
</g>
<!-- front Y magnet -->
<g stroke="#5a5a5a" stroke-width="0.6" stroke-linejoin="round">
  <polygon points="85,45.2 90.8,39.3 128.5,39.3 122.7,45.2" fill="#c6c6c6"/>
  <polygon points="122.7,45.2 128.5,39.3 128.5,72.6 122.7,78.5" fill="#8e8e8e"/>
  <rect x="85" y="45.2" width="37.7" height="33.3" fill="#b3b3b3"/>
</g>
<!-- vacuum window ellipse -->
<ellipse cx="209.6" cy="48.9" rx="3.9" ry="10.2" fill="#9a9a9a" stroke="#5e5e5e" stroke-width="0.6"/>
<!-- arrows magnets -->
<g stroke="#333" stroke-width="0.6" fill="#333">
  <line x1="56.3" y1="81" x2="56.3" y2="85"/>
  <polygon points="55.4,81.5 56.3,79.8 57.2,81.5"/>
  <line x1="105.3" y1="81" x2="105.3" y2="85"/>
  <polygon points="104.4,81.5 105.3,79.8 106.2,81.5"/>
</g>
<!-- vacuum window arrow -->
<g stroke="#666" stroke-width="0.6" fill="#333">
  <line x1="207" y1="61" x2="207" y2="82"/>
  <polygon points="206.1,61.5 207,59.5 207.9,61.5"/>
</g>
<!-- labels -->
<text x="36.9" y="92.3" font-size="7.4" fill="#000" stroke="#000" stroke-width="0.28" textLength="35.2" lengthAdjust="spacingAndGlyphs">Magnets X</text>
<text x="86" y="92.3" font-size="7.4" fill="#000" stroke="#000" stroke-width="0.28" textLength="35.5" lengthAdjust="spacingAndGlyphs">Magnets Y</text>
<text x="152" y="89.1" font-size="7.9" fill="#000" stroke="#000" stroke-width="0.28" textLength="55.7" lengthAdjust="spacingAndGlyphs">Vacuum window</text>
<text x="190.7" y="110" font-size="8" fill="#000" stroke="#000" stroke-width="0.28" textLength="50.7" lengthAdjust="spacingAndGlyphs">Beam monitors</text>
<text x="248.8" y="96.6" font-size="7.5" font-weight="bold" fill="#000" stroke="#000" stroke-width="0.28" textLength="44.1" lengthAdjust="spacingAndGlyphs">Ripple Filter</text>
</g>

<g id="patient">
<defs>
<pattern id="mesh" width="4" height="4" patternUnits="userSpaceOnUse" patternTransform="rotate(25)">
  <rect width="4" height="4" fill="#f4e4fb"/>
  <path d="M0,0 L4,4 M4,0 L0,4 M0,2 L4,2 M2,0 L2,4" stroke="#c684ee" stroke-width="0.45"/>
</pattern>
</defs>
<!-- support structure -->
<g fill="none" stroke="#9a9a9a" stroke-width="0.55">
  <polyline points="318.8,97.8 267.6,129.1 268.6,131 278,134.8"/>
  <line x1="314" y1="134.8" x2="333" y2="123.4"/>
  <polyline points="369,135.5 327.6,111 330.5,108.5 371,132.3"/>
  <line x1="329" y1="113.2" x2="366" y2="135.5"/>
  <polyline points="367.5,128 372,126 378.5,130 378.5,134.5 373.5,136.5" stroke="#b8b8b8"/>
  <polyline points="327,136 329.2,133.9 331.5,136" />
</g>
<g fill="none" stroke="#5a60f0" stroke-width="0.7">
  <line x1="334.4" y1="117.5" x2="334.4" y2="135"/><line x1="338.2" y1="117.5" x2="338.2" y2="135"/>
  <ellipse cx="336.2" cy="121" rx="1.6" ry="2"/>
  <ellipse cx="336.2" cy="125.3" rx="1.6" ry="2"/>
  <ellipse cx="336.2" cy="129.6" rx="1.6" ry="2"/>
  <ellipse cx="336.2" cy="133.5" rx="1.6" ry="1.5"/>
  <line x1="338" y1="119" x2="367" y2="136"/>
  <line x1="338" y1="124.5" x2="358" y2="136"/>
  <line x1="338" y1="129.5" x2="348" y2="136"/>
</g>
<!-- table edges (blue) -->
<g stroke="#8cbcd6" stroke-width="0.7" fill="none">
  <line x1="259" y1="59.2" x2="378.5" y2="130"/>
  <line x1="259" y1="61.8" x2="378.5" y2="132.6"/>
  <line x1="296.5" y1="44" x2="379" y2="92"/>
</g>
<!-- headrest -->
<g fill="none" stroke="#a0aaa8" stroke-width="0.6">
  <polygon points="262,50.5 287.7,37.8 296.5,43.5 296.5,50 271.5,62.7 262,57"/>
  <polyline points="262,50.5 271.5,56 296.5,43.5"/>
  <line x1="271.5" y1="56" x2="271.5" y2="62.7"/>
  <line x1="268.5" y1="54.3" x2="268.5" y2="60.8"/>
</g>
<!-- body -->
<path d="M286.7,61 L288,55 L295.8,50.8 L301.6,47.5 L306.6,47.5 L318.2,53.3 L323.1,54.9 L333.1,63 L338,66 L346.7,67.5 L347,72.3 L348.2,74.2 L366.5,85.1 L369.2,86.9 L371,84.2 L374.7,85.1 L376.5,90.6 L374.7,97.9 L370.1,99.7 L366.5,97.9 L364.7,103.4 L362.8,105.2 L357.4,101.5 L354,99.4 L342,93.4 L331.5,88.1 L323.5,85.5 L313,82 L306.6,75.7 L295,69 Z" fill="#faf2fe" stroke="#c98ef0" stroke-width="0.55"/>
<path d="M294.3,63.3L293.8,65.7 M357.0,99.0L357.4,101.5 M363.0,100.0L360.5,101.5 M310.6,77.9L312.1,77.3 M317.2,63.2L320.6,62.9 M350.3,96.5L342.0,93.4 M328.5,59.9L326.5,59.0 M299.0,66.0L299.2,63.9 M354.7,97.4L354.0,99.4 M364.6,99.0L364.7,99.2 M328.7,79.1L330.6,78.4 M297.0,65.7L295.0,66.6 M324.8,71.4L328.8,74.3 M308.8,70.2L309.7,70.8 M304.8,65.8L305.8,62.9 M307.1,54.7L308.7,55.7 M301.2,59.8L301.2,60.0 M366.5,92.9L368.9,93.7 M294.3,63.3L295.1,65.9 M297.0,65.7L295.1,65.9 M326.2,61.3L323.6,61.3 M359.3,85.9L359.5,86.1 M338.3,73.2L336.5,73.1 M369.2,86.9L371.0,84.2 M303.2,57.0L299.4,57.0 M338.0,90.9L342.7,89.6 M372.9,90.5L373.5,89.6 M364.8,85.1L366.5,85.1 M304.8,65.8L304.1,68.4 M287.8,58.6L288.0,55.0 M344.2,77.4L345.3,74.1 M328.8,71.1L324.8,71.4 M313.9,63.6L314.4,63.8 M355.3,94.5L350.7,95.1 M326.2,64.4L324.0,66.1 M339.7,86.9L338.0,90.9 M364.6,99.0L364.4,97.5 M341.0,84.3L343.2,79.8 M312.1,77.3L315.6,75.7 M375.6,93.5L372.9,90.5 M303.7,52.7L307.7,53.4 M355.3,94.5L354.2,96.5 M347.9,89.9L352.9,86.7 M309.4,55.6L308.4,56.1 M322.5,74.2L321.2,74.2 M323.6,61.3L326.1,62.9 M303.4,48.0L301.6,47.5 M314.0,73.3L317.1,71.0 M309.4,61.8L306.4,63.1 M364.7,103.4L362.8,105.2 M312.7,65.2L310.6,66.2 M320.7,67.7L323.8,68.6 M309.6,73.2L309.8,72.8 M334.3,87.6L331.5,88.1 M338.2,84.4L333.8,83.9 M332.0,72.6L328.8,74.3 M306.0,56.7L309.1,57.5 M315.7,56.2L313.8,57.2 M349.3,91.1L353.8,87.7 M357.0,99.0L360.5,101.5 M302.8,67.5L304.1,68.4 M362.8,105.2L357.4,101.5 M306.0,56.7L307.4,61.0 M372.2,94.6L375.6,93.5 M318.4,73.3L318.1,71.0 M373.5,85.5L374.7,85.1 M353.9,99.2L354.7,97.4 M328.5,83.3L328.0,80.0 M287.8,58.6L287.2,60.8 M344.2,77.4L347.1,77.3 M303.7,53.4L307.7,53.4 M364.2,96.1L367.2,96.8 M297.0,65.7L298.7,64.4 M297.9,56.3L296.2,53.5 M328.5,83.7L327.4,83.9 M309.9,75.0L314.0,73.3 M317.1,65.8L315.1,63.7 M325.8,59.3L326.8,60.5 M310.6,78.4L312.1,77.3 M307.1,54.7L308.4,56.1 M347.0,89.8L344.7,89.3 M375.7,89.1L376.5,90.6 M299.0,66.0L302.3,63.8 M287.8,58.6L289.2,60.1 M297.8,57.7L299.4,57.0 M313.0,82.0L306.6,75.7 M365.2,85.7L366.5,85.1 M291.4,60.0L289.9,58.7 M360.2,86.6L359.5,86.1 M303.7,52.7L303.7,53.4 M306.0,56.7L303.7,53.4 M298.8,58.4L299.4,57.0 M363.1,83.5L366.5,85.1 M354.7,97.4L354.2,96.5 M337.9,69.2L336.8,70.4 M316.6,70.5L317.1,71.0 M345.9,86.3L344.7,89.3 M311.7,65.0L310.6,66.2 M331.9,67.0L333.1,63.0 M344.1,89.0L344.0,86.6 M306.6,75.7L295.0,69.0 M312.1,77.3L309.9,75.0 M304.9,50.4L308.0,51.1 M302.3,63.8L301.2,60.0 M343.8,90.2L342.7,89.6 M288.0,55.0L295.8,50.8 M326.9,64.1L326.1,62.9 M343.8,90.2L344.1,89.0 M320.6,62.9L322.8,65.5 M371.0,96.1L372.2,94.6 M301.2,49.0L301.6,47.5 M351.4,77.7L348.4,79.8 M328.8,71.1L332.0,72.6 M375.8,89.0L376.5,90.6 M295.8,50.8L301.6,47.5 M292.7,54.9L289.9,58.7 M304.5,68.5L306.5,69.8 M355.3,94.5L356.4,95.1 M327.6,85.7L327.8,86.5 M354.9,91.2L358.6,94.7 M318.6,77.5L318.4,73.3 M347.1,77.3L348.2,74.2 M312.7,65.2L311.7,65.0 M369.7,99.1L370.1,99.7 M328.5,83.7L333.8,83.9 M327.6,85.7L329.7,86.5 M355.4,100.0L357.0,99.0 M302.8,67.5L304.8,65.8 M291.8,62.1L293.5,63.5 M299.2,63.9L298.7,64.4 M323.6,61.3L325.1,58.9 M309.6,73.2L307.9,74.3 M337.2,79.7L341.4,76.9 M293.8,65.7L286.7,61.0 M326.3,67.9L326.3,64.4 M326.0,82.3L322.7,84.3 M295.1,65.9L293.8,65.7 M337.9,69.2L338.0,66.0 M308.7,55.7L308.4,56.1 M342.5,91.8L342.0,93.4 M347.6,80.4L343.2,79.8 M294.3,63.3L299.2,63.9 M331.5,61.7L333.1,63.0 M320.6,62.9L322.9,63.1 M326.3,84.4L326.0,82.3 M343.2,77.2L342.5,77.6 M346.7,67.5L347.0,72.3 M339.8,83.7L338.4,83.1 M314.9,65.5L315.0,70.1 M326.9,64.1L329.9,66.9 M339.1,71.9L336.5,73.1 M363.0,100.0L358.4,97.3 M342.7,89.6L344.1,89.0 M320.7,67.7L321.2,66.7 M372.3,98.6L371.6,96.0 M320.2,79.0L320.1,78.8 M342.5,77.6L343.2,79.8 M347.4,79.1L343.2,79.8 M341.0,84.3L340.1,85.5 M344.0,86.6L345.9,86.3 M354.1,88.3L350.1,92.0 M358.5,84.7L363.1,83.5 M364.2,96.1L363.8,95.0 M350.1,92.0L348.9,94.4 M313.9,63.6L313.0,64.4 M303.8,59.1L301.2,60.0 M337.0,77.6L336.5,73.1 M309.7,51.4L308.0,51.1 M321.9,56.3L317.3,58.5 M364.7,99.2L364.7,103.4 M310.6,78.4L310.6,77.9 M320.2,79.0L323.5,79.0 M320.1,78.8L318.7,81.4 M305.8,62.9L306.4,63.1 M320.8,62.1L317.3,58.5 M321.2,81.1L322.7,84.3 M358.5,87.1L359.5,86.1 M354.9,91.2L350.1,92.0 M354.4,80.1L363.1,83.5 M298.0,58.1L298.6,58.1 M304.5,73.7L306.5,69.8 M307.9,74.3L306.5,69.8 M306.0,56.7L303.2,57.0 M322.9,63.1L326.1,62.9 M327.9,80.0L323.5,79.0 M320.7,67.7L319.4,66.4 M289.4,54.6L289.9,58.7 M349.3,91.1L346.5,93.4 M327.9,80.0L328.0,80.0 M331.3,61.8L328.1,62.7 M293.3,62.8L294.3,59.4 M320.7,67.7L318.0,68.0 M356.4,95.1L358.4,97.3 M320.1,81.0L321.2,81.1 M314.0,73.3L315.0,70.1 M318.7,81.4L318.0,82.7 M354.4,80.1L350.7,76.5 M350.1,92.0L349.3,91.1 M298.9,55.5L303.2,57.0 M301.2,49.0L295.8,50.8 M298.9,54.0L303.5,53.6 M313.8,57.2L312.8,54.8 M320.7,71.7L320.7,67.7 M336.8,70.4L336.5,73.1 M309.9,75.0L309.8,72.8 M305.8,62.9L304.2,61.8 M304.8,65.8L310.6,66.2 M316.8,77.1L315.6,75.7 M343.1,78.4L344.2,77.4 M317.2,63.2L317.1,65.8 M328.5,83.7L328.5,83.3 M332.0,79.4L330.6,78.4 M310.6,66.2L315.0,70.1 M357.0,99.0L358.4,97.3 M359.6,85.5L358.5,84.7 M319.4,66.4L320.8,66.6 M338.0,66.0L346.7,67.5 M347.4,88.9L347.0,89.8 M323.2,71.6L323.8,68.6 M344.3,70.9L345.3,74.1 M317.2,63.2L317.3,58.5 M308.8,70.2L309.8,72.8 M299.3,51.0L295.8,50.8 M309.8,72.8L309.7,70.8 M375.6,93.5L374.7,97.9 M353.4,81.0L348.4,79.8 M313.4,79.2L315.6,75.7 M293.3,62.8L292.9,62.4 M304.9,50.4L307.7,53.4 M291.4,60.0L293.5,59.2 M345.3,74.1L348.2,74.2 M309.9,75.0L310.4,76.8 M297.9,56.3L294.1,54.4 M322.8,65.5L320.8,66.6 M363.3,84.8L363.1,83.5 M297.2,57.7L297.8,57.7 M372.2,94.6L371.6,96.0 M302.8,67.5L303.4,68.7 M325.6,64.1L326.1,62.9 M373.6,88.8L373.5,89.6 M312.7,65.2L315.0,70.1 M315.7,56.2L314.1,51.9 M298.9,54.0L299.3,51.0 M363.2,103.9L360.5,101.5 M374.7,85.1L376.5,90.6 M302.2,51.1L302.6,49.5 M299.2,63.9L294.3,59.4 M292.7,54.9L295.8,50.8 M339.0,75.8L341.4,76.9 M331.0,63.7L329.9,66.9 M324.5,58.1L326.5,59.0 M348.4,79.8L350.7,76.5 M359.6,85.5L363.3,84.8 M316.7,82.3L316.2,80.4 M364.7,99.2L366.5,97.9 M364.7,98.2L366.5,97.9 M376.5,90.6L374.7,97.9 M309.7,51.4L314.1,51.9 M309.1,57.5L309.5,59.1 M360.2,86.6L358.5,87.1 M339.7,86.9L342.7,89.6 M328.8,71.1L326.3,67.9 M328.7,79.1L328.0,77.7 M329.7,86.5L331.5,88.1 M320.8,62.1L321.9,56.3 M372.2,94.6L368.9,93.7 M350.3,96.5L347.0,93.8 M298.9,54.0L298.9,55.5 M363.2,103.9L362.8,105.2 M346.5,93.4L342.0,93.4 M360.5,101.5L357.4,101.5 M320.7,67.7L318.1,71.0 M315.1,63.7L314.3,65.1 M360.7,93.9L358.6,94.7 M347.9,89.9L347.0,89.8 M358.4,97.3L355.6,95.5 M344.1,90.3L345.7,90.7 M320.1,78.6L321.0,76.6 M307.9,74.3L309.9,75.0 M357.4,101.5L354.0,99.4 M341.0,84.3L345.7,83.1 M332.0,79.4L337.0,77.6 M328.5,59.9L328.3,61.0 M350.7,95.1L350.3,96.5 M347.1,77.3L345.3,74.1 M326.2,61.3L326.1,62.9 M341.0,84.3L344.0,86.6 M307.9,74.3L306.6,75.7 M304.5,73.7L306.6,75.7 M310.6,66.2L306.5,69.8 M323.8,68.6L321.2,66.7 M339.8,83.7L343.2,79.8 M347.9,89.9L345.7,90.7 M354.0,99.4L342.0,93.4 M360.2,86.6L363.2,86.8 M309.7,70.8L310.6,66.2 M325.2,77.7L321.0,76.6 M306.0,56.7L308.4,56.1 M301.2,49.0L299.3,51.0 M308.8,70.2L307.9,74.3 M360.2,86.6L363.3,87.8 M320.2,79.0L321.2,81.1 M320.1,81.0L320.5,83.2 M319.1,82.0L318.0,82.7 M353.9,99.2L354.0,99.4 M321.0,76.6L322.5,74.2 M309.1,57.5L307.4,61.0 M364.2,93.5L365.8,91.4 M347.4,79.1L344.2,77.4 M341.0,84.3L341.7,85.9 M309.8,72.8L314.0,73.3 M318.6,77.5L318.7,81.4 M313.8,57.2L317.3,58.5 M295.0,66.6L297.7,68.4 M375.6,93.5L376.5,90.6 M314.0,73.3L315.6,75.7 M320.8,62.1L322.9,63.1 M290.9,61.2L287.2,60.8 M328.5,59.9L331.5,61.7 M371.0,96.1L372.3,98.6 M364.2,96.1L361.9,96.4 M343.2,77.2L344.2,77.4 M345.3,74.1L347.0,72.3 M339.7,86.9L335.9,89.1 M325.8,59.3L326.5,59.0 M325.6,64.1L324.0,66.1 M356.4,95.1L355.6,95.5 M315.1,63.7L314.4,63.8 M293.5,59.2L294.3,59.4 M341.7,85.9L342.7,89.6 M342.5,91.8L342.7,89.6 M308.8,70.2L310.6,66.2 M324.5,58.1L321.9,56.3 M320.5,84.3L313.0,82.0 M325.8,59.3L325.2,59.4 M299.2,63.9L298.8,58.4 M353.9,99.2L350.3,96.5 M333.8,83.9L329.7,86.5 M319.1,82.0L320.5,83.2 M350.7,95.1L354.2,96.5 M360.2,86.6L360.6,89.5 M358.5,87.1L353.8,87.7 M355.4,100.0L357.4,101.5 M325.2,85.6L327.8,86.5 M360.2,86.6L363.3,84.8 M298.0,58.1L297.8,57.7 M331.0,63.7L328.1,62.7 M358.5,84.7L355.4,82.6 M302.6,49.5L303.4,48.0 M306.0,56.7L307.1,54.7 M316.3,73.9L315.6,75.7 M302.2,51.1L303.7,52.7 M304.9,50.4L303.7,52.7 M323.6,61.3L324.5,58.1 M302.2,51.1L301.0,49.8 M302.3,63.8L304.2,61.8 M350.7,95.1L353.5,96.9 M316.8,66.7L315.0,70.1 M347.4,88.9L347.9,89.9 M322.8,65.5L324.0,66.1 M315.1,63.7L315.3,63.4 M293.5,59.2L292.9,62.4 M373.6,88.8L375.7,89.1 M360.5,101.5L362.8,105.2 M313.8,57.2L309.4,55.6 M368.7,93.8L366.5,92.9 M352.9,86.7L353.8,87.7 M297.2,57.7L296.2,57.9 M368.7,93.8L368.9,93.7 M375.1,90.2L375.6,93.5 M309.4,55.6L309.9,54.4 M349.8,84.6L348.4,79.8 M364.4,97.5L364.2,96.1 M316.8,77.1L316.2,80.4 M375.1,90.2L373.5,89.6 M343.2,77.2L340.9,75.1 M298.6,58.1L299.4,57.0 M372.2,94.6L374.7,97.9 M355.3,94.5L358.6,94.7 M353.4,81.0L351.4,77.7 M326.0,82.3L323.5,79.0 M369.7,99.1L367.2,96.8 M298.0,58.1L297.2,57.7 M343.2,77.2L345.3,74.1 M304.9,50.4L303.4,48.0 M331.3,61.8L331.0,63.7 M326.1,62.9L327.0,64.1 M326.2,61.3L325.8,59.3 M307.4,61.0L303.8,59.1 M363.0,100.0L361.9,96.4 M306.0,61.8L303.8,59.1 M314.3,65.1L314.4,63.8 M360.7,93.9L361.9,96.4 M353.9,99.2L353.5,96.9 M320.1,78.8L323.5,79.0 M347.4,79.1L347.1,77.3 M314.1,51.9L318.2,53.3 M316.3,73.9L316.8,77.1 M321.0,76.6L321.2,74.2 M332.0,72.6L336.5,73.1 M341.0,84.3L339.8,83.7 M301.6,47.5L306.6,47.5 M298.0,58.1L298.8,58.4 M316.6,70.5L318.0,68.0 M347.0,93.8L342.0,93.4 M328.8,74.3L330.6,78.4 M302.8,67.5L297.7,68.4 M304.9,50.4L302.2,51.1 M320.5,84.3L323.5,85.5 M368.9,93.7L369.2,86.9 M295.0,66.6L295.0,69.0 M321.2,81.1L323.5,79.0 M327.4,83.9L326.3,84.4 M326.2,61.3L328.1,62.7 M297.9,56.3L296.2,57.9 M326.3,84.4L323.3,84.4 M357.0,99.0L354.7,97.4 M293.5,63.5L293.8,65.7 M351.4,77.7L350.7,76.5 M308.7,55.7L309.4,55.6 M358.5,87.1L360.6,89.5 M328.5,59.9L323.1,54.9 M371.0,96.1L368.9,93.7 M333.5,82.2L338.4,83.1 M317.2,63.2L315.3,63.4 M316.3,73.9L317.1,71.0 M318.7,81.4L317.7,82.6 M317.1,65.8L319.4,66.4 M349.3,91.1L348.9,94.4 M322.9,63.1L325.6,64.1 M320.7,71.7L319.8,71.8 M352.9,86.7L349.3,91.1 M350.7,95.1L348.9,94.4 M350.3,96.5L354.0,99.4 M333.8,83.9L333.5,82.2 M299.2,63.9L301.2,60.0 M342.5,91.8L343.8,90.2 M347.0,72.3L348.2,74.2 M335.9,89.1L336.8,85.9 M342.5,91.8L338.0,90.9 M315.3,63.4L314.4,63.8 M364.8,85.1L363.2,86.8 M309.4,61.8L311.7,65.0 M332.0,72.6L337.0,77.6 M320.5,84.3L320.5,83.2 M307.9,74.3L304.5,73.7 M310.6,78.4L313.4,79.2 M323.8,68.6L326.3,67.9 M302.3,63.8L305.8,62.9 M318.1,71.0L318.0,68.0 M296.2,53.5L295.8,50.8 M344.3,70.9L339.1,71.9 M287.8,58.6L286.7,61.0 M368.7,93.8L371.0,96.1 M363.0,100.0L364.7,103.4 M318.7,81.4L316.2,80.4 M325.2,77.7L327.9,80.0 M350.7,76.5L348.2,74.2 M322.7,84.3L320.5,83.2 M293.5,59.2L296.2,57.9 M364.2,96.1L366.5,97.9 M304.8,65.8L306.5,69.8 M309.7,51.4L309.9,54.4 M298.0,58.1L296.2,57.9 M309.1,57.5L309.4,55.6 M347.0,89.8L345.7,90.7 M303.2,57.0L301.2,59.8 M375.8,89.0L373.6,88.8 M364.2,93.5L363.8,95.0 M309.7,70.8L315.0,70.1 M371.8,98.8L372.3,98.6 M353.5,96.9L354.7,97.4 M355.4,82.6L363.1,83.5 M349.8,84.6L345.9,86.3 M360.5,101.5L358.4,97.3 M326.5,59.0L323.1,54.9 M340.9,75.1L341.4,76.9 M301.2,59.8L303.8,59.1 M344.3,70.9L347.0,72.3 M371.0,96.1L371.8,98.8 M328.5,83.3L333.5,82.2 M320.1,78.6L318.7,81.4 M329.0,73.4L324.8,71.4 M289.2,60.1L287.2,60.8 M366.5,92.9L364.2,96.1 M294.1,54.4L295.8,50.8 M332.0,79.4L332.0,72.6 M309.4,61.8L309.5,59.1 M306.0,61.8L306.4,63.1 M324.8,71.4L323.8,68.6 M316.6,70.5L318.1,71.0 M340.9,75.1L338.3,73.2 M364.4,97.5L364.7,98.2 M345.7,83.1L343.2,79.8 M328.1,62.7L327.0,64.1 M373.5,85.5L371.0,84.2 M333.8,83.9L338.4,83.1 M375.1,90.2L375.7,89.1 M291.8,62.1L292.9,62.4 M346.1,84.0L345.9,86.3 M375.1,90.2L372.9,90.5 M373.6,88.8L369.2,86.9 M360.7,93.9L362.6,92.8 M323.3,84.4L323.5,85.5 M294.3,59.4L296.2,57.9 M344.3,70.9L343.2,72.2 M323.2,71.6L321.4,72.5 M342.7,89.6L344.0,86.6 M342.5,91.8L346.5,93.4 M365.2,85.7L363.2,86.8 M326.0,82.3L321.2,81.1 M359.6,85.5L359.3,85.9 M313.8,57.2L315.3,63.4 M332.0,79.4L337.2,79.7 M287.2,60.8L286.7,61.0 M355.4,82.6L353.8,87.7 M331.3,61.8L331.5,61.7 M337.9,69.2L344.3,70.9 M291.8,62.1L287.2,60.8 M319.8,71.8L321.2,74.2 M322.8,65.5L325.6,64.1 M340.9,75.1L339.1,71.9 M309.6,73.2L309.9,75.0 M328.5,83.3L327.9,80.0 M289.9,58.7L288.0,55.0 M309.1,57.5L308.4,56.1 M326.2,61.3L326.8,60.5 M309.4,61.8L307.4,61.0 M303.4,68.7L304.1,68.4 M319.1,82.0L320.0,83.5 M298.5,55.2L298.9,54.0 M344.1,89.0L344.7,89.3 M325.2,85.6L323.3,84.4 M317.0,66.4L318.0,68.0 M372.2,94.6L372.9,90.5 M350.3,96.5L353.5,96.9 M358.5,84.7L359.3,85.9 M315.7,56.2L318.2,53.3 M313.9,63.6L314.3,65.1 M298.8,58.4L301.2,59.8 M314.1,82.2L316.2,80.4 M318.7,81.4L316.7,82.3 M320.8,66.6L321.2,66.7 M322.5,74.2L328.8,74.3 M375.8,89.0L374.7,85.1 M287.8,58.6L289.9,58.7 M351.4,77.7L354.4,80.1 M298.4,52.2L299.3,51.0 M316.6,70.5L314.0,73.3 M319.4,66.4L317.0,66.4 M347.6,81.2L348.4,79.8 M365.8,91.4L363.3,87.8 M326.0,82.3L323.3,84.4 M346.1,84.0L346.3,82.1 M318.6,77.5L316.8,77.1 M365.8,91.4L363.2,91.1 M317.1,71.0L318.1,71.0 M316.7,82.3L317.7,82.6 M325.2,85.6L323.5,85.5 M340.9,75.1L343.2,72.2 M306.0,56.7L303.8,59.1 M362.6,92.8L363.8,95.0 M291.8,62.1L286.7,61.0 M329.0,73.4L332.0,72.6 M342.5,77.6L341.4,76.9 M326.3,67.9L329.9,66.9 M320.1,81.0L318.7,81.4 M304.8,65.8L302.3,63.8 M320.6,62.9L320.8,66.6 M331.5,61.7L323.1,54.9 M332.0,79.4L333.5,82.2 M301.2,59.8L299.4,57.0 M348.4,79.8L347.1,77.3 M312.1,77.3L314.0,73.3 M335.4,69.9L331.9,67.0 M354.1,88.3L353.8,87.7 M304.9,50.4L306.6,47.5 M313.8,57.2L309.1,57.5 M373.5,85.5L369.2,86.9 M360.7,93.9L363.8,95.0 M343.2,77.2L341.4,76.9 M308.8,70.2L306.5,69.8 M304.9,50.4L302.6,49.5 M327.7,85.4L329.7,86.5 M354.1,88.3L358.5,87.1 M337.9,69.2L335.4,69.9 M363.0,100.0L363.2,103.9 M314.9,65.5L316.8,66.7 M294.3,63.3L293.5,63.5 M302.8,67.5L302.3,63.8 M338.2,84.4L338.4,83.1 M321.9,56.3L323.1,54.9 M298.8,58.4L301.2,60.0 M291.8,62.1L293.8,65.7 M359.6,85.5L360.2,86.6 M374.7,97.9L370.1,99.7 M335.6,89.8L334.3,87.6 M354.9,91.2L358.5,87.1 M364.4,97.5L363.0,100.0 M371.8,98.8L370.1,99.7 M292.7,54.9L294.1,54.4 M326.8,60.5L328.3,61.0 M363.2,91.1L363.3,87.8 M292.9,62.4L293.5,63.5 M326.3,67.9L324.0,66.1 M335.4,69.9L336.5,73.1 M298.0,58.1L299.2,63.9 M350.3,96.5L348.9,94.4 M298.5,55.2L296.2,53.5 M326.3,84.4L327.6,85.7 M323.6,61.3L321.9,56.3 M291.4,60.0L291.8,62.1 M368.9,93.7L372.9,90.5 M365.2,85.7L364.8,85.1 M306.0,61.8L305.8,62.9 M340.9,75.1L345.3,74.1 M295.0,66.6L293.8,65.7 M313.9,63.6L315.3,63.4 M306.0,56.7L303.5,53.6 M317.3,58.5L318.2,53.3 M333.8,83.9L334.3,87.6 M335.6,89.8L331.5,88.1 M341.4,76.9L337.0,77.6 M327.4,83.9L328.5,83.3 M299.0,66.0L297.7,68.4 M309.7,51.4L307.7,53.4 M326.2,64.4L326.3,67.9 M366.5,92.9L367.2,96.8 M361.1,91.4L362.6,92.8 M339.7,86.9L341.7,85.9 M340.1,85.5L341.7,85.9 M295.0,66.6L295.1,65.9 M326.2,64.4L326.3,64.4 M342.0,93.4L331.5,88.1 M320.7,71.7L323.8,68.6 M319.8,71.8L318.1,71.0 M315.7,56.2L312.8,54.8 M363.0,100.0L364.7,99.2 M333.8,83.9L331.5,88.1 M354.7,97.4L358.4,97.3 M302.8,67.5L299.0,66.0 M316.7,82.3L317.6,83.2 M325.2,77.7L328.0,77.7 M327.7,85.4L327.6,85.7 M363.2,91.1L360.6,89.5 M321.2,81.1L320.5,83.2 M337.2,79.7L337.0,77.6 M297.0,65.7L294.3,63.3 M302.6,49.5L301.0,49.8 M320.5,84.3L320.0,83.5 M294.3,63.3L293.3,62.8 M338.3,73.2L339.1,71.9 M317.1,65.8L314.9,65.5 M289.4,54.6L295.8,50.8 M353.4,81.0L354.4,80.1 M303.5,53.6L303.7,53.4 M344.1,89.0L345.9,86.3 M326.2,64.4L325.6,64.1 M320.7,71.7L323.2,71.6 M350.7,76.5L347.1,77.3 M328.8,74.3L328.0,77.7 M349.8,84.6L347.6,81.2 M318.6,77.5L316.2,80.4 M291.4,60.0L292.9,62.4 M335.4,69.9L336.8,70.4 M335.9,89.1L335.6,89.8 M297.8,57.7L297.9,56.3 M323.6,61.3L322.9,63.1 M303.2,57.0L303.8,59.1 M289.4,54.6L292.7,54.9 M324.5,58.1L323.1,54.9 M298.0,58.1L294.3,59.4 M320.7,67.7L320.8,66.6 M332.0,79.4L328.7,79.1 M337.9,69.2L339.1,71.9 M344.1,90.3L343.8,90.2 M320.2,79.0L318.7,81.4 M319.1,82.0L320.1,81.0 M346.3,82.1L343.2,79.8 M304.2,61.8L301.2,60.0 M309.9,75.0L306.6,75.7 M321.4,72.5L319.8,71.8 M312.1,77.3L313.4,79.2 M346.1,84.0L347.6,81.2 M347.0,93.8L348.9,94.4 M354.9,91.2L360.5,90.6 M312.8,54.8L309.9,54.4 M331.0,63.7L333.1,63.0 M309.6,73.2L308.8,70.2 M299.0,66.0L297.0,65.7 M364.6,99.0L363.0,100.0 M353.4,81.0L355.4,82.6 M358.6,94.7L358.4,97.3 M365.8,91.4L367.4,86.8 M298.9,54.0L296.2,53.5 M321.9,56.3L318.2,53.3 M328.7,79.1L328.0,80.0 M318.2,53.3L323.1,54.9 M294.1,54.4L296.2,53.5 M327.8,86.5L329.7,86.5 M347.4,88.9L345.9,86.3 M344.7,89.3L345.7,90.7 M353.4,81.0L352.9,86.7 M363.2,103.9L364.7,103.4 M364.2,93.5L363.2,91.1 M338.0,90.9L335.6,89.8 M291.4,60.0L289.2,60.1 M371.0,96.1L367.2,96.8 M303.4,48.0L306.6,47.5 M373.6,88.8L372.9,90.5 M293.8,65.7L295.0,69.0 M364.8,85.1L363.1,83.5 M360.5,90.6L360.6,89.5 M314.9,65.5L314.3,65.1 M365.8,91.4L366.5,92.9 M344.1,90.3L342.5,91.8 M365.8,91.4L368.9,93.7 M289.4,54.6L289.0,54.8 M328.8,71.1L329.0,73.4 M355.6,95.5L354.2,96.5 M317.2,63.2L315.1,63.7 M335.4,69.9L338.0,66.0 M309.4,61.8L310.6,66.2 M318.0,82.7L317.7,82.6 M335.6,89.8L342.0,93.4 M313.4,79.2L313.0,82.0 M332.0,72.6L330.6,78.4 M339.7,86.9L336.8,85.9 M318.0,82.7L320.0,83.5 M313.0,64.4L314.3,65.1 M367.4,86.8L363.3,87.8 M350.7,95.1L350.1,92.0 M366.5,92.9L363.8,95.0 M346.1,84.0L349.8,84.6 M347.0,93.8L349.3,91.1 M347.6,81.2L346.3,82.1 M340.9,75.1L339.0,75.8 M318.4,73.3L316.8,77.1 M317.2,63.2L320.8,62.1 M303.2,57.0L303.5,53.6 M355.3,94.5L354.9,91.2 M339.0,75.8L336.5,73.1 M328.5,83.3L333.8,83.9 M326.5,59.0L325.1,58.9 M371.0,96.1L371.6,96.0 M309.4,61.8L313.0,64.4 M355.3,94.5L355.6,95.5 M364.2,93.5L362.6,92.8 M320.5,84.3L317.6,83.2 M331.9,67.0L329.9,66.9 M325.2,77.7L323.5,79.0 M345.7,83.1L344.0,86.6 M303.5,53.6L303.7,52.7 M359.6,85.5L359.5,86.1 M340.1,85.5L339.8,83.7 M318.4,73.3L317.1,71.0 M331.9,67.0L338.0,66.0 M289.4,54.6L288.0,55.0 M328.0,77.7L328.0,80.0 M338.2,84.4L336.8,85.9 M314.9,65.5L317.0,66.4 M315.7,56.2L317.3,58.5 M347.9,89.9L346.5,93.4 M355.4,100.0L354.7,97.4 M288.0,55.0L301.6,47.5 M324.8,71.4L326.3,67.9 M307.7,53.4L309.9,54.4 M310.4,76.8L306.6,75.7 M316.2,80.4L313.4,79.2 M364.4,97.5L361.9,96.4 M304.5,68.5L304.1,68.4 M306.6,47.5L318.2,53.3 M322.9,63.1L322.8,65.5 M347.6,81.2L347.6,80.4 M297.0,65.7L297.7,68.4 M375.1,90.2L376.5,90.6 M314.0,73.3L309.7,70.8 M339.0,75.8L337.0,77.6 M310.6,77.9L310.4,76.8 M322.7,84.3L323.5,85.5 M316.7,82.3L314.1,82.2 M343.2,77.2L343.1,78.4 M338.2,84.4L339.8,83.7 M320.1,81.0L320.2,79.0 M335.9,89.1L334.3,87.6 M301.2,49.0L302.6,49.5 M343.1,78.4L342.5,77.6 M369.7,99.1L366.5,97.9 M341.4,76.9L343.2,79.8 M365.8,91.4L369.2,86.9 M347.0,93.8L346.5,93.4 M354.7,97.4L355.6,95.5 M306.4,63.1L310.6,66.2 M342.5,91.8L345.7,90.7 M326.2,61.3L325.2,59.4 M313.0,64.4L311.7,65.0 M298.6,58.1L298.8,58.4 M362.6,92.8L363.2,91.1 M326.9,64.1L326.3,67.9 M353.5,96.9L354.2,96.5 M322.8,65.5L321.2,66.7 M298.4,52.2L295.8,50.8 M323.3,84.4L322.7,84.3 M307.7,53.4L308.0,51.1 M326.9,64.1L326.3,64.4 M312.7,65.2L314.3,65.1 M337.2,79.7L343.2,79.8 M343.1,78.4L343.2,79.8 M328.0,77.7L330.6,78.4 M318.0,82.7L317.6,83.2 M292.7,54.9L296.2,57.9 M308.7,55.7L309.9,54.4 M318.6,77.5L320.1,78.6 M313.9,63.6L313.8,57.2 M302.2,51.1L303.5,53.6 M366.5,85.1L369.2,86.9 M304.2,61.8L303.8,59.1 M347.6,80.4L347.4,79.1 M294.3,63.3L298.7,64.4 M319.4,66.4L318.0,68.0 M361.9,96.4L358.4,97.3 M331.0,63.7L327.0,64.1 M327.7,85.4L326.3,84.4 M325.2,77.7L328.8,74.3 M320.0,83.5L320.5,83.2 M297.2,57.7L297.9,56.3 M308.0,51.1L306.6,47.5 M354.9,91.2L354.1,88.3 M304.5,68.5L304.8,65.8 M317.1,65.8L317.0,66.4 M331.3,61.8L328.3,61.0 M321.0,76.6L323.5,79.0 M336.8,85.9L334.3,87.6 M304.5,73.7L297.7,68.4 M364.8,85.1L363.3,84.8 M371.0,96.1L369.7,99.1 M327.9,80.0L328.0,77.7 M339.1,71.9L343.2,72.2 M318.6,77.5L321.0,76.6 M314.1,51.9L306.6,47.5 M360.7,93.9L360.5,90.6 M336.8,70.4L339.1,71.9 M328.5,59.9L326.8,60.5 M347.6,80.4L348.4,79.8 M335.9,89.1L338.0,90.9 M326.0,82.3L327.9,80.0 M316.8,77.1L313.4,79.2 M339.7,86.9L340.1,85.5 M349.8,84.6L352.9,86.7 M302.2,51.1L299.3,51.0 M364.2,93.5L366.5,92.9 M346.3,82.1L347.6,80.4 M363.2,86.8L363.3,87.8 M314.1,51.9L312.8,54.8 M328.5,83.7L329.7,86.5 M320.6,62.9L319.4,66.4 M365.2,85.7L363.3,87.8 M354.9,91.2L350.7,95.1 M320.5,84.3L314.1,82.2 M338.3,73.2L339.0,75.8 M335.4,69.9L332.0,72.6 M327.4,83.9L326.0,82.3 M293.5,59.2L289.9,58.7 M298.9,55.5L297.9,56.3 M289.2,60.1L290.9,61.2 M306.0,61.8L304.2,61.8 M359.6,85.5L363.1,83.5 M314.1,82.2L313.0,82.0 M323.5,85.5L313.0,82.0 M373.6,88.8L375.1,90.2 M367.2,96.8L366.5,97.9 M316.8,66.7L318.0,68.0 M310.6,77.9L306.6,75.7 M321.4,72.5L322.5,74.2 M301.2,49.0L301.0,49.8 M316.3,73.9L314.0,73.3 M360.5,90.6L358.6,94.7 M336.8,85.9L333.8,83.9 M298.9,54.0L302.2,51.1 M313.8,57.2L309.5,59.1 M303.4,68.7L297.7,68.4 M286.7,61.0L295.0,69.0 M331.3,61.8L328.5,59.9 M289.0,54.8L288.0,55.0 M331.9,67.0L332.0,72.6 M323.6,61.3L325.2,59.4 M371.6,96.0L374.7,97.9 M328.5,83.7L327.7,85.4 M363.2,86.8L363.3,84.8 M314.9,65.5L312.7,65.2 M291.8,62.1L290.9,61.2 M332.0,79.4L328.0,80.0 M315.0,70.1L318.0,68.0 M327.7,85.4L327.4,83.9 M353.4,81.0L349.8,84.6 M299.3,51.0L301.0,49.8 M326.5,59.0L326.8,60.5 M344.2,77.4L343.2,79.8 M332.0,79.4L328.5,83.3 M313.0,64.4L312.7,65.2 M361.9,96.4L363.8,95.0 M309.4,55.6L312.8,54.8 M344.1,90.3L344.1,89.0 M307.1,54.7L307.7,53.4 M364.4,97.5L366.5,97.9 M328.8,71.1L331.9,67.0 M344.3,70.9L346.7,67.5 M346.5,93.4L345.7,90.7 M364.6,99.0L364.7,98.2 M338.0,90.9L342.0,93.4 M347.4,88.9L344.7,89.3 M364.7,99.2L364.7,98.2 M298.4,52.2L298.9,54.0 M346.3,82.1L345.7,83.1 M324.5,58.1L325.1,58.9 M347.4,88.9L349.8,84.6 M320.7,67.7L319.8,71.8 M339.7,86.9L338.2,84.4 M340.1,85.5L338.2,84.4 M375.8,89.0L375.7,89.1 M327.8,86.5L323.5,85.5 M313.9,63.6L309.4,61.8 M307.4,61.0L309.5,59.1 M320.7,71.7L321.4,72.5 M357.4,101.5L342.0,93.4 M358.5,84.7L353.8,87.7 M298.5,55.2L298.9,55.5 M304.5,68.5L303.4,68.7 M323.8,68.6L324.0,66.1 M302.3,63.8L299.2,63.9 M294.3,63.3L294.3,59.4 M329.9,66.9L327.0,64.1 M293.3,62.8L293.5,63.5 M314.1,82.2L317.6,83.2 M331.5,88.1L323.5,85.5 M304.5,73.7L295.0,69.0 M361.9,96.4L358.6,94.7 M306.4,63.1L307.4,61.0 M361.1,91.4L363.2,91.1 M337.2,79.7L333.5,82.2 M367.4,86.8L369.2,86.9 M319.1,82.0L318.7,81.4 M323.2,71.6L322.5,74.2 M358.5,84.7L358.5,87.1 M372.3,98.6L370.1,99.7 M325.2,77.7L322.5,74.2 M292.9,62.4L294.3,59.4 M307.1,54.7L303.7,53.4 M310.6,78.4L306.6,75.7 M316.8,66.7L317.0,66.4 M328.3,61.0L328.1,62.7 M304.8,65.8L306.4,63.1 M344.1,90.3L344.7,89.3 M302.6,49.5L301.6,47.5 M327.6,85.7L325.2,85.6 M289.2,60.1L289.9,58.7 M286.7,61.0L288.0,55.0 M308.7,55.7L307.7,53.4 M316.6,70.5L315.0,70.1 M355.4,82.6L354.4,80.1 M361.1,91.4L360.5,90.6 M361.1,91.4L360.6,89.5 M303.4,68.7L306.5,69.8 M306.0,61.8L307.4,61.0 M355.4,100.0L354.0,99.4 M298.9,55.5L303.5,53.6 M368.7,93.8L367.2,96.8 M317.6,83.2L317.7,82.6 M309.7,51.4L306.6,47.5 M348.4,79.8L347.4,79.1 M321.4,72.5L321.2,74.2 M317.6,83.2L320.0,83.5 M323.2,71.6L324.8,71.4 M325.8,59.3L325.1,58.9 M354.1,88.3L349.3,91.1 M326.1,62.9L328.1,62.7 M365.2,85.7L367.4,86.8 M304.5,73.7L303.4,68.7 M358.5,87.1L360.5,90.6 M313.9,63.6L309.5,59.1 M371.8,98.8L369.7,99.1 M337.2,79.7L338.4,83.1 M298.4,52.2L296.2,53.5 M318.4,73.3L321.0,76.6 M324.0,66.1L321.2,66.7 M333.1,63.0L338.0,66.0 M326.9,64.1L326.2,64.4 M297.8,57.7L298.6,58.1 M344.3,70.9L338.0,66.0 M360.6,89.5L363.3,87.8 M309.7,51.4L312.8,54.8 M293.5,59.2L292.7,54.9 M315.3,63.4L317.3,58.5 M346.1,84.0L345.7,83.1 M327.8,86.5L331.5,88.1 M355.4,82.6L352.9,86.7 M346.1,84.0L344.0,86.6 M314.1,82.2L313.4,79.2 M298.9,55.5L299.4,57.0 M299.0,66.0L298.7,64.4 M338.4,83.1L343.2,79.8 M372.9,90.5L369.2,86.9 M358.5,87.1L359.3,85.9 M318.4,73.3L321.2,74.2 M331.9,67.0L331.0,63.7 M341.7,85.9L344.0,86.6 M297.7,68.4L295.0,69.0 M326.2,64.4L326.1,62.9 M297.9,56.3L299.4,57.0 M367.4,86.8L366.5,85.1 M323.6,61.3L320.8,62.1 M371.0,84.2L374.7,85.1 M343.2,72.2L345.3,74.1 M372.3,98.6L374.7,97.9 M320.8,62.1L320.6,62.9 M347.9,89.9L349.3,91.1 M320.1,78.8L321.0,76.6 M328.8,71.1L329.9,66.9 M294.1,54.4L296.2,57.9 M328.5,83.3L326.0,82.3 M310.6,78.4L313.0,82.0 M325.2,59.4L325.1,58.9 M320.1,78.6L320.1,78.8 M329.0,73.4L328.8,74.3 M356.4,95.1L358.6,94.7 M320.5,84.3L322.7,84.3 M316.3,73.9L318.4,73.3 M318.4,73.3L319.8,71.8 M326.2,61.3L328.3,61.0 M326.9,64.1L327.0,64.1 M350.7,76.5L363.1,83.5 M360.7,93.9L361.1,91.4 M326.3,84.4L325.2,85.6 M322.5,74.2L324.8,71.4 M373.6,88.8L374.7,85.1 M291.4,60.0L290.9,61.2 M347.4,88.9L352.9,86.7 M289.0,54.8L289.9,58.7 M317.2,63.2L319.4,66.4 M331.5,61.7L331.0,63.7 M312.1,77.3L310.4,76.8 M298.5,55.2L297.9,56.3 M314.9,65.5L315.1,63.7 M373.5,85.5L373.6,88.8" stroke="#c37ee9" stroke-width="0.45" fill="none"/>
<g fill="#d59cf2" opacity="0.8">
  <ellipse cx="318" cy="83.2" rx="5.2" ry="2.2" transform="rotate(28 318 83.2)"/>
  <ellipse cx="342.5" cy="68.8" rx="4.6" ry="2.2" transform="rotate(30 342.5 68.8)"/>
  <ellipse cx="373" cy="91" rx="2.6" ry="5.5" transform="rotate(10 373 91)"/>
  <ellipse cx="366" cy="101" rx="2.2" ry="3" />
</g>
<!-- head -->
<ellipse cx="285.8" cy="48.5" rx="7.9" ry="7.2" transform="rotate(-15 285.8 48.5)" fill="#f2dcfb" stroke="#c98ef0" stroke-width="0.5"/>
<path d="M291.1,44.9L292.7,44.7 M284.5,46.7L282.9,44.7 M291.5,43.3L292.7,44.7 M280.7,49.1L279.6,47.0 M283.3,50.7L284.4,49.9 M286.1,44.8L286.0,41.3 M286.4,46.4L285.8,48.2 M280.4,53.4L282.3,54.8 M282.3,54.8L283.6,55.5 M279.6,47.0L278.3,46.8 M289.5,51.7L288.3,49.8 M280.4,53.4L278.9,52.3 M290.2,42.9L288.0,41.5 M280.7,49.1L279.4,49.7 M285.0,42.2L283.1,44.2 M284.5,50.7L284.4,49.9 M285.0,53.4L284.5,50.7 M281.6,48.7L279.6,47.0 M280.4,53.4L281.1,51.9 M280.6,50.8L279.4,49.7 M289.0,46.9L291.1,44.9 M283.3,50.7L281.8,51.5 M282.2,47.9L281.6,48.7 M281.8,51.5L281.2,48.9 M291.1,44.9L293.4,46.5 M280.5,45.5L280.4,43.5 M293.3,50.2L292.5,52.0 M284.5,46.7L285.1,47.1 M289.0,46.9L288.7,46.6 M286.1,44.8L285.0,42.2 M285.8,48.2L285.8,48.3 M283.3,50.7L283.8,48.5 M285.8,48.2L285.0,47.3 M292.5,52.0L291.2,53.5 M282.2,47.9L282.1,46.5 M279.4,49.7L277.9,48.7 M285.0,53.4L287.7,55.5 M282.9,44.7L283.1,44.2 M286.4,46.4L284.5,46.7 M282.1,44.9L280.4,43.5 M286.3,51.2L284.5,50.7 M281.8,51.5L285.0,53.4 M291.1,44.9L290.2,42.9 M291.2,53.5L289.6,54.7 M290.2,42.9L288.7,46.6 M290.2,52.3L292.5,52.0 M286.3,51.2L288.3,49.8 M285.0,53.4L283.6,55.5 M293.4,46.5L293.7,48.3 M280.1,53.7L278.9,52.3 M289.6,54.7L287.7,55.5 M287.7,55.5L285.6,55.7 M293.7,48.3L293.3,50.2 M278.6,47.8L278.3,46.8 M280.5,45.5L279.6,47.0 M280.6,50.8L281.0,51.5 M290.2,52.3L289.6,54.7 M281.8,51.5L282.3,54.8 M283.8,48.5L284.4,49.9 M290.2,47.6L289.0,46.9 M287.0,45.2L288.0,41.5 M280.7,49.1L280.6,50.8 M290.2,47.6L290.2,48.0 M278.9,52.3L278.2,50.5 M290.2,47.6L291.3,47.5 M280.7,49.1L281.2,48.9 M286.3,51.2L287.7,55.5 M290.2,42.9L291.5,43.3 M289.5,51.7L292.5,52.0 M282.2,47.9L283.8,48.5 M278.6,47.8L278.2,48.5 M286.3,51.2L289.5,51.7 M285.6,55.7L283.6,55.5 M287.0,45.2L290.2,42.9 M291.3,47.5L293.7,48.3 M278.2,48.5L278.3,46.8 M278.2,50.5L277.9,48.7 M284.8,48.8L284.4,49.9 M281.8,51.5L281.1,51.9 M291.1,44.9L291.3,47.5 M282.3,54.8L281.7,54.9 M280.6,50.8L281.2,48.9 M286.1,44.8L284.5,46.7 M291.1,44.9L288.7,46.6 M289.0,46.9L285.8,48.2 M283.6,55.5L281.7,54.9 M282.1,46.5L282.1,44.9 M289.5,51.7L289.6,54.7 M293.4,46.5L292.7,44.7 M281.0,51.5L281.1,51.9 M285.0,42.2L286.0,41.3 M286.4,46.4L285.1,47.1 M283.1,44.2L283.9,41.5 M279.4,49.7L278.2,50.5 M285.8,48.3L288.3,49.8 M281.7,54.9L280.1,53.7 M286.1,44.8L282.9,44.7 M282.1,44.9L282.9,44.7 M286.0,41.3L288.0,41.5 M285.1,47.1L285.0,47.3 M285.8,48.2L285.1,47.1 M286.1,44.8L283.1,44.2 M287.0,45.2L286.1,44.8 M282.1,44.9L283.1,44.2 M291.1,44.9L291.5,43.3 M279.1,45.0L280.4,43.5 M284.8,48.8L285.8,48.2 M286.3,51.2L285.0,53.4 M284.8,48.8L283.8,48.5 M290.2,48.0L293.3,50.2 M287.0,45.2L288.7,46.6 M285.0,53.4L285.6,55.7 M283.8,48.5L285.0,47.3 M280.7,49.1L278.6,47.8 M282.2,47.9L284.5,46.7 M290.2,47.6L291.1,44.9 M285.8,48.3L284.4,49.9 M286.3,51.2L284.4,49.9 M283.3,50.7L284.5,50.7 M280.4,53.4L280.1,53.7 M278.6,47.8L279.6,47.0 M282.2,47.9L279.6,47.0 M280.6,50.8L278.2,50.5 M284.5,46.7L283.8,48.5 M280.5,45.5L282.1,44.9 M284.8,48.8L285.8,48.3 M279.4,49.7L278.2,48.5 M280.4,43.5L282.0,42.3 M284.8,48.8L285.0,47.3 M290.2,52.3L291.2,53.5 M286.1,44.8L288.0,41.5 M282.0,42.3L283.9,41.5 M286.4,46.4L288.7,46.6 M279.6,47.0L279.1,45.0 M278.6,47.8L279.4,49.7 M280.5,45.5L279.1,45.0 M281.0,51.5L278.9,52.3 M289.5,51.7L293.3,50.2 M290.2,42.9L289.9,42.1 M287.0,45.2L286.4,46.4 M277.9,48.7L278.3,46.8 M281.2,48.9L279.6,47.0 M284.5,46.7L285.0,47.3 M281.6,48.7L281.2,48.9 M291.3,47.5L293.4,46.5 M278.2,48.5L277.9,48.7 M285.8,48.2L288.7,46.6 M285.0,53.4L282.3,54.8 M281.8,51.5L281.0,51.5 M286.1,44.8L286.4,46.4 M281.1,51.9L282.3,54.8 M282.1,46.5L280.5,45.5 M283.9,41.5L286.0,41.3 M281.1,51.9L278.9,52.3 M278.3,46.8L279.1,45.0 M290.2,48.0L291.3,47.5 M285.8,48.2L288.3,49.8 M281.6,48.7L283.8,48.5 M281.8,51.5L280.6,50.8 M291.3,47.5L293.3,50.2 M285.0,42.2L283.9,41.5 M283.1,44.2L282.0,42.3 M289.5,51.7L290.2,52.3 M288.0,41.5L289.9,42.1 M282.1,46.5L284.5,46.7 M286.3,51.2L285.8,48.3 M289.0,46.9L290.2,48.0 M283.3,50.7L281.6,48.7 M282.1,46.5L279.6,47.0 M289.5,51.7L287.7,55.5 M290.2,48.0L288.3,49.8 M281.8,51.5L281.6,48.7 M282.1,44.9L282.0,42.3 M289.9,42.1L291.5,43.3 M289.5,51.7L290.2,48.0 M289.0,46.9L288.3,49.8 M283.3,50.7L285.0,53.4 M280.4,53.4L281.7,54.9 M282.1,46.5L282.9,44.7 M280.6,50.8L278.9,52.3" stroke="#c37ee9" stroke-width="0.45" fill="none"/>
</g>

<g id="nozzle">
<!-- pink triangles -->
<polygon points="222.8,12.6 257.4,19.2 222.8,19.2" fill="#eba8ee" stroke="#c070c8" stroke-width="0.4"/>
<polygon points="222.8,78.4 257.4,78.4 222.8,85" fill="#eba8ee" stroke="#c070c8" stroke-width="0.4"/>
<!-- salmon rects -->
<rect x="222.8" y="19.2" width="34.6" height="4.5" fill="#f08a7c" stroke="#c86a60" stroke-width="0.3"/>
<rect x="222.8" y="74" width="34.6" height="4.4" fill="#f08a7c" stroke="#c86a60" stroke-width="0.3"/>
<!-- thin strips -->
<rect x="224" y="23.7" width="33" height="0.9" fill="#c8b078"/>
<rect x="224" y="73.1" width="33" height="0.9" fill="#c8b078"/>
<!-- dark red bumps top -->
<g fill="#7a1a1a">
  <ellipse cx="230.6" cy="26.2" rx="2.4" ry="1.5"/>
  <ellipse cx="237.9" cy="26.2" rx="2.4" ry="1.5"/>
  <ellipse cx="245.2" cy="26.2" rx="2.4" ry="1.5"/>
  <ellipse cx="225.2" cy="27.6" rx="1.6" ry="1"/>
  <ellipse cx="250.8" cy="27.6" rx="1.6" ry="1"/>
  <ellipse cx="230.6" cy="71.4" rx="2.4" ry="1.5"/>
  <ellipse cx="237.9" cy="71.4" rx="2.4" ry="1.5"/>
  <ellipse cx="245.2" cy="71.4" rx="2.4" ry="1.5"/>
  <ellipse cx="225.2" cy="70.1" rx="1.6" ry="1"/>
  <ellipse cx="250.8" cy="70.1" rx="1.6" ry="1"/>
</g>
<rect x="228.6" y="28.3" width="19" height="1.2" fill="#f2c4a6"/>
<rect x="228.6" y="68.3" width="19" height="1.2" fill="#f2c4a6"/>
<!-- blue columns -->
<rect x="229.1" y="29.5" width="8.2" height="38.9" fill="#72a4e8" stroke="#5a86c8" stroke-width="0.4"/>
<rect x="239.1" y="29.5" width="8.1" height="38.9" fill="#72a4e8" stroke="#5a86c8" stroke-width="0.4"/>
<rect x="237.3" y="29.5" width="1.8" height="38.9" fill="#e6dcc8"/>
<line x1="229.1" y1="49.2" x2="247.2" y2="49.2" stroke="#4a72b0" stroke-width="0.6"/>
<!-- yellow column -->
<rect x="215.1" y="7.3" width="6.6" height="83" fill="#f2d882" stroke="#a87a48" stroke-width="0.6"/>
<rect x="215.4" y="7.5" width="6" height="1.6" fill="#b08850"/>
<g stroke="#7a5a30" stroke-width="0.8">
  <line x1="215.4" y1="25" x2="221.4" y2="25"/>
  <line x1="215.4" y1="41.6" x2="221.4" y2="41.8"/>
  <line x1="215.4" y1="57.6" x2="221.4" y2="57.8"/>
  <line x1="215.4" y1="73.6" x2="221.4" y2="74"/>
  <line x1="215.4" y1="89.4" x2="221.4" y2="89.5"/>
</g>
<line x1="222.4" y1="10" x2="222.4" y2="88" stroke="#c080d8" stroke-width="0.7"/>
<!-- small yellow column right -->
<rect x="253.1" y="23.7" width="4" height="9" fill="#f2d882" stroke="#c8a860" stroke-width="0.3"/>
<rect x="253.9" y="64.4" width="2.9" height="5.2" fill="#f2d882" stroke="#c8a860" stroke-width="0.3"/>
<!-- ripple filter -->
<rect x="251.6" y="32.2" width="7.4" height="32.4" rx="2.6" ry="1.8" fill="#b49c5e" stroke="#c88c8c" stroke-width="0.8"/>
<line x1="254.6" y1="34" x2="254.6" y2="63" stroke="#d4c08a" stroke-width="0.9"/>
<!-- dotted beam lines -->
<g stroke="#111" stroke-width="1.3" stroke-dasharray="1.2,1.6">
  <line x1="213.6" y1="47.6" x2="215" y2="47.6"/>
  <line x1="222.8" y1="47.1" x2="229" y2="47.1"/>
  <line x1="222.8" y1="51.3" x2="229" y2="51.3"/>
  <line x1="247.6" y1="47.3" x2="251.2" y2="47.3"/>
  <line x1="247.6" y1="51.5" x2="251.2" y2="51.5"/>
  <line x1="260.3" y1="47.4" x2="272.5" y2="47.4"/>
  <line x1="260.3" y1="52.6" x2="272.5" y2="52.6"/>
</g>
<g fill="#111">
  <polygon points="272,45.5 276,47.4 272,49.3"/>
  <polygon points="272,50.7 276,52.6 272,54.5"/>
</g>
<!-- beam monitors arrow -->
<g stroke="#666" stroke-width="0.6" fill="#333">
  <line x1="239.4" y1="85" x2="239.4" y2="101"/>
  <polygon points="238.6,85.6 239.4,83.6 240.2,85.6"/>
</g>
<!-- ripple filter arrow -->
<line x1="257" y1="70" x2="265.6" y2="85.5" stroke="#777" stroke-width="0.6"/>
</g>

</svg></body></html>
